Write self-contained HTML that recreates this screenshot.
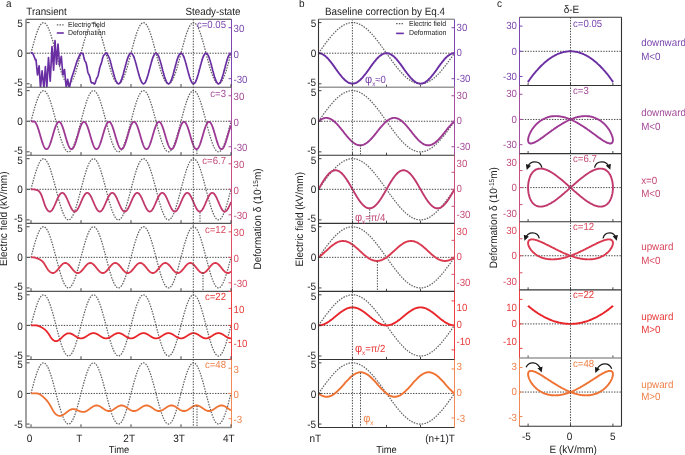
<!DOCTYPE html>
<html><head><meta charset="utf-8"><style>
html,body{margin:0;padding:0;background:#fff;width:685px;height:455px;overflow:hidden}
svg{display:block;will-change:transform}
text{font-family:"Liberation Sans",sans-serif;text-rendering:geometricPrecision}
</style></head><body>
<svg width="685" height="455" viewBox="0 0 685 455" font-family="Liberation Sans, sans-serif"><defs><clipPath id="ca0"><rect x="26" y="19.2" width="205.5" height="68.05"/></clipPath><clipPath id="ca1"><rect x="26" y="87.25" width="205.5" height="68.05"/></clipPath><clipPath id="ca2"><rect x="26" y="155.3" width="205.5" height="68.05"/></clipPath><clipPath id="ca3"><rect x="26" y="223.35" width="205.5" height="68.05"/></clipPath><clipPath id="ca4"><rect x="26" y="291.4" width="205.5" height="68.05"/></clipPath><clipPath id="ca5"><rect x="26" y="359.45" width="205.5" height="68.05"/></clipPath><clipPath id="cb0"><rect x="318.5" y="19.2" width="136" height="68.05"/></clipPath><clipPath id="cb1"><rect x="318.5" y="87.25" width="136" height="68.05"/></clipPath><clipPath id="cb2"><rect x="318.5" y="155.3" width="136" height="68.05"/></clipPath><clipPath id="cb3"><rect x="318.5" y="223.35" width="136" height="68.05"/></clipPath><clipPath id="cb4"><rect x="318.5" y="291.4" width="136" height="68.05"/></clipPath><clipPath id="cb5"><rect x="318.5" y="359.45" width="136" height="68.05"/></clipPath><clipPath id="cc0"><rect x="519.5" y="17.3" width="102" height="68.15"/></clipPath><clipPath id="cc1"><rect x="519.5" y="85.45" width="102" height="68.15"/></clipPath><clipPath id="cc2"><rect x="519.5" y="153.6" width="102" height="68.15"/></clipPath><clipPath id="cc3"><rect x="519.5" y="221.75" width="102" height="68.15"/></clipPath><clipPath id="cc4"><rect x="519.5" y="289.9" width="102" height="68.15"/></clipPath><clipPath id="cc5"><rect x="519.5" y="358.05" width="102" height="68.15"/></clipPath><marker id="ah" viewBox="0 0 10 10" refX="5" refY="5" markerWidth="4.2" markerHeight="4.2" orient="auto-start-reverse"><path d="M0,0 L10,5 L0,10 z" fill="#1a1a1a"/></marker></defs>
<text transform="translate(6,7.3) scale(1,1.07)" font-size="10" fill="#222" text-anchor="start" >a</text>
<text transform="translate(26.3,14.5) scale(1,1.07)" font-size="9.8" fill="#222" text-anchor="start" >Transient</text>
<text transform="translate(240.5,14.6) scale(1,1.07)" font-size="9.8" fill="#222" text-anchor="end" >Steady-state</text>
<text transform="translate(299,7.3) scale(1,1.07)" font-size="10" fill="#222" text-anchor="start" >b</text>
<text transform="translate(385,15.1) scale(1,1.07)" font-size="9.9" fill="#222" text-anchor="middle" >Baseline correction by Eq.4</text>
<text transform="translate(497,7.3) scale(1,1.07)" font-size="10" fill="#222" text-anchor="start" >c</text>
<text transform="translate(571.5,13.2) scale(1,1.07)" font-size="10" fill="#222" text-anchor="middle" >δ-E</text>
<path d="M26,53.2 H231.5" stroke="#484848" stroke-width="1" stroke-dasharray="1.4 1.3" fill="none"/>
<path d="M31,53.2 31.8,50 32.7,46.8 33.5,43.7 34.3,40.8 35.2,37.9 36,35.2 36.8,32.7 37.7,30.5 38.5,28.4 39.3,26.7 40.2,25.2 41,24.1 41.8,23.3 42.7,22.8 43.5,22.6 44.3,22.8 45.2,23.3 46,24.1 46.8,25.2 47.7,26.7 48.5,28.4 49.3,30.5 50.2,32.7 51,35.2 51.8,37.9 52.7,40.8 53.5,43.7 54.3,46.8 55.2,50 56,53.2 56.8,56.4 57.7,59.6 58.5,62.7 59.3,65.6 60.2,68.5 61,71.2 61.8,73.7 62.7,75.9 63.5,78 64.3,79.7 65.2,81.2 66,82.3 66.8,83.1 67.7,83.6 68.5,83.8 69.3,83.6 70.2,83.1 71,82.3 71.8,81.2 72.7,79.7 73.5,78 74.3,75.9 75.2,73.7 76,71.2 76.8,68.5 77.7,65.6 78.5,62.7 79.3,59.6 80.2,56.4 81,53.2 81.8,50 82.7,46.8 83.5,43.7 84.3,40.8 85.2,37.9 86,35.2 86.8,32.7 87.7,30.5 88.5,28.4 89.3,26.7 90.2,25.2 91,24.1 91.8,23.3 92.7,22.8 93.5,22.6 94.3,22.8 95.2,23.3 96,24.1 96.8,25.2 97.7,26.7 98.5,28.4 99.3,30.5 100.2,32.7 101,35.2 101.8,37.9 102.7,40.8 103.5,43.7 104.3,46.8 105.2,50 106,53.2 106.8,56.4 107.7,59.6 108.5,62.7 109.3,65.6 110.2,68.5 111,71.2 111.8,73.7 112.7,75.9 113.5,78 114.3,79.7 115.2,81.2 116,82.3 116.8,83.1 117.7,83.6 118.5,83.8 119.3,83.6 120.2,83.1 121,82.3 121.8,81.2 122.7,79.7 123.5,78 124.3,75.9 125.2,73.7 126,71.2 126.8,68.5 127.7,65.6 128.5,62.7 129.3,59.6 130.2,56.4 131,53.2 131.8,50 132.7,46.8 133.5,43.7 134.3,40.8 135.2,37.9 136,35.2 136.8,32.7 137.7,30.5 138.5,28.4 139.3,26.7 140.2,25.2 141,24.1 141.8,23.3 142.7,22.8 143.5,22.6 144.3,22.8 145.2,23.3 146,24.1 146.8,25.2 147.7,26.7 148.5,28.4 149.3,30.5 150.2,32.7 151,35.2 151.8,37.9 152.7,40.8 153.5,43.7 154.3,46.8 155.2,50 156,53.2 156.8,56.4 157.7,59.6 158.5,62.7 159.3,65.6 160.2,68.5 161,71.2 161.8,73.7 162.7,75.9 163.5,78 164.3,79.7 165.2,81.2 166,82.3 166.8,83.1 167.7,83.6 168.5,83.8 169.3,83.6 170.2,83.1 171,82.3 171.8,81.2 172.7,79.7 173.5,78 174.3,75.9 175.2,73.7 176,71.2 176.8,68.5 177.7,65.6 178.5,62.7 179.3,59.6 180.2,56.4 181,53.2 181.8,50 182.7,46.8 183.5,43.7 184.3,40.8 185.2,37.9 186,35.2 186.8,32.7 187.7,30.5 188.5,28.4 189.3,26.7 190.2,25.2 191,24.1 191.8,23.3 192.7,22.8 193.5,22.6 194.3,22.8 195.2,23.3 196,24.1 196.8,25.2 197.7,26.7 198.5,28.4 199.3,30.5 200.2,32.7 201,35.2 201.8,37.9 202.7,40.8 203.5,43.7 204.3,46.8 205.2,50 206,53.2 206.8,56.4 207.7,59.6 208.5,62.7 209.3,65.6 210.2,68.5 211,71.2 211.8,73.7 212.7,75.9 213.5,78 214.3,79.7 215.2,81.2 216,82.3 216.8,83.1 217.7,83.6 218.5,83.8 219.3,83.6 220.2,83.1 221,82.3 221.8,81.2 222.7,79.7 223.5,78 224.3,75.9 225.2,73.7 226,71.2 226.8,68.5 227.7,65.6 228.5,62.7 229.3,59.6 230.2,56.4 231,53.2" stroke="#626262" stroke-width="1.25" stroke-dasharray="1.5 1.2" fill="none" clip-path="url(#ca0)"/>
<path d="M30.8,53.2 32.7,53.2 34.5,57.5 35.4,59.9 36,59.6 37.5,75 39.1,65.9 40.5,88.1 42.1,70.8 43.9,88.1 45.4,66.6 46.8,88.1 48.5,57.5 50.2,81.1 52,46.6 53.6,70.1 55,40.5 56.5,64.1 58,44.1 59.6,65.3 61.3,56.3 62.9,75 64.5,69.6 66.3,88.1 67.7,79.3 69.3,88.1 71.4,78.6 73.8,71.4 76.8,61.7 80.4,53.4 80.7,53.2 81.1,53.2 81.4,53.3 81.7,53.5 82.1,53.6 82.4,53.3 82.7,53.4 83.1,54.1 83.4,55.2 83.7,56.7 84.1,58.3 84.4,59.6 84.7,60.6 85.1,61.2 85.4,61.6 85.7,62.1 86.1,62.9 86.4,64.2 86.7,65.8 87.1,67.7 87.4,69.7 87.7,71.4 88.1,72.7 88.4,73.6 88.7,74.2 89.1,74.8 89.4,75.4 89.7,76.4 90.1,77.7 90.4,79.2 90.7,80.7 91.1,81.9 91.4,82.7 91.7,83 92.1,83 92.4,82.9 92.7,82.8 93.1,82.8 93.4,83.1 93.7,83.5 94.1,83.9 94.4,84.1 94.7,83.9 95.1,83.3 95.4,82.4 95.7,81.3 96.1,80.1 96.4,79.1 96.7,78.4 97.1,77.7 97.4,77.2 97.7,76.5 98.1,75.5 98.4,74.2 98.7,72.7 99.1,71 99.4,69.4 99.7,67.9 100.1,66.7 100.4,65.7 100.7,64.8 101.1,63.9 101.4,62.9 101.7,61.7 102.1,60.4 102.4,59 102.7,57.8 103.1,56.7 103.4,55.8 103.7,55.3 104.1,54.9 104.4,54.7 104.7,54.4 105.1,54.1 105.4,53.7 105.7,53.3 106.1,53 106.4,52.9 106.7,53.1 107.1,53.5 107.4,54.1 107.7,54.8 108.1,55.5 108.4,56.2 108.7,56.9 109.1,57.6 109.4,58.3 109.7,59.2 110.1,60.2 110.4,61.4 110.7,62.7 111.1,64.1 111.4,65.4 111.7,66.7 112.1,68 112.4,69.1 112.7,70.3 113.1,71.5 113.4,72.7 113.7,73.9 114.1,75.2 114.4,76.4 114.7,77.5 115.1,78.6 115.4,79.5 115.7,80.3 116.1,81 116.4,81.7 116.7,82.3 117.1,82.8 117.4,83.2 117.7,83.5 118.1,83.7 118.4,83.8 118.7,83.8 119.1,83.6 119.4,83.4 119.7,83.1 120.1,82.6 120.4,82.1 120.7,81.5 121.1,80.7 121.4,79.9 121.7,79 122.1,78.1 122.4,77 122.7,75.9 123.1,74.8 123.4,73.6 123.7,72.4 124.1,71.1 124.4,69.8 124.7,68.6 125.1,67.3 125.4,66 125.7,64.8 126.1,63.5 126.4,62.3 126.7,61.2 127.1,60.1 127.4,59 127.7,58.1 128.1,57.2 128.4,56.4 128.7,55.6 129.1,55 129.4,54.4 129.7,54 130.1,53.6 130.4,53.4 130.7,53.2 131.1,53.2 131.4,53.3 131.7,53.5 132.1,53.7 132.4,54.1 132.7,54.6 133.1,55.2 133.4,55.9 133.7,56.7 134.1,57.5 134.4,58.5 134.7,59.5 135.1,60.5 135.4,61.6 135.7,62.8 136.1,64 136.4,65.3 136.7,66.5 137.1,67.8 137.4,69.1 137.7,70.4 138.1,71.6 138.4,72.9 138.7,74.1 139.1,75.2 139.4,76.4 139.7,77.4 140.1,78.4 140.4,79.4 140.7,80.2 141.1,81 141.4,81.7 141.7,82.3 142.1,82.8 142.4,83.2 142.7,83.5 143.1,83.7 143.4,83.8 143.7,83.8 144.1,83.6 144.4,83.4 144.7,83.1 145.1,82.6 145.4,82.1 145.7,81.5 146.1,80.7 146.4,79.9 146.7,79 147.1,78.1 147.4,77 147.7,75.9 148.1,74.8 148.4,73.6 148.7,72.4 149.1,71.1 149.4,69.8 149.7,68.6 150.1,67.3 150.4,66 150.7,64.8 151.1,63.5 151.4,62.3 151.7,61.2 152.1,60.1 152.4,59 152.7,58.1 153.1,57.2 153.4,56.4 153.7,55.6 154.1,55 154.4,54.4 154.7,54 155.1,53.6 155.4,53.4 155.7,53.2 156.1,53.2 156.4,53.3 156.7,53.5 157.1,53.7 157.4,54.1 157.7,54.6 158.1,55.2 158.4,55.9 158.7,56.7 159.1,57.5 159.4,58.5 159.7,59.5 160.1,60.5 160.4,61.6 160.7,62.8 161.1,64 161.4,65.3 161.7,66.5 162.1,67.8 162.4,69.1 162.7,70.4 163.1,71.6 163.4,72.9 163.7,74.1 164.1,75.2 164.4,76.4 164.7,77.4 165.1,78.4 165.4,79.4 165.7,80.2 166.1,81 166.4,81.7 166.7,82.3 167.1,82.8 167.4,83.2 167.7,83.5 168.1,83.7 168.4,83.8 168.7,83.8 169.1,83.6 169.4,83.4 169.7,83.1 170.1,82.6 170.4,82.1 170.7,81.5 171.1,80.7 171.4,79.9 171.7,79 172.1,78.1 172.4,77 172.7,75.9 173.1,74.8 173.4,73.6 173.7,72.4 174.1,71.1 174.4,69.8 174.7,68.6 175.1,67.3 175.4,66 175.7,64.8 176.1,63.5 176.4,62.3 176.7,61.2 177.1,60.1 177.4,59 177.7,58.1 178.1,57.2 178.4,56.4 178.7,55.6 179.1,55 179.4,54.4 179.7,54 180.1,53.6 180.4,53.4 180.7,53.2 181.1,53.2 181.4,53.3 181.7,53.5 182.1,53.7 182.4,54.1 182.7,54.6 183.1,55.2 183.4,55.9 183.7,56.7 184.1,57.5 184.4,58.5 184.7,59.5 185.1,60.5 185.4,61.6 185.7,62.8 186.1,64 186.4,65.3 186.7,66.5 187.1,67.8 187.4,69.1 187.7,70.4 188.1,71.6 188.4,72.9 188.7,74.1 189.1,75.2 189.4,76.4 189.7,77.4 190.1,78.4 190.4,79.4 190.7,80.2 191.1,81 191.4,81.7 191.7,82.3 192.1,82.8 192.4,83.2 192.7,83.5 193.1,83.7 193.4,83.8 193.7,83.8 194.1,83.6 194.4,83.4 194.7,83.1 195.1,82.6 195.4,82.1 195.7,81.5 196.1,80.7 196.4,79.9 196.7,79 197.1,78.1 197.4,77 197.7,75.9 198.1,74.8 198.4,73.6 198.7,72.4 199.1,71.1 199.4,69.8 199.7,68.6 200.1,67.3 200.4,66 200.7,64.8 201.1,63.5 201.4,62.3 201.7,61.2 202.1,60.1 202.4,59 202.7,58.1 203.1,57.2 203.4,56.4 203.7,55.6 204.1,55 204.4,54.4 204.7,54 205.1,53.6 205.4,53.4 205.7,53.2 206.1,53.2 206.4,53.3 206.7,53.5 207.1,53.7 207.4,54.1 207.7,54.6 208.1,55.2 208.4,55.9 208.7,56.7 209.1,57.5 209.4,58.5 209.7,59.5 210.1,60.5 210.4,61.6 210.7,62.8 211.1,64 211.4,65.3 211.7,66.5 212.1,67.8 212.4,69.1 212.7,70.4 213.1,71.6 213.4,72.9 213.7,74.1 214.1,75.2 214.4,76.4 214.7,77.4 215.1,78.4 215.4,79.4 215.7,80.2 216.1,81 216.4,81.7 216.7,82.3 217.1,82.8 217.4,83.2 217.7,83.5 218.1,83.7 218.4,83.8 218.7,83.8 219.1,83.6 219.4,83.4 219.7,83.1 220.1,82.6 220.4,82.1 220.7,81.5 221.1,80.7 221.4,79.9 221.7,79 222.1,78.1 222.4,77 222.7,75.9 223.1,74.8 223.4,73.6 223.7,72.4 224.1,71.1 224.4,69.8 224.7,68.6 225.1,67.3 225.4,66 225.7,64.8 226.1,63.5 226.4,62.3 226.7,61.2 227.1,60.1 227.4,59 227.7,58.1 228.1,57.2 228.4,56.4 228.7,55.6 229.1,55 229.4,54.4 229.7,54 230.1,53.6 230.4,53.4 230.7,53.2" stroke="#6a2ea3" stroke-width="1.7" fill="none" stroke-linejoin="round" clip-path="url(#ca0)"/>
<path d="M26,121.25 H231.5" stroke="#484848" stroke-width="1" stroke-dasharray="1.4 1.3" fill="none"/>
<path d="M31,121.2 31.8,118.1 32.7,114.9 33.5,111.8 34.3,108.8 35.2,106 36,103.3 36.8,100.8 37.7,98.5 38.5,96.5 39.3,94.7 40.2,93.3 41,92.1 41.8,91.3 42.7,90.8 43.5,90.7 44.3,90.8 45.2,91.3 46,92.1 46.8,93.3 47.7,94.7 48.5,96.5 49.3,98.5 50.2,100.8 51,103.3 51.8,106 52.7,108.8 53.5,111.8 54.3,114.9 55.2,118.1 56,121.2 56.8,124.4 57.7,127.6 58.5,130.7 59.3,133.7 60.2,136.6 61,139.2 61.8,141.7 62.7,144 63.5,146 64.3,147.8 65.2,149.2 66,150.4 66.8,151.2 67.7,151.7 68.5,151.8 69.3,151.7 70.2,151.2 71,150.4 71.8,149.2 72.7,147.8 73.5,146 74.3,144 75.2,141.7 76,139.2 76.8,136.6 77.7,133.7 78.5,130.7 79.3,127.6 80.2,124.4 81,121.3 81.8,118.1 82.7,114.9 83.5,111.8 84.3,108.8 85.2,106 86,103.3 86.8,100.8 87.7,98.5 88.5,96.5 89.3,94.7 90.2,93.3 91,92.1 91.8,91.3 92.7,90.8 93.5,90.7 94.3,90.8 95.2,91.3 96,92.1 96.8,93.3 97.7,94.7 98.5,96.5 99.3,98.5 100.2,100.8 101,103.3 101.8,106 102.7,108.8 103.5,111.8 104.3,114.9 105.2,118.1 106,121.2 106.8,124.4 107.7,127.6 108.5,130.7 109.3,133.7 110.2,136.5 111,139.2 111.8,141.7 112.7,144 113.5,146 114.3,147.8 115.2,149.2 116,150.4 116.8,151.2 117.7,151.7 118.5,151.8 119.3,151.7 120.2,151.2 121,150.4 121.8,149.2 122.7,147.8 123.5,146 124.3,144 125.2,141.7 126,139.2 126.8,136.6 127.7,133.7 128.5,130.7 129.3,127.6 130.2,124.4 131,121.3 131.8,118.1 132.7,114.9 133.5,111.8 134.3,108.8 135.2,105.9 136,103.3 136.8,100.8 137.7,98.5 138.5,96.5 139.3,94.7 140.2,93.3 141,92.1 141.8,91.3 142.7,90.8 143.5,90.7 144.3,90.8 145.2,91.3 146,92.1 146.8,93.3 147.7,94.7 148.5,96.5 149.3,98.5 150.2,100.8 151,103.3 151.8,105.9 152.7,108.8 153.5,111.8 154.3,114.9 155.2,118.1 156,121.2 156.8,124.4 157.7,127.6 158.5,130.7 159.3,133.7 160.2,136.5 161,139.2 161.8,141.7 162.7,144 163.5,146 164.3,147.8 165.2,149.2 166,150.4 166.8,151.2 167.7,151.7 168.5,151.8 169.3,151.7 170.2,151.2 171,150.4 171.8,149.2 172.7,147.8 173.5,146 174.3,144 175.2,141.7 176,139.2 176.8,136.6 177.7,133.7 178.5,130.7 179.3,127.6 180.2,124.4 181,121.3 181.8,118.1 182.7,114.9 183.5,111.8 184.3,108.8 185.2,106 186,103.3 186.8,100.8 187.7,98.5 188.5,96.5 189.3,94.7 190.2,93.3 191,92.1 191.8,91.3 192.7,90.8 193.5,90.7 194.3,90.8 195.2,91.3 196,92.1 196.8,93.3 197.7,94.7 198.5,96.5 199.3,98.5 200.2,100.8 201,103.3 201.8,105.9 202.7,108.8 203.5,111.8 204.3,114.9 205.2,118.1 206,121.2 206.8,124.4 207.7,127.6 208.5,130.7 209.3,133.7 210.2,136.5 211,139.2 211.8,141.7 212.7,144 213.5,146 214.3,147.8 215.2,149.2 216,150.4 216.8,151.2 217.7,151.7 218.5,151.8 219.3,151.7 220.2,151.2 221,150.4 221.8,149.2 222.7,147.8 223.5,146 224.3,144 225.2,141.7 226,139.2 226.8,136.6 227.7,133.7 228.5,130.7 229.3,127.6 230.2,124.4 231,121.3" stroke="#626262" stroke-width="1.25" stroke-dasharray="1.5 1.2" fill="none" clip-path="url(#ca1)"/>
<path d="M31,121.2 31.5,121.3 32,121.4 32.5,121.5 33,121.5 33.5,121.5 34,121.5 34.5,121.6 35,121.9 35.5,122.5 36,123.3 36.5,124.3 37,125.5 37.5,126.7 38,128.1 38.5,129.6 39,131.3 39.5,132.9 40,134.6 40.5,136.4 41,138.1 41.5,139.7 42,141.4 42.5,142.9 43,144.3 43.5,145.5 44,146.6 44.5,147.5 45,148.3 45.5,148.8 46,149.1 46.5,149.2 47,149.1 47.5,148.8 48,148.3 48.5,147.5 49,146.6 49.5,145.5 50,144.3 50.5,142.9 51,141.4 51.5,139.7 52,138.1 52.5,136.4 53,134.6 53.5,132.9 54,131.3 54.5,129.6 55,128.1 55.5,126.7 56,125.5 56.5,124.4 57,123.5 57.5,122.7 58,122.2 58.5,121.9 59,121.8 59.5,121.9 60,122.2 60.5,122.7 61,123.5 61.5,124.4 62,125.5 62.5,126.7 63,128.1 63.5,129.6 64,131.3 64.5,132.9 65,134.6 65.5,136.4 66,138.1 66.5,139.7 67,141.4 67.5,142.9 68,144.3 68.5,145.5 69,146.6 69.5,147.5 70,148.3 70.5,148.8 71,149.1 71.5,149.2 72,149.1 72.5,148.8 73,148.3 73.5,147.5 74,146.6 74.5,145.5 75,144.3 75.5,142.9 76,141.4 76.5,139.7 77,138.1 77.5,136.4 78,134.6 78.5,132.9 79,131.3 79.5,129.6 80,128.1 80.5,126.7 81,125.5 81.5,124.4 82,123.5 82.5,122.7 83,122.2 83.5,121.9 84,121.8 84.5,121.9 85,122.2 85.5,122.7 86,123.5 86.5,124.4 87,125.5 87.5,126.7 88,128.1 88.5,129.6 89,131.3 89.5,132.9 90,134.6 90.5,136.4 91,138.1 91.5,139.7 92,141.4 92.5,142.9 93,144.3 93.5,145.5 94,146.6 94.5,147.5 95,148.3 95.5,148.8 96,149.1 96.5,149.2 97,149.1 97.5,148.8 98,148.3 98.5,147.5 99,146.6 99.5,145.5 100,144.3 100.5,142.9 101,141.4 101.5,139.7 102,138.1 102.5,136.4 103,134.6 103.5,132.9 104,131.3 104.5,129.6 105,128.1 105.5,126.7 106,125.5 106.5,124.4 107,123.5 107.5,122.7 108,122.2 108.5,121.9 109,121.8 109.5,121.9 110,122.2 110.5,122.7 111,123.5 111.5,124.4 112,125.5 112.5,126.7 113,128.1 113.5,129.6 114,131.3 114.5,132.9 115,134.6 115.5,136.4 116,138.1 116.5,139.7 117,141.4 117.5,142.9 118,144.3 118.5,145.5 119,146.6 119.5,147.5 120,148.3 120.5,148.8 121,149.1 121.5,149.2 122,149.1 122.5,148.8 123,148.3 123.5,147.5 124,146.6 124.5,145.5 125,144.3 125.5,142.9 126,141.4 126.5,139.7 127,138.1 127.5,136.4 128,134.6 128.5,132.9 129,131.3 129.5,129.6 130,128.1 130.5,126.7 131,125.5 131.5,124.4 132,123.5 132.5,122.7 133,122.2 133.5,121.9 134,121.8 134.5,121.9 135,122.2 135.5,122.7 136,123.5 136.5,124.4 137,125.5 137.5,126.7 138,128.1 138.5,129.6 139,131.3 139.5,132.9 140,134.6 140.5,136.4 141,138.1 141.5,139.7 142,141.4 142.5,142.9 143,144.3 143.5,145.5 144,146.6 144.5,147.5 145,148.3 145.5,148.8 146,149.1 146.5,149.2 147,149.1 147.5,148.8 148,148.3 148.5,147.5 149,146.6 149.5,145.5 150,144.3 150.5,142.9 151,141.4 151.5,139.7 152,138.1 152.5,136.4 153,134.6 153.5,132.9 154,131.3 154.5,129.6 155,128.1 155.5,126.7 156,125.5 156.5,124.4 157,123.5 157.5,122.7 158,122.2 158.5,121.9 159,121.8 159.5,121.9 160,122.2 160.5,122.7 161,123.5 161.5,124.4 162,125.5 162.5,126.7 163,128.1 163.5,129.6 164,131.3 164.5,132.9 165,134.6 165.5,136.4 166,138.1 166.5,139.7 167,141.4 167.5,142.9 168,144.3 168.5,145.5 169,146.6 169.5,147.5 170,148.3 170.5,148.8 171,149.1 171.5,149.2 172,149.1 172.5,148.8 173,148.3 173.5,147.5 174,146.6 174.5,145.5 175,144.3 175.5,142.9 176,141.4 176.5,139.7 177,138.1 177.5,136.4 178,134.6 178.5,132.9 179,131.3 179.5,129.6 180,128.1 180.5,126.7 181,125.5 181.5,124.4 182,123.5 182.5,122.7 183,122.2 183.5,121.9 184,121.8 184.5,121.9 185,122.2 185.5,122.7 186,123.5 186.5,124.4 187,125.5 187.5,126.7 188,128.1 188.5,129.6 189,131.3 189.5,132.9 190,134.6 190.5,136.4 191,138.1 191.5,139.7 192,141.4 192.5,142.9 193,144.3 193.5,145.5 194,146.6 194.5,147.5 195,148.3 195.5,148.8 196,149.1 196.5,149.2 197,149.1 197.5,148.8 198,148.3 198.5,147.5 199,146.6 199.5,145.5 200,144.3 200.5,142.9 201,141.4 201.5,139.7 202,138.1 202.5,136.4 203,134.6 203.5,132.9 204,131.3 204.5,129.6 205,128.1 205.5,126.7 206,125.5 206.5,124.4 207,123.5 207.5,122.7 208,122.2 208.5,121.9 209,121.8 209.5,121.9 210,122.2 210.5,122.7 211,123.5 211.5,124.4 212,125.5 212.5,126.7 213,128.1 213.5,129.6 214,131.3 214.5,132.9 215,134.6 215.5,136.4 216,138.1 216.5,139.7 217,141.4 217.5,142.9 218,144.3 218.5,145.5 219,146.6 219.5,147.5 220,148.3 220.5,148.8 221,149.1 221.5,149.2 222,149.1 222.5,148.8 223,148.3 223.5,147.5 224,146.6 224.5,145.5 225,144.3 225.5,142.9 226,141.4 226.5,139.7 227,138.1 227.5,136.4 228,134.6 228.5,132.9 229,131.3 229.5,129.6 230,128.1 230.5,126.7 231,125.5" stroke="#9d3893" stroke-width="1.8" fill="none" stroke-linejoin="round" clip-path="url(#ca1)"/>
<path d="M26,189.3 H231.5" stroke="#484848" stroke-width="1" stroke-dasharray="1.4 1.3" fill="none"/>
<path d="M31,189.3 31.8,186.1 32.7,182.9 33.5,179.8 34.3,176.9 35.2,174 36,171.3 36.8,168.8 37.7,166.6 38.5,164.5 39.3,162.8 40.2,161.3 41,160.2 41.8,159.4 42.7,158.9 43.5,158.7 44.3,158.9 45.2,159.4 46,160.2 46.8,161.3 47.7,162.8 48.5,164.5 49.3,166.6 50.2,168.8 51,171.3 51.8,174 52.7,176.9 53.5,179.8 54.3,182.9 55.2,186.1 56,189.3 56.8,192.5 57.7,195.7 58.5,198.8 59.3,201.7 60.2,204.6 61,207.3 61.8,209.8 62.7,212 63.5,214.1 64.3,215.8 65.2,217.3 66,218.4 66.8,219.2 67.7,219.7 68.5,219.9 69.3,219.7 70.2,219.2 71,218.4 71.8,217.3 72.7,215.8 73.5,214.1 74.3,212 75.2,209.8 76,207.3 76.8,204.6 77.7,201.7 78.5,198.8 79.3,195.7 80.2,192.5 81,189.3 81.8,186.1 82.7,182.9 83.5,179.8 84.3,176.9 85.2,174 86,171.3 86.8,168.8 87.7,166.6 88.5,164.5 89.3,162.8 90.2,161.3 91,160.2 91.8,159.4 92.7,158.9 93.5,158.7 94.3,158.9 95.2,159.4 96,160.2 96.8,161.3 97.7,162.8 98.5,164.5 99.3,166.6 100.2,168.8 101,171.3 101.8,174 102.7,176.9 103.5,179.8 104.3,182.9 105.2,186.1 106,189.3 106.8,192.5 107.7,195.7 108.5,198.8 109.3,201.7 110.2,204.6 111,207.3 111.8,209.8 112.7,212 113.5,214.1 114.3,215.8 115.2,217.3 116,218.4 116.8,219.2 117.7,219.7 118.5,219.9 119.3,219.7 120.2,219.2 121,218.4 121.8,217.3 122.7,215.8 123.5,214.1 124.3,212 125.2,209.8 126,207.3 126.8,204.6 127.7,201.7 128.5,198.8 129.3,195.7 130.2,192.5 131,189.3 131.8,186.1 132.7,182.9 133.5,179.8 134.3,176.9 135.2,174 136,171.3 136.8,168.8 137.7,166.6 138.5,164.5 139.3,162.8 140.2,161.3 141,160.2 141.8,159.4 142.7,158.9 143.5,158.7 144.3,158.9 145.2,159.4 146,160.2 146.8,161.3 147.7,162.8 148.5,164.5 149.3,166.6 150.2,168.8 151,171.3 151.8,174 152.7,176.9 153.5,179.8 154.3,182.9 155.2,186.1 156,189.3 156.8,192.5 157.7,195.7 158.5,198.8 159.3,201.7 160.2,204.6 161,207.3 161.8,209.8 162.7,212 163.5,214.1 164.3,215.8 165.2,217.3 166,218.4 166.8,219.2 167.7,219.7 168.5,219.9 169.3,219.7 170.2,219.2 171,218.4 171.8,217.3 172.7,215.8 173.5,214.1 174.3,212 175.2,209.8 176,207.3 176.8,204.6 177.7,201.7 178.5,198.8 179.3,195.7 180.2,192.5 181,189.3 181.8,186.1 182.7,182.9 183.5,179.8 184.3,176.9 185.2,174 186,171.3 186.8,168.8 187.7,166.6 188.5,164.5 189.3,162.8 190.2,161.3 191,160.2 191.8,159.4 192.7,158.9 193.5,158.7 194.3,158.9 195.2,159.4 196,160.2 196.8,161.3 197.7,162.8 198.5,164.5 199.3,166.6 200.2,168.8 201,171.3 201.8,174 202.7,176.9 203.5,179.8 204.3,182.9 205.2,186.1 206,189.3 206.8,192.5 207.7,195.7 208.5,198.8 209.3,201.7 210.2,204.6 211,207.3 211.8,209.8 212.7,212 213.5,214.1 214.3,215.8 215.2,217.3 216,218.4 216.8,219.2 217.7,219.7 218.5,219.9 219.3,219.7 220.2,219.2 221,218.4 221.8,217.3 222.7,215.8 223.5,214.1 224.3,212 225.2,209.8 226,207.3 226.8,204.6 227.7,201.7 228.5,198.8 229.3,195.7 230.2,192.5 231,189.3" stroke="#626262" stroke-width="1.25" stroke-dasharray="1.5 1.2" fill="none" clip-path="url(#ca2)"/>
<path d="M31,189.3 31.5,189.3 32,189.3 32.5,189.3 33,189.3 33.5,189.3 34,189.4 34.5,189.5 35,189.6 35.5,189.7 36,189.8 36.5,190 37,190.1 37.5,190.3 38,190.5 38.5,190.8 39,191.2 39.5,191.8 40,192.5 40.5,193.3 41,194.2 41.5,195.4 42,196.6 42.5,198 43,199.4 43.5,201 44,202.5 44.5,204 45,205.4 45.5,206.7 46,207.7 46.5,208.6 47,209.4 47.5,210.1 48,210.7 48.5,211.1 49,211.4 49.5,211.6 50,211.6 50.5,211.4 51,211.1 51.5,210.7 52,210.1 52.5,209.4 53,208.6 53.5,207.7 54,206.7 54.5,205.7 55,204.5 55.5,203.4 56,202.2 56.5,201 57,199.9 57.5,198.7 58,197.7 58.5,196.7 59,195.8 59.5,195 60,194.3 60.5,193.7 61,193.3 61.5,193 62,192.8 62.5,192.8 63,193 63.5,193.3 64,193.7 64.5,194.3 65,195 65.5,195.8 66,196.7 66.5,197.7 67,198.7 67.5,199.9 68,201 68.5,202.2 69,203.4 69.5,204.5 70,205.7 70.5,206.7 71,207.7 71.5,208.6 72,209.4 72.5,210.1 73,210.7 73.5,211.1 74,211.4 74.5,211.6 75,211.6 75.5,211.4 76,211.1 76.5,210.7 77,210.1 77.5,209.4 78,208.6 78.5,207.7 79,206.7 79.5,205.7 80,204.5 80.5,203.4 81,202.2 81.5,201 82,199.9 82.5,198.7 83,197.7 83.5,196.7 84,195.8 84.5,195 85,194.3 85.5,193.7 86,193.3 86.5,193 87,192.8 87.5,192.8 88,193 88.5,193.3 89,193.7 89.5,194.3 90,195 90.5,195.8 91,196.7 91.5,197.7 92,198.7 92.5,199.9 93,201 93.5,202.2 94,203.4 94.5,204.5 95,205.7 95.5,206.7 96,207.7 96.5,208.6 97,209.4 97.5,210.1 98,210.7 98.5,211.1 99,211.4 99.5,211.6 100,211.6 100.5,211.4 101,211.1 101.5,210.7 102,210.1 102.5,209.4 103,208.6 103.5,207.7 104,206.7 104.5,205.7 105,204.5 105.5,203.4 106,202.2 106.5,201 107,199.9 107.5,198.7 108,197.7 108.5,196.7 109,195.8 109.5,195 110,194.3 110.5,193.7 111,193.3 111.5,193 112,192.8 112.5,192.8 113,193 113.5,193.3 114,193.7 114.5,194.3 115,195 115.5,195.8 116,196.7 116.5,197.7 117,198.7 117.5,199.9 118,201 118.5,202.2 119,203.4 119.5,204.5 120,205.7 120.5,206.7 121,207.7 121.5,208.6 122,209.4 122.5,210.1 123,210.7 123.5,211.1 124,211.4 124.5,211.6 125,211.6 125.5,211.4 126,211.1 126.5,210.7 127,210.1 127.5,209.4 128,208.6 128.5,207.7 129,206.7 129.5,205.7 130,204.5 130.5,203.4 131,202.2 131.5,201 132,199.9 132.5,198.7 133,197.7 133.5,196.7 134,195.8 134.5,195 135,194.3 135.5,193.7 136,193.3 136.5,193 137,192.8 137.5,192.8 138,193 138.5,193.3 139,193.7 139.5,194.3 140,195 140.5,195.8 141,196.7 141.5,197.7 142,198.7 142.5,199.9 143,201 143.5,202.2 144,203.4 144.5,204.5 145,205.7 145.5,206.7 146,207.7 146.5,208.6 147,209.4 147.5,210.1 148,210.7 148.5,211.1 149,211.4 149.5,211.6 150,211.6 150.5,211.4 151,211.1 151.5,210.7 152,210.1 152.5,209.4 153,208.6 153.5,207.7 154,206.7 154.5,205.7 155,204.5 155.5,203.4 156,202.2 156.5,201 157,199.9 157.5,198.7 158,197.7 158.5,196.7 159,195.8 159.5,195 160,194.3 160.5,193.7 161,193.3 161.5,193 162,192.8 162.5,192.8 163,193 163.5,193.3 164,193.7 164.5,194.3 165,195 165.5,195.8 166,196.7 166.5,197.7 167,198.7 167.5,199.9 168,201 168.5,202.2 169,203.4 169.5,204.5 170,205.7 170.5,206.7 171,207.7 171.5,208.6 172,209.4 172.5,210.1 173,210.7 173.5,211.1 174,211.4 174.5,211.6 175,211.6 175.5,211.4 176,211.1 176.5,210.7 177,210.1 177.5,209.4 178,208.6 178.5,207.7 179,206.7 179.5,205.7 180,204.5 180.5,203.4 181,202.2 181.5,201 182,199.9 182.5,198.7 183,197.7 183.5,196.7 184,195.8 184.5,195 185,194.3 185.5,193.7 186,193.3 186.5,193 187,192.8 187.5,192.8 188,193 188.5,193.3 189,193.7 189.5,194.3 190,195 190.5,195.8 191,196.7 191.5,197.7 192,198.7 192.5,199.9 193,201 193.5,202.2 194,203.4 194.5,204.5 195,205.7 195.5,206.7 196,207.7 196.5,208.6 197,209.4 197.5,210.1 198,210.7 198.5,211.1 199,211.4 199.5,211.6 200,211.6 200.5,211.4 201,211.1 201.5,210.7 202,210.1 202.5,209.4 203,208.6 203.5,207.7 204,206.7 204.5,205.7 205,204.5 205.5,203.4 206,202.2 206.5,201 207,199.9 207.5,198.7 208,197.7 208.5,196.7 209,195.8 209.5,195 210,194.3 210.5,193.7 211,193.3 211.5,193 212,192.8 212.5,192.8 213,193 213.5,193.3 214,193.7 214.5,194.3 215,195 215.5,195.8 216,196.7 216.5,197.7 217,198.7 217.5,199.9 218,201 218.5,202.2 219,203.4 219.5,204.5 220,205.7 220.5,206.7 221,207.7 221.5,208.6 222,209.4 222.5,210.1 223,210.7 223.5,211.1 224,211.4 224.5,211.6 225,211.6 225.5,211.4 226,211.1 226.5,210.7 227,210.1 227.5,209.4 228,208.6 228.5,207.7 229,206.7 229.5,205.7 230,204.5 230.5,203.4 231,202.2" stroke="#c0386c" stroke-width="1.8" fill="none" stroke-linejoin="round" clip-path="url(#ca2)"/>
<path d="M26,257.35 H231.5" stroke="#484848" stroke-width="1" stroke-dasharray="1.4 1.3" fill="none"/>
<path d="M31,257.3 31.8,254.2 32.7,251 33.5,247.9 34.3,244.9 35.2,242 36,239.4 36.8,236.9 37.7,234.6 38.5,232.6 39.3,230.8 40.2,229.4 41,228.2 41.8,227.4 42.7,226.9 43.5,226.7 44.3,226.9 45.2,227.4 46,228.2 46.8,229.4 47.7,230.8 48.5,232.6 49.3,234.6 50.2,236.9 51,239.4 51.8,242 52.7,244.9 53.5,247.9 54.3,251 55.2,254.2 56,257.3 56.8,260.5 57.7,263.7 58.5,266.8 59.3,269.8 60.2,272.6 61,275.3 61.8,277.8 62.7,280.1 63.5,282.1 64.3,283.9 65.2,285.3 66,286.5 66.8,287.3 67.7,287.8 68.5,287.9 69.3,287.8 70.2,287.3 71,286.5 71.8,285.3 72.7,283.9 73.5,282.1 74.3,280.1 75.2,277.8 76,275.3 76.8,272.6 77.7,269.8 78.5,266.8 79.3,263.7 80.2,260.5 81,257.3 81.8,254.2 82.7,251 83.5,247.9 84.3,244.9 85.2,242 86,239.4 86.8,236.9 87.7,234.6 88.5,232.6 89.3,230.8 90.2,229.4 91,228.2 91.8,227.4 92.7,226.9 93.5,226.7 94.3,226.9 95.2,227.4 96,228.2 96.8,229.4 97.7,230.8 98.5,232.6 99.3,234.6 100.2,236.9 101,239.4 101.8,242 102.7,244.9 103.5,247.9 104.3,251 105.2,254.2 106,257.3 106.8,260.5 107.7,263.7 108.5,266.8 109.3,269.8 110.2,272.6 111,275.3 111.8,277.8 112.7,280.1 113.5,282.1 114.3,283.9 115.2,285.3 116,286.5 116.8,287.3 117.7,287.8 118.5,287.9 119.3,287.8 120.2,287.3 121,286.5 121.8,285.3 122.7,283.9 123.5,282.1 124.3,280.1 125.2,277.8 126,275.3 126.8,272.6 127.7,269.8 128.5,266.8 129.3,263.7 130.2,260.5 131,257.3 131.8,254.2 132.7,251 133.5,247.9 134.3,244.9 135.2,242 136,239.4 136.8,236.9 137.7,234.6 138.5,232.6 139.3,230.8 140.2,229.4 141,228.2 141.8,227.4 142.7,226.9 143.5,226.7 144.3,226.9 145.2,227.4 146,228.2 146.8,229.4 147.7,230.8 148.5,232.6 149.3,234.6 150.2,236.9 151,239.4 151.8,242 152.7,244.9 153.5,247.9 154.3,251 155.2,254.2 156,257.3 156.8,260.5 157.7,263.7 158.5,266.8 159.3,269.8 160.2,272.6 161,275.3 161.8,277.8 162.7,280.1 163.5,282.1 164.3,283.9 165.2,285.3 166,286.5 166.8,287.3 167.7,287.8 168.5,287.9 169.3,287.8 170.2,287.3 171,286.5 171.8,285.3 172.7,283.9 173.5,282.1 174.3,280.1 175.2,277.8 176,275.3 176.8,272.6 177.7,269.8 178.5,266.8 179.3,263.7 180.2,260.5 181,257.3 181.8,254.2 182.7,251 183.5,247.9 184.3,244.9 185.2,242.1 186,239.4 186.8,236.9 187.7,234.6 188.5,232.6 189.3,230.8 190.2,229.4 191,228.2 191.8,227.4 192.7,226.9 193.5,226.7 194.3,226.9 195.2,227.4 196,228.2 196.8,229.4 197.7,230.8 198.5,232.6 199.3,234.6 200.2,236.9 201,239.4 201.8,242 202.7,244.9 203.5,247.9 204.3,251 205.2,254.2 206,257.3 206.8,260.5 207.7,263.7 208.5,266.8 209.3,269.8 210.2,272.6 211,275.3 211.8,277.8 212.7,280.1 213.5,282.1 214.3,283.9 215.2,285.3 216,286.5 216.8,287.3 217.7,287.8 218.5,287.9 219.3,287.8 220.2,287.3 221,286.5 221.8,285.3 222.7,283.9 223.5,282.1 224.3,280.1 225.2,277.8 226,275.3 226.8,272.6 227.7,269.8 228.5,266.8 229.3,263.7 230.2,260.5 231,257.4" stroke="#626262" stroke-width="1.25" stroke-dasharray="1.5 1.2" fill="none" clip-path="url(#ca3)"/>
<path d="M31,257.3 31.5,257.3 32,257.3 32.5,257.3 33,257.3 33.5,257.3 34,257.4 34.5,257.5 35,257.6 35.5,257.8 36,258 36.5,258.2 37,258.3 37.5,258.5 38,258.7 38.5,258.9 39,259.1 39.5,259.4 40,259.6 40.5,259.9 41,260.2 41.5,260.6 42,261 42.5,261.5 43,262 43.5,262.6 44,263.3 44.5,264.1 45,264.9 45.5,265.7 46,266.6 46.5,267.4 47,268.3 47.5,269 48,269.8 48.5,270.4 49,270.9 49.5,271.4 50,271.9 50.5,272.2 51,272.5 51.5,272.8 52,272.9 52.5,273 53,273 53.5,273 54,272.8 54.5,272.6 55,272.3 55.5,271.9 56,271.5 56.5,271 57,270.5 57.5,269.9 58,269.3 58.5,268.7 59,268.1 59.5,267.4 60,266.8 60.5,266.2 61,265.6 61.5,265.1 62,264.6 62.5,264.1 63,263.8 63.5,263.5 64,263.2 64.5,263.1 65,263 65.5,263 66,263 66.5,263.2 67,263.4 67.5,263.7 68,264.1 68.5,264.5 69,265 69.5,265.5 70,266.1 70.5,266.7 71,267.3 71.5,267.9 72,268.6 72.5,269.2 73,269.8 73.5,270.4 74,270.9 74.5,271.4 75,271.9 75.5,272.2 76,272.5 76.5,272.8 77,272.9 77.5,273 78,273 78.5,273 79,272.8 79.5,272.6 80,272.3 80.5,271.9 81,271.5 81.5,271 82,270.5 82.5,269.9 83,269.3 83.5,268.7 84,268.1 84.5,267.4 85,266.8 85.5,266.2 86,265.6 86.5,265.1 87,264.6 87.5,264.1 88,263.8 88.5,263.5 89,263.2 89.5,263.1 90,263 90.5,263 91,263 91.5,263.2 92,263.4 92.5,263.7 93,264.1 93.5,264.5 94,265 94.5,265.5 95,266.1 95.5,266.7 96,267.3 96.5,267.9 97,268.6 97.5,269.2 98,269.8 98.5,270.4 99,270.9 99.5,271.4 100,271.9 100.5,272.2 101,272.5 101.5,272.8 102,272.9 102.5,273 103,273 103.5,273 104,272.8 104.5,272.6 105,272.3 105.5,271.9 106,271.5 106.5,271 107,270.5 107.5,269.9 108,269.3 108.5,268.7 109,268.1 109.5,267.4 110,266.8 110.5,266.2 111,265.6 111.5,265.1 112,264.6 112.5,264.1 113,263.8 113.5,263.5 114,263.2 114.5,263.1 115,263 115.5,263 116,263 116.5,263.2 117,263.4 117.5,263.7 118,264.1 118.5,264.5 119,265 119.5,265.5 120,266.1 120.5,266.7 121,267.3 121.5,267.9 122,268.6 122.5,269.2 123,269.8 123.5,270.4 124,270.9 124.5,271.4 125,271.9 125.5,272.2 126,272.5 126.5,272.8 127,272.9 127.5,273 128,273 128.5,273 129,272.8 129.5,272.6 130,272.3 130.5,271.9 131,271.5 131.5,271 132,270.5 132.5,269.9 133,269.3 133.5,268.7 134,268.1 134.5,267.4 135,266.8 135.5,266.2 136,265.6 136.5,265.1 137,264.6 137.5,264.1 138,263.8 138.5,263.5 139,263.2 139.5,263.1 140,263 140.5,263 141,263 141.5,263.2 142,263.4 142.5,263.7 143,264.1 143.5,264.5 144,265 144.5,265.5 145,266.1 145.5,266.7 146,267.3 146.5,267.9 147,268.6 147.5,269.2 148,269.8 148.5,270.4 149,270.9 149.5,271.4 150,271.9 150.5,272.2 151,272.5 151.5,272.8 152,272.9 152.5,273 153,273 153.5,273 154,272.8 154.5,272.6 155,272.3 155.5,271.9 156,271.5 156.5,271 157,270.5 157.5,269.9 158,269.3 158.5,268.7 159,268.1 159.5,267.4 160,266.8 160.5,266.2 161,265.6 161.5,265.1 162,264.6 162.5,264.1 163,263.8 163.5,263.5 164,263.2 164.5,263.1 165,263 165.5,263 166,263 166.5,263.2 167,263.4 167.5,263.7 168,264.1 168.5,264.5 169,265 169.5,265.5 170,266.1 170.5,266.7 171,267.3 171.5,267.9 172,268.6 172.5,269.2 173,269.8 173.5,270.4 174,270.9 174.5,271.4 175,271.9 175.5,272.2 176,272.5 176.5,272.8 177,272.9 177.5,273 178,273 178.5,273 179,272.8 179.5,272.6 180,272.3 180.5,271.9 181,271.5 181.5,271 182,270.5 182.5,269.9 183,269.3 183.5,268.7 184,268.1 184.5,267.4 185,266.8 185.5,266.2 186,265.6 186.5,265.1 187,264.6 187.5,264.1 188,263.8 188.5,263.5 189,263.2 189.5,263.1 190,263 190.5,263 191,263 191.5,263.2 192,263.4 192.5,263.7 193,264.1 193.5,264.5 194,265 194.5,265.5 195,266.1 195.5,266.7 196,267.3 196.5,267.9 197,268.6 197.5,269.2 198,269.8 198.5,270.4 199,270.9 199.5,271.4 200,271.9 200.5,272.2 201,272.5 201.5,272.8 202,272.9 202.5,273 203,273 203.5,273 204,272.8 204.5,272.6 205,272.3 205.5,271.9 206,271.5 206.5,271 207,270.5 207.5,269.9 208,269.3 208.5,268.7 209,268.1 209.5,267.4 210,266.8 210.5,266.2 211,265.6 211.5,265.1 212,264.6 212.5,264.1 213,263.8 213.5,263.5 214,263.2 214.5,263.1 215,263 215.5,263 216,263 216.5,263.2 217,263.4 217.5,263.7 218,264.1 218.5,264.5 219,265 219.5,265.5 220,266.1 220.5,266.7 221,267.3 221.5,267.9 222,268.6 222.5,269.2 223,269.8 223.5,270.4 224,270.9 224.5,271.4 225,271.9 225.5,272.2 226,272.5 226.5,272.8 227,272.9 227.5,273 228,273 228.5,273 229,272.8 229.5,272.6 230,272.3 230.5,271.9 231,271.5" stroke="#d9384f" stroke-width="1.8" fill="none" stroke-linejoin="round" clip-path="url(#ca3)"/>
<path d="M26,325.4 H231.5" stroke="#484848" stroke-width="1" stroke-dasharray="1.4 1.3" fill="none"/>
<path d="M31,325.4 31.8,322.2 32.7,319 33.5,315.9 34.3,313 35.2,310.1 36,307.4 36.8,304.9 37.7,302.7 38.5,300.6 39.3,298.9 40.2,297.4 41,296.3 41.8,295.5 42.7,295 43.5,294.8 44.3,295 45.2,295.5 46,296.3 46.8,297.4 47.7,298.9 48.5,300.6 49.3,302.7 50.2,304.9 51,307.4 51.8,310.1 52.7,313 53.5,315.9 54.3,319 55.2,322.2 56,325.4 56.8,328.6 57.7,331.8 58.5,334.9 59.3,337.8 60.2,340.7 61,343.4 61.8,345.9 62.7,348.1 63.5,350.2 64.3,351.9 65.2,353.4 66,354.5 66.8,355.3 67.7,355.8 68.5,356 69.3,355.8 70.2,355.3 71,354.5 71.8,353.4 72.7,351.9 73.5,350.2 74.3,348.1 75.2,345.9 76,343.4 76.8,340.7 77.7,337.8 78.5,334.9 79.3,331.8 80.2,328.6 81,325.4 81.8,322.2 82.7,319 83.5,315.9 84.3,313 85.2,310.1 86,307.4 86.8,304.9 87.7,302.7 88.5,300.6 89.3,298.9 90.2,297.4 91,296.3 91.8,295.5 92.7,295 93.5,294.8 94.3,295 95.2,295.5 96,296.3 96.8,297.4 97.7,298.9 98.5,300.6 99.3,302.7 100.2,304.9 101,307.4 101.8,310.1 102.7,313 103.5,315.9 104.3,319 105.2,322.2 106,325.4 106.8,328.6 107.7,331.8 108.5,334.9 109.3,337.8 110.2,340.7 111,343.4 111.8,345.9 112.7,348.1 113.5,350.2 114.3,351.9 115.2,353.4 116,354.5 116.8,355.3 117.7,355.8 118.5,356 119.3,355.8 120.2,355.3 121,354.5 121.8,353.4 122.7,351.9 123.5,350.2 124.3,348.1 125.2,345.9 126,343.4 126.8,340.7 127.7,337.8 128.5,334.9 129.3,331.8 130.2,328.6 131,325.4 131.8,322.2 132.7,319 133.5,315.9 134.3,313 135.2,310.1 136,307.4 136.8,304.9 137.7,302.7 138.5,300.6 139.3,298.9 140.2,297.4 141,296.3 141.8,295.5 142.7,295 143.5,294.8 144.3,295 145.2,295.5 146,296.3 146.8,297.4 147.7,298.9 148.5,300.6 149.3,302.7 150.2,304.9 151,307.4 151.8,310.1 152.7,313 153.5,315.9 154.3,319 155.2,322.2 156,325.4 156.8,328.6 157.7,331.8 158.5,334.9 159.3,337.8 160.2,340.7 161,343.4 161.8,345.9 162.7,348.1 163.5,350.2 164.3,351.9 165.2,353.4 166,354.5 166.8,355.3 167.7,355.8 168.5,356 169.3,355.8 170.2,355.3 171,354.5 171.8,353.4 172.7,351.9 173.5,350.2 174.3,348.1 175.2,345.9 176,343.4 176.8,340.7 177.7,337.8 178.5,334.9 179.3,331.8 180.2,328.6 181,325.4 181.8,322.2 182.7,319 183.5,315.9 184.3,313 185.2,310.1 186,307.4 186.8,304.9 187.7,302.7 188.5,300.6 189.3,298.9 190.2,297.4 191,296.3 191.8,295.5 192.7,295 193.5,294.8 194.3,295 195.2,295.5 196,296.3 196.8,297.4 197.7,298.9 198.5,300.6 199.3,302.7 200.2,304.9 201,307.4 201.8,310.1 202.7,313 203.5,315.9 204.3,319 205.2,322.2 206,325.4 206.8,328.6 207.7,331.8 208.5,334.9 209.3,337.8 210.2,340.7 211,343.4 211.8,345.9 212.7,348.1 213.5,350.2 214.3,351.9 215.2,353.4 216,354.5 216.8,355.3 217.7,355.8 218.5,356 219.3,355.8 220.2,355.3 221,354.5 221.8,353.4 222.7,351.9 223.5,350.2 224.3,348.1 225.2,345.9 226,343.4 226.8,340.7 227.7,337.8 228.5,334.9 229.3,331.8 230.2,328.6 231,325.4" stroke="#626262" stroke-width="1.25" stroke-dasharray="1.5 1.2" fill="none" clip-path="url(#ca4)"/>
<path d="M31,325.4 31.5,325.4 32,325.4 32.5,325.4 33,325.4 33.5,325.4 34,325.4 34.5,325.4 35,325.4 35.5,325.4 36,325.4 36.5,325.4 37,325.5 37.5,325.6 38,325.8 38.5,325.9 39,326.1 39.5,326.3 40,326.6 40.5,326.8 41,327 41.5,327.3 42,327.6 42.5,327.9 43,328.2 43.5,328.5 44,328.9 44.5,329.2 45,329.7 45.5,330.1 46,330.7 46.5,331.2 47,331.8 47.5,332.4 48,333.1 48.5,333.8 49,334.6 49.5,335.3 50,336.1 50.5,336.9 51,337.6 51.5,338.3 52,338.9 52.5,339.5 53,339.9 53.5,340.3 54,340.6 54.5,340.8 55,341 55.5,341.1 56,341.1 56.5,341.1 57,341 57.5,340.8 58,340.6 58.5,340.3 59,340 59.5,339.6 60,339.2 60.5,338.8 61,338.3 61.5,337.8 62,337.3 62.5,336.9 63,336.4 63.5,335.9 64,335.5 64.5,335.1 65,334.7 65.5,334.4 66,334.1 66.5,333.8 67,333.6 67.5,333.4 68,333.3 68.5,333.3 69,333.3 69.5,333.3 70,333.4 70.5,333.5 71,333.7 71.5,333.9 72,334.1 72.5,334.4 73,334.6 73.5,334.9 74,335.3 74.5,335.6 75,335.9 75.5,336.2 76,336.6 76.5,336.9 77,337.2 77.5,337.4 78,337.7 78.5,337.9 79,338.1 79.5,338.2 80,338.3 80.5,338.4 81,338.4 81.5,338.4 82,338.3 82.5,338.2 83,338.1 83.5,337.9 84,337.7 84.5,337.4 85,337.2 85.5,336.9 86,336.6 86.5,336.2 87,335.9 87.5,335.6 88,335.3 88.5,334.9 89,334.6 89.5,334.3 90,334.1 90.5,333.8 91,333.6 91.5,333.4 92,333.3 92.5,333.2 93,333.1 93.5,333.1 94,333.1 94.5,333.2 95,333.3 95.5,333.4 96,333.6 96.5,333.8 97,334.1 97.5,334.3 98,334.6 98.5,334.9 99,335.3 99.5,335.6 100,335.9 100.5,336.2 101,336.6 101.5,336.9 102,337.2 102.5,337.4 103,337.7 103.5,337.9 104,338.1 104.5,338.2 105,338.3 105.5,338.4 106,338.4 106.5,338.4 107,338.3 107.5,338.2 108,338.1 108.5,337.9 109,337.7 109.5,337.4 110,337.2 110.5,336.9 111,336.6 111.5,336.2 112,335.9 112.5,335.6 113,335.3 113.5,334.9 114,334.6 114.5,334.3 115,334.1 115.5,333.8 116,333.6 116.5,333.4 117,333.3 117.5,333.2 118,333.1 118.5,333.1 119,333.1 119.5,333.2 120,333.3 120.5,333.4 121,333.6 121.5,333.8 122,334.1 122.5,334.3 123,334.6 123.5,334.9 124,335.3 124.5,335.6 125,335.9 125.5,336.2 126,336.6 126.5,336.9 127,337.2 127.5,337.4 128,337.7 128.5,337.9 129,338.1 129.5,338.2 130,338.3 130.5,338.4 131,338.4 131.5,338.4 132,338.3 132.5,338.2 133,338.1 133.5,337.9 134,337.7 134.5,337.4 135,337.2 135.5,336.9 136,336.6 136.5,336.2 137,335.9 137.5,335.6 138,335.3 138.5,334.9 139,334.6 139.5,334.3 140,334.1 140.5,333.8 141,333.6 141.5,333.4 142,333.3 142.5,333.2 143,333.1 143.5,333.1 144,333.1 144.5,333.2 145,333.3 145.5,333.4 146,333.6 146.5,333.8 147,334.1 147.5,334.3 148,334.6 148.5,334.9 149,335.3 149.5,335.6 150,335.9 150.5,336.2 151,336.6 151.5,336.9 152,337.2 152.5,337.4 153,337.7 153.5,337.9 154,338.1 154.5,338.2 155,338.3 155.5,338.4 156,338.4 156.5,338.4 157,338.3 157.5,338.2 158,338.1 158.5,337.9 159,337.7 159.5,337.4 160,337.2 160.5,336.9 161,336.6 161.5,336.2 162,335.9 162.5,335.6 163,335.3 163.5,334.9 164,334.6 164.5,334.3 165,334.1 165.5,333.8 166,333.6 166.5,333.4 167,333.3 167.5,333.2 168,333.1 168.5,333.1 169,333.1 169.5,333.2 170,333.3 170.5,333.4 171,333.6 171.5,333.8 172,334.1 172.5,334.3 173,334.6 173.5,334.9 174,335.3 174.5,335.6 175,335.9 175.5,336.2 176,336.6 176.5,336.9 177,337.2 177.5,337.4 178,337.7 178.5,337.9 179,338.1 179.5,338.2 180,338.3 180.5,338.4 181,338.4 181.5,338.4 182,338.3 182.5,338.2 183,338.1 183.5,337.9 184,337.7 184.5,337.4 185,337.2 185.5,336.9 186,336.6 186.5,336.2 187,335.9 187.5,335.6 188,335.3 188.5,334.9 189,334.6 189.5,334.3 190,334.1 190.5,333.8 191,333.6 191.5,333.4 192,333.3 192.5,333.2 193,333.1 193.5,333.1 194,333.1 194.5,333.2 195,333.3 195.5,333.4 196,333.6 196.5,333.8 197,334.1 197.5,334.3 198,334.6 198.5,334.9 199,335.3 199.5,335.6 200,335.9 200.5,336.2 201,336.6 201.5,336.9 202,337.2 202.5,337.4 203,337.7 203.5,337.9 204,338.1 204.5,338.2 205,338.3 205.5,338.4 206,338.4 206.5,338.4 207,338.3 207.5,338.2 208,338.1 208.5,337.9 209,337.7 209.5,337.4 210,337.2 210.5,336.9 211,336.6 211.5,336.2 212,335.9 212.5,335.6 213,335.3 213.5,334.9 214,334.6 214.5,334.3 215,334.1 215.5,333.8 216,333.6 216.5,333.4 217,333.3 217.5,333.2 218,333.1 218.5,333.1 219,333.1 219.5,333.2 220,333.3 220.5,333.4 221,333.6 221.5,333.8 222,334.1 222.5,334.3 223,334.6 223.5,334.9 224,335.3 224.5,335.6 225,335.9 225.5,336.2 226,336.6 226.5,336.9 227,337.2 227.5,337.4 228,337.7 228.5,337.9 229,338.1 229.5,338.2 230,338.3 230.5,338.4 231,338.4" stroke="#e8262a" stroke-width="1.8" fill="none" stroke-linejoin="round" clip-path="url(#ca4)"/>
<path d="M26,393.45 H231.5" stroke="#484848" stroke-width="1" stroke-dasharray="1.4 1.3" fill="none"/>
<path d="M31,393.4 31.8,390.3 32.7,387.1 33.5,384 34.3,381 35.2,378.1 36,375.5 36.8,373 37.7,370.7 38.5,368.7 39.3,366.9 40.2,365.5 41,364.3 41.8,363.5 42.7,363 43.5,362.8 44.3,363 45.2,363.5 46,364.3 46.8,365.5 47.7,366.9 48.5,368.7 49.3,370.7 50.2,373 51,375.5 51.8,378.1 52.7,381 53.5,384 54.3,387.1 55.2,390.3 56,393.4 56.8,396.6 57.7,399.8 58.5,402.9 59.3,405.9 60.2,408.8 61,411.4 61.8,413.9 62.7,416.2 63.5,418.2 64.3,420 65.2,421.4 66,422.6 66.8,423.4 67.7,423.9 68.5,424.1 69.3,423.9 70.2,423.4 71,422.6 71.8,421.4 72.7,420 73.5,418.2 74.3,416.2 75.2,413.9 76,411.4 76.8,408.8 77.7,405.9 78.5,402.9 79.3,399.8 80.2,396.6 81,393.4 81.8,390.3 82.7,387.1 83.5,384 84.3,381 85.2,378.2 86,375.5 86.8,373 87.7,370.7 88.5,368.7 89.3,366.9 90.2,365.5 91,364.3 91.8,363.5 92.7,363 93.5,362.8 94.3,363 95.2,363.5 96,364.3 96.8,365.5 97.7,366.9 98.5,368.7 99.3,370.7 100.2,373 101,375.5 101.8,378.1 102.7,381 103.5,384 104.3,387.1 105.2,390.3 106,393.4 106.8,396.6 107.7,399.8 108.5,402.9 109.3,405.9 110.2,408.7 111,411.4 111.8,413.9 112.7,416.2 113.5,418.2 114.3,420 115.2,421.4 116,422.6 116.8,423.4 117.7,423.9 118.5,424.1 119.3,423.9 120.2,423.4 121,422.6 121.8,421.4 122.7,420 123.5,418.2 124.3,416.2 125.2,413.9 126,411.4 126.8,408.8 127.7,405.9 128.5,402.9 129.3,399.8 130.2,396.6 131,393.4 131.8,390.3 132.7,387.1 133.5,384 134.3,381 135.2,378.1 136,375.5 136.8,373 137.7,370.7 138.5,368.7 139.3,366.9 140.2,365.5 141,364.3 141.8,363.5 142.7,363 143.5,362.8 144.3,363 145.2,363.5 146,364.3 146.8,365.5 147.7,366.9 148.5,368.7 149.3,370.7 150.2,373 151,375.5 151.8,378.1 152.7,381 153.5,384 154.3,387.1 155.2,390.3 156,393.4 156.8,396.6 157.7,399.8 158.5,402.9 159.3,405.9 160.2,408.7 161,411.4 161.8,413.9 162.7,416.2 163.5,418.2 164.3,420 165.2,421.4 166,422.6 166.8,423.4 167.7,423.9 168.5,424.1 169.3,423.9 170.2,423.4 171,422.6 171.8,421.4 172.7,420 173.5,418.2 174.3,416.2 175.2,413.9 176,411.4 176.8,408.8 177.7,405.9 178.5,402.9 179.3,399.8 180.2,396.6 181,393.4 181.8,390.3 182.7,387.1 183.5,384 184.3,381 185.2,378.2 186,375.5 186.8,373 187.7,370.7 188.5,368.7 189.3,366.9 190.2,365.5 191,364.3 191.8,363.5 192.7,363 193.5,362.8 194.3,363 195.2,363.5 196,364.3 196.8,365.5 197.7,366.9 198.5,368.7 199.3,370.7 200.2,373 201,375.5 201.8,378.1 202.7,381 203.5,384 204.3,387.1 205.2,390.3 206,393.4 206.8,396.6 207.7,399.8 208.5,402.9 209.3,405.9 210.2,408.7 211,411.4 211.8,413.9 212.7,416.2 213.5,418.2 214.3,420 215.2,421.4 216,422.6 216.8,423.4 217.7,423.9 218.5,424.1 219.3,423.9 220.2,423.4 221,422.6 221.8,421.4 222.7,420 223.5,418.2 224.3,416.2 225.2,413.9 226,411.4 226.8,408.8 227.7,405.9 228.5,402.9 229.3,399.8 230.2,396.6 231,393.5" stroke="#626262" stroke-width="1.25" stroke-dasharray="1.5 1.2" fill="none" clip-path="url(#ca5)"/>
<path d="M31,393.4 31.5,393.4 32,393.4 32.5,393.4 33,393.4 33.5,393.4 34,393.4 34.5,393.4 35,393.4 35.5,393.4 36,393.4 36.5,393.4 37,393.4 37.5,393.5 38,393.6 38.5,393.7 39,393.9 39.5,394.2 40,394.5 40.5,394.8 41,395.1 41.5,395.5 42,395.9 42.5,396.3 43,396.7 43.5,397.1 44,397.6 44.5,398.1 45,398.6 45.5,399.1 46,399.6 46.5,400.2 47,400.8 47.5,401.4 48,402.1 48.5,402.8 49,403.5 49.5,404.3 50,405.2 50.5,406 51,406.9 51.5,407.8 52,408.7 52.5,409.5 53,410.4 53.5,411.2 54,412 54.5,412.7 55,413.4 55.5,413.9 56,414.3 56.5,414.7 57,415 57.5,415.3 58,415.5 58.5,415.7 59,415.8 59.5,415.9 60,415.9 60.5,415.8 61,415.8 61.5,415.6 62,415.4 62.5,415.2 63,414.9 63.5,414.6 64,414.3 64.5,414 65,413.6 65.5,413.2 66,412.8 66.5,412.4 67,412 67.5,411.6 68,411.2 68.5,410.9 69,410.5 69.5,410.2 70,410 70.5,409.7 71,409.5 71.5,409.4 72,409.2 72.5,409.2 73,409.1 73.5,409.1 74,409.2 74.5,409.2 75,409.4 75.5,409.5 76,409.7 76.5,409.8 77,410 77.5,410.3 78,410.5 78.5,410.7 79,410.9 79.5,411.1 80,411.3 80.5,411.5 81,411.6 81.5,411.7 82,411.8 82.5,411.9 83,411.9 83.5,411.9 84,411.9 84.5,411.8 85,411.6 85.5,411.5 86,411.3 86.5,411 87,410.7 87.5,410.4 88,410.1 88.5,409.8 89,409.4 89.5,409 90,408.7 90.5,408.3 91,407.9 91.5,407.5 92,407.2 92.5,406.9 93,406.6 93.5,406.3 94,406.1 94.5,405.9 95,405.7 95.5,405.6 96,405.5 96.5,405.5 97,405.5 97.5,405.6 98,405.7 98.5,405.8 99,406 99.5,406.2 100,406.5 100.5,406.8 101,407.1 101.5,407.4 102,407.7 102.5,408.1 103,408.4 103.5,408.8 104,409.1 104.5,409.4 105,409.8 105.5,410 106,410.3 106.5,410.5 107,410.7 107.5,410.9 108,411 108.5,411 109,411.1 109.5,411 110,411 110.5,410.9 111,410.7 111.5,410.5 112,410.3 112.5,410 113,409.8 113.5,409.4 114,409.1 114.5,408.8 115,408.4 115.5,408.1 116,407.7 116.5,407.4 117,407.1 117.5,406.7 118,406.5 118.5,406.2 119,406 119.5,405.8 120,405.6 120.5,405.5 121,405.5 121.5,405.5 122,405.5 122.5,405.5 123,405.6 123.5,405.8 124,406 124.5,406.2 125,406.5 125.5,406.7 126,407.1 126.5,407.4 127,407.7 127.5,408.1 128,408.4 128.5,408.8 129,409.1 129.5,409.4 130,409.8 130.5,410 131,410.3 131.5,410.5 132,410.7 132.5,410.9 133,411 133.5,411 134,411.1 134.5,411 135,411 135.5,410.9 136,410.7 136.5,410.5 137,410.3 137.5,410 138,409.8 138.5,409.4 139,409.1 139.5,408.8 140,408.4 140.5,408.1 141,407.7 141.5,407.4 142,407.1 142.5,406.7 143,406.5 143.5,406.2 144,406 144.5,405.8 145,405.6 145.5,405.5 146,405.5 146.5,405.5 147,405.5 147.5,405.5 148,405.6 148.5,405.8 149,406 149.5,406.2 150,406.5 150.5,406.7 151,407.1 151.5,407.4 152,407.7 152.5,408.1 153,408.4 153.5,408.8 154,409.1 154.5,409.4 155,409.8 155.5,410 156,410.3 156.5,410.5 157,410.7 157.5,410.9 158,411 158.5,411 159,411.1 159.5,411 160,411 160.5,410.9 161,410.7 161.5,410.5 162,410.3 162.5,410 163,409.8 163.5,409.4 164,409.1 164.5,408.8 165,408.4 165.5,408.1 166,407.7 166.5,407.4 167,407.1 167.5,406.7 168,406.5 168.5,406.2 169,406 169.5,405.8 170,405.6 170.5,405.5 171,405.5 171.5,405.4 172,405.5 172.5,405.5 173,405.6 173.5,405.8 174,406 174.5,406.2 175,406.5 175.5,406.7 176,407.1 176.5,407.4 177,407.7 177.5,408.1 178,408.4 178.5,408.8 179,409.1 179.5,409.4 180,409.8 180.5,410 181,410.3 181.5,410.5 182,410.7 182.5,410.9 183,411 183.5,411 184,411.1 184.5,411 185,411 185.5,410.9 186,410.7 186.5,410.5 187,410.3 187.5,410 188,409.8 188.5,409.4 189,409.1 189.5,408.8 190,408.4 190.5,408.1 191,407.7 191.5,407.4 192,407.1 192.5,406.7 193,406.5 193.5,406.2 194,406 194.5,405.8 195,405.6 195.5,405.5 196,405.5 196.5,405.4 197,405.5 197.5,405.5 198,405.6 198.5,405.8 199,406 199.5,406.2 200,406.5 200.5,406.7 201,407.1 201.5,407.4 202,407.7 202.5,408.1 203,408.4 203.5,408.8 204,409.1 204.5,409.4 205,409.8 205.5,410 206,410.3 206.5,410.5 207,410.7 207.5,410.9 208,411 208.5,411 209,411.1 209.5,411 210,411 210.5,410.9 211,410.7 211.5,410.5 212,410.3 212.5,410 213,409.8 213.5,409.4 214,409.1 214.5,408.8 215,408.4 215.5,408.1 216,407.7 216.5,407.4 217,407.1 217.5,406.7 218,406.5 218.5,406.2 219,406 219.5,405.8 220,405.6 220.5,405.5 221,405.5 221.5,405.4 222,405.5 222.5,405.5 223,405.6 223.5,405.8 224,406 224.5,406.2 225,406.5 225.5,406.7 226,407.1 226.5,407.4 227,407.7 227.5,408.1 228,408.4 228.5,408.8 229,409.1 229.5,409.4 230,409.8 230.5,410 231,410.3" stroke="#ef7232" stroke-width="1.8" fill="none" stroke-linejoin="round" clip-path="url(#ca5)"/>
<path d="M193.3,19.2 V427.5" stroke="#484848" stroke-width="1" stroke-dasharray="1.4 1.3" fill="none"/>
<path d="M196.9,150 V155.3" stroke="#484848" stroke-width="1" stroke-dasharray="1.4 1.3" fill="none"/>
<path d="M200,212.3 V223.35" stroke="#484848" stroke-width="1" stroke-dasharray="1.4 1.3" fill="none"/>
<path d="M203,272.5 V291.4" stroke="#484848" stroke-width="1" stroke-dasharray="1.4 1.3" fill="none"/>
<path d="M197,405.8 V427.5" stroke="#484848" stroke-width="1" stroke-dasharray="1.4 1.3" fill="none"/>
<path d="M231.5,19.2 V87.25" stroke="#7d45b0" stroke-width="1.05"/>
<path d="M26,22.6 h3.6" stroke="#444" stroke-width="1"/>
<path d="M26,53.2 h3.6" stroke="#444" stroke-width="1"/>
<path d="M26,83.8 h3.6" stroke="#444" stroke-width="1"/>
<path d="M31,87.25 v-3.2" stroke="#444" stroke-width="1"/>
<path d="M81,87.25 v-3.2" stroke="#444" stroke-width="1"/>
<path d="M131,87.25 v-3.2" stroke="#444" stroke-width="1"/>
<path d="M181,87.25 v-3.2" stroke="#444" stroke-width="1"/>
<path d="M231,87.25 v-3.2" stroke="#444" stroke-width="1"/>
<text transform="translate(22.8,27.1) scale(1,1.07)" font-size="10" fill="#222" text-anchor="end" >5</text>
<text transform="translate(22.8,57.3) scale(1,1.07)" font-size="10" fill="#222" text-anchor="end" >0</text>
<text transform="translate(22.8,86.3) scale(1,1.07)" font-size="10" fill="#222" text-anchor="end" >-5</text>
<path d="M231.5,87.25 V155.3" stroke="#a54e9e" stroke-width="1.05"/>
<path d="M26,90.65 h3.6" stroke="#444" stroke-width="1"/>
<path d="M26,121.25 h3.6" stroke="#444" stroke-width="1"/>
<path d="M26,151.85 h3.6" stroke="#444" stroke-width="1"/>
<path d="M31,155.3 v-3.2" stroke="#444" stroke-width="1"/>
<path d="M81,155.3 v-3.2" stroke="#444" stroke-width="1"/>
<path d="M131,155.3 v-3.2" stroke="#444" stroke-width="1"/>
<path d="M181,155.3 v-3.2" stroke="#444" stroke-width="1"/>
<path d="M231,155.3 v-3.2" stroke="#444" stroke-width="1"/>
<text transform="translate(22.8,95.65) scale(1,1.07)" font-size="10" fill="#222" text-anchor="end" >5</text>
<text transform="translate(22.8,125.35) scale(1,1.07)" font-size="10" fill="#222" text-anchor="end" >0</text>
<text transform="translate(22.8,154.35) scale(1,1.07)" font-size="10" fill="#222" text-anchor="end" >-5</text>
<path d="M231.5,155.3 V223.35" stroke="#c8507e" stroke-width="1.05"/>
<path d="M26,158.7 h3.6" stroke="#444" stroke-width="1"/>
<path d="M26,189.3 h3.6" stroke="#444" stroke-width="1"/>
<path d="M26,219.9 h3.6" stroke="#444" stroke-width="1"/>
<path d="M31,223.35 v-3.2" stroke="#444" stroke-width="1"/>
<path d="M81,223.35 v-3.2" stroke="#444" stroke-width="1"/>
<path d="M131,223.35 v-3.2" stroke="#444" stroke-width="1"/>
<path d="M181,223.35 v-3.2" stroke="#444" stroke-width="1"/>
<path d="M231,223.35 v-3.2" stroke="#444" stroke-width="1"/>
<text transform="translate(22.8,163.7) scale(1,1.07)" font-size="10" fill="#222" text-anchor="end" >5</text>
<text transform="translate(22.8,193.4) scale(1,1.07)" font-size="10" fill="#222" text-anchor="end" >0</text>
<text transform="translate(22.8,222.4) scale(1,1.07)" font-size="10" fill="#222" text-anchor="end" >-5</text>
<path d="M231.5,223.35 V291.4" stroke="#dd5064" stroke-width="1.05"/>
<path d="M26,226.75 h3.6" stroke="#444" stroke-width="1"/>
<path d="M26,257.35 h3.6" stroke="#444" stroke-width="1"/>
<path d="M26,287.95 h3.6" stroke="#444" stroke-width="1"/>
<path d="M31,291.4 v-3.2" stroke="#444" stroke-width="1"/>
<path d="M81,291.4 v-3.2" stroke="#444" stroke-width="1"/>
<path d="M131,291.4 v-3.2" stroke="#444" stroke-width="1"/>
<path d="M181,291.4 v-3.2" stroke="#444" stroke-width="1"/>
<path d="M231,291.4 v-3.2" stroke="#444" stroke-width="1"/>
<text transform="translate(22.8,231.75) scale(1,1.07)" font-size="10" fill="#222" text-anchor="end" >5</text>
<text transform="translate(22.8,261.45) scale(1,1.07)" font-size="10" fill="#222" text-anchor="end" >0</text>
<text transform="translate(22.8,290.45) scale(1,1.07)" font-size="10" fill="#222" text-anchor="end" >-5</text>
<path d="M231.5,291.4 V359.45" stroke="#ec4040" stroke-width="1.05"/>
<path d="M26,294.8 h3.6" stroke="#444" stroke-width="1"/>
<path d="M26,325.4 h3.6" stroke="#444" stroke-width="1"/>
<path d="M26,356 h3.6" stroke="#444" stroke-width="1"/>
<path d="M31,359.45 v-3.2" stroke="#444" stroke-width="1"/>
<path d="M81,359.45 v-3.2" stroke="#444" stroke-width="1"/>
<path d="M131,359.45 v-3.2" stroke="#444" stroke-width="1"/>
<path d="M181,359.45 v-3.2" stroke="#444" stroke-width="1"/>
<path d="M231,359.45 v-3.2" stroke="#444" stroke-width="1"/>
<text transform="translate(22.8,299.8) scale(1,1.07)" font-size="10" fill="#222" text-anchor="end" >5</text>
<text transform="translate(22.8,329.5) scale(1,1.07)" font-size="10" fill="#222" text-anchor="end" >0</text>
<text transform="translate(22.8,358.5) scale(1,1.07)" font-size="10" fill="#222" text-anchor="end" >-5</text>
<path d="M231.5,359.45 V427.5" stroke="#f28a55" stroke-width="1.05"/>
<path d="M26,362.85 h3.6" stroke="#444" stroke-width="1"/>
<path d="M26,393.45 h3.6" stroke="#444" stroke-width="1"/>
<path d="M26,424.05 h3.6" stroke="#444" stroke-width="1"/>
<path d="M31,427.5 v-3.2" stroke="#444" stroke-width="1"/>
<path d="M81,427.5 v-3.2" stroke="#444" stroke-width="1"/>
<path d="M131,427.5 v-3.2" stroke="#444" stroke-width="1"/>
<path d="M181,427.5 v-3.2" stroke="#444" stroke-width="1"/>
<path d="M231,427.5 v-3.2" stroke="#444" stroke-width="1"/>
<text transform="translate(22.8,367.85) scale(1,1.07)" font-size="10" fill="#222" text-anchor="end" >5</text>
<text transform="translate(22.8,397.55) scale(1,1.07)" font-size="10" fill="#222" text-anchor="end" >0</text>
<text transform="translate(22.8,427.65) scale(1,1.07)" font-size="10" fill="#222" text-anchor="end" >-5</text>
<path d="M26,87.25 H231.5" stroke="#555" stroke-width="1.1"/>
<path d="M26,155.3 H231.5" stroke="#555" stroke-width="1.1"/>
<path d="M26,223.35 H231.5" stroke="#555" stroke-width="1.1"/>
<path d="M26,291.4 H231.5" stroke="#555" stroke-width="1.1"/>
<path d="M26,359.45 H231.5" stroke="#555" stroke-width="1.1"/>
<path d="M26,19.2 H231.5" stroke="#333" stroke-width="1.1"/>
<path d="M26,427.5 H231.5" stroke="#888" stroke-width="1.3"/>
<path d="M26,19.2 V427.5" stroke="#8a8a8a" stroke-width="1.6"/>
<path d="M231.5,27.7 h-3" stroke="#7d45b0" stroke-width="1"/>
<path d="M231.5,53.2 h-3" stroke="#7d45b0" stroke-width="1"/>
<path d="M231.5,78.7 h-3" stroke="#7d45b0" stroke-width="1"/>
<text transform="translate(233.5,32.1) scale(1,1.07)" font-size="9.7" fill="#7a45ad" text-anchor="start" >30</text>
<text transform="translate(233.5,57.6) scale(1,1.07)" font-size="9.7" fill="#7a45ad" text-anchor="start" >0</text>
<text transform="translate(233.5,83.1) scale(1,1.07)" font-size="9.7" fill="#7a45ad" text-anchor="start" >-30</text>
<path d="M231.5,95.75 h-3" stroke="#a54e9e" stroke-width="1"/>
<path d="M231.5,121.25 h-3" stroke="#a54e9e" stroke-width="1"/>
<path d="M231.5,146.75 h-3" stroke="#a54e9e" stroke-width="1"/>
<text transform="translate(233.5,100.15) scale(1,1.07)" font-size="9.7" fill="#a24a98" text-anchor="start" >30</text>
<text transform="translate(233.5,125.65) scale(1,1.07)" font-size="9.7" fill="#a24a98" text-anchor="start" >0</text>
<text transform="translate(233.5,151.15) scale(1,1.07)" font-size="9.7" fill="#a24a98" text-anchor="start" >-30</text>
<path d="M231.5,163.8 h-3" stroke="#c8507e" stroke-width="1"/>
<path d="M231.5,189.3 h-3" stroke="#c8507e" stroke-width="1"/>
<path d="M231.5,214.8 h-3" stroke="#c8507e" stroke-width="1"/>
<text transform="translate(233.5,168.2) scale(1,1.07)" font-size="9.7" fill="#c24a78" text-anchor="start" >30</text>
<text transform="translate(233.5,193.7) scale(1,1.07)" font-size="9.7" fill="#c24a78" text-anchor="start" >0</text>
<text transform="translate(233.5,219.2) scale(1,1.07)" font-size="9.7" fill="#c24a78" text-anchor="start" >-30</text>
<path d="M231.5,231.85 h-3" stroke="#dd5064" stroke-width="1"/>
<path d="M231.5,257.35 h-3" stroke="#dd5064" stroke-width="1"/>
<path d="M231.5,282.85 h-3" stroke="#dd5064" stroke-width="1"/>
<text transform="translate(233.5,236.25) scale(1,1.07)" font-size="9.7" fill="#d9475e" text-anchor="start" >30</text>
<text transform="translate(233.5,261.75) scale(1,1.07)" font-size="9.7" fill="#d9475e" text-anchor="start" >0</text>
<text transform="translate(233.5,287.25) scale(1,1.07)" font-size="9.7" fill="#d9475e" text-anchor="start" >-30</text>
<path d="M231.5,291.4 h-3" stroke="#ec4040" stroke-width="1"/>
<path d="M231.5,308.4 h-3" stroke="#ec4040" stroke-width="1"/>
<path d="M231.5,325.4 h-3" stroke="#ec4040" stroke-width="1"/>
<path d="M231.5,342.4 h-3" stroke="#ec4040" stroke-width="1"/>
<path d="M231.5,359.4 h-3" stroke="#ec4040" stroke-width="1"/>
<text transform="translate(233.5,312.8) scale(1,1.07)" font-size="9.7" fill="#e83a3a" text-anchor="start" >10</text>
<text transform="translate(233.5,329.8) scale(1,1.07)" font-size="9.7" fill="#e83a3a" text-anchor="start" >0</text>
<text transform="translate(233.5,346.8) scale(1,1.07)" font-size="9.7" fill="#e83a3a" text-anchor="start" >-10</text>
<path d="M231.5,368.25 h-3" stroke="#f28a55" stroke-width="1"/>
<path d="M231.5,393.45 h-3" stroke="#f28a55" stroke-width="1"/>
<path d="M231.5,418.65 h-3" stroke="#f28a55" stroke-width="1"/>
<text transform="translate(233.5,372.65) scale(1,1.07)" font-size="9.7" fill="#ee8048" text-anchor="start" >3</text>
<text transform="translate(233.5,397.85) scale(1,1.07)" font-size="9.7" fill="#ee8048" text-anchor="start" >0</text>
<text transform="translate(233.5,423.05) scale(1,1.07)" font-size="9.7" fill="#ee8048" text-anchor="start" >-3</text>
<text transform="translate(226,27.5) scale(1,1.07)" font-size="9.6" fill="#7a45ad" text-anchor="end" >c=0.05</text>
<text transform="translate(226,96.75) scale(1,1.07)" font-size="9.6" fill="#a24a98" text-anchor="end" >c=3</text>
<text transform="translate(226,163.6) scale(1,1.07)" font-size="9.6" fill="#c24a78" text-anchor="end" >c=6.7</text>
<text transform="translate(226,233.35) scale(1,1.07)" font-size="9.6" fill="#d9475e" text-anchor="end" >c=12</text>
<text transform="translate(226,300.2) scale(1,1.07)" font-size="9.6" fill="#e83a3a" text-anchor="end" >c=22</text>
<text transform="translate(226,367.75) scale(1,1.07)" font-size="9.6" fill="#ee8048" text-anchor="end" >c=48</text>
<path d="M56.8,24.8 H63.6" stroke="#626262" stroke-width="1.25" stroke-dasharray="1.5 1.2" fill="none"/>
<text transform="translate(68,27) scale(1,1.07)" font-size="6.9" fill="#222" text-anchor="start" >Electric field</text>
<path d="M56.8,33 H63.8" stroke="#6a2ea3" stroke-width="1.6"/>
<text transform="translate(68,35.2) scale(1,1.07)" font-size="6.9" fill="#222" text-anchor="start" >Deformation</text>
<text transform="translate(29.6,442) scale(1,1.07)" font-size="10" fill="#222" text-anchor="middle" >0</text>
<text transform="translate(79.4,442) scale(1,1.07)" font-size="10" fill="#222" text-anchor="middle" >T</text>
<text transform="translate(129.2,442) scale(1,1.07)" font-size="10" fill="#222" text-anchor="middle" >2T</text>
<text transform="translate(179,442) scale(1,1.07)" font-size="10" fill="#222" text-anchor="middle" >3T</text>
<text transform="translate(228.8,442) scale(1,1.07)" font-size="10" fill="#222" text-anchor="middle" >4T</text>
<text transform="translate(119,453) scale(1,1.07)" font-size="9.4" fill="#222" text-anchor="middle" >Time</text>
<text transform="translate(7.3,218.7) rotate(-90) scale(1,1.07)" font-size="10" fill="#222" text-anchor="middle">Electric field (kV/mm)</text>
<text transform="translate(261.2,219) rotate(-90) scale(1,1.07)" font-size="10" fill="#222" text-anchor="middle">Deformation δ (10<tspan dy="-3" font-size="6.5">-15</tspan><tspan dy="3">m)</tspan></text>
<path d="M318.5,53.2 H454.5" stroke="#484848" stroke-width="1" stroke-dasharray="1.4 1.3" fill="none"/>
<path d="M318.5,53.2 319.2,52.2 319.9,51.3 320.5,50.3 321.2,49.4 321.9,48.4 322.6,47.5 323.3,46.5 323.9,45.6 324.6,44.7 325.3,43.7 326,42.8 326.7,41.9 327.3,41 328,40.2 328.7,39.3 329.4,38.5 330.1,37.6 330.7,36.8 331.4,36 332.1,35.2 332.8,34.4 333.5,33.7 334.1,33 334.8,32.3 335.5,31.6 336.2,30.9 336.9,30.2 337.5,29.6 338.2,29 338.9,28.4 339.6,27.9 340.3,27.4 340.9,26.9 341.6,26.4 342.3,25.9 343,25.5 343.7,25.1 344.3,24.7 345,24.4 345.7,24.1 346.4,23.8 347.1,23.6 347.7,23.3 348.4,23.1 349.1,23 349.8,22.8 350.5,22.7 351.1,22.7 351.8,22.6 352.5,22.6 353.2,22.6 353.9,22.7 354.5,22.7 355.2,22.8 355.9,23 356.6,23.1 357.3,23.3 357.9,23.6 358.6,23.8 359.3,24.1 360,24.4 360.7,24.7 361.3,25.1 362,25.5 362.7,25.9 363.4,26.4 364.1,26.9 364.7,27.4 365.4,27.9 366.1,28.4 366.8,29 367.5,29.6 368.1,30.2 368.8,30.9 369.5,31.6 370.2,32.3 370.9,33 371.5,33.7 372.2,34.4 372.9,35.2 373.6,36 374.3,36.8 374.9,37.6 375.6,38.5 376.3,39.3 377,40.2 377.7,41 378.3,41.9 379,42.8 379.7,43.7 380.4,44.7 381.1,45.6 381.7,46.5 382.4,47.5 383.1,48.4 383.8,49.4 384.5,50.3 385.1,51.3 385.8,52.2 386.5,53.2 387.2,54.2 387.9,55.1 388.5,56.1 389.2,57 389.9,58 390.6,58.9 391.3,59.9 391.9,60.8 392.6,61.7 393.3,62.7 394,63.6 394.7,64.5 395.3,65.4 396,66.2 396.7,67.1 397.4,67.9 398.1,68.8 398.7,69.6 399.4,70.4 400.1,71.2 400.8,72 401.5,72.7 402.1,73.4 402.8,74.1 403.5,74.8 404.2,75.5 404.9,76.2 405.5,76.8 406.2,77.4 406.9,78 407.6,78.5 408.3,79 408.9,79.5 409.6,80 410.3,80.5 411,80.9 411.7,81.3 412.3,81.7 413,82 413.7,82.3 414.4,82.6 415.1,82.8 415.7,83.1 416.4,83.3 417.1,83.4 417.8,83.6 418.5,83.7 419.1,83.7 419.8,83.8 420.5,83.8 421.2,83.8 421.9,83.7 422.5,83.7 423.2,83.6 423.9,83.4 424.6,83.3 425.3,83.1 425.9,82.8 426.6,82.6 427.3,82.3 428,82 428.7,81.7 429.3,81.3 430,80.9 430.7,80.5 431.4,80 432.1,79.5 432.7,79 433.4,78.5 434.1,78 434.8,77.4 435.5,76.8 436.1,76.2 436.8,75.5 437.5,74.8 438.2,74.1 438.9,73.4 439.5,72.7 440.2,72 440.9,71.2 441.6,70.4 442.3,69.6 442.9,68.8 443.6,67.9 444.3,67.1 445,66.2 445.7,65.4 446.3,64.5 447,63.6 447.7,62.7 448.4,61.7 449.1,60.8 449.7,59.9 450.4,58.9 451.1,58 451.8,57 452.5,56.1 453.1,55.1 453.8,54.2 454.5,53.2" stroke="#626262" stroke-width="1.25" stroke-dasharray="1.5 1.2" fill="none" clip-path="url(#cb0)"/>
<path d="M318.5,53.2 319,53.2 319.4,53.3 319.9,53.3 320.3,53.4 320.8,53.5 321.2,53.7 321.7,53.8 322.1,54 322.6,54.3 323,54.5 323.5,54.8 323.9,55.1 324.4,55.4 324.8,55.7 325.3,56.1 325.8,56.5 326.2,56.9 326.7,57.3 327.1,57.8 327.6,58.2 328,58.7 328.5,59.2 328.9,59.7 329.4,60.3 329.8,60.8 330.3,61.4 330.7,61.9 331.2,62.5 331.6,63.1 332.1,63.7 332.6,64.3 333,64.9 333.5,65.6 333.9,66.2 334.4,66.8 334.8,67.4 335.3,68.1 335.7,68.7 336.2,69.4 336.6,70 337.1,70.6 337.5,71.2 338,71.9 338.4,72.5 338.9,73.1 339.4,73.7 339.8,74.3 340.3,74.9 340.7,75.4 341.2,76 341.6,76.5 342.1,77.1 342.5,77.6 343,78.1 343.4,78.6 343.9,79 344.3,79.5 344.8,79.9 345.2,80.3 345.7,80.7 346.2,81.1 346.6,81.4 347.1,81.7 347.5,82 348,82.3 348.4,82.5 348.9,82.8 349.3,83 349.8,83.1 350.2,83.3 350.7,83.4 351.1,83.5 351.6,83.5 352,83.6 352.5,83.6 353,83.6 353.4,83.5 353.9,83.5 354.3,83.4 354.8,83.3 355.2,83.1 355.7,83 356.1,82.8 356.6,82.5 357,82.3 357.5,82 357.9,81.7 358.4,81.4 358.8,81.1 359.3,80.7 359.8,80.3 360.2,79.9 360.7,79.5 361.1,79 361.6,78.6 362,78.1 362.5,77.6 362.9,77.1 363.4,76.5 363.8,76 364.3,75.4 364.7,74.9 365.2,74.3 365.6,73.7 366.1,73.1 366.6,72.5 367,71.9 367.5,71.2 367.9,70.6 368.4,70 368.8,69.4 369.3,68.7 369.7,68.1 370.2,67.4 370.6,66.8 371.1,66.2 371.5,65.6 372,64.9 372.4,64.3 372.9,63.7 373.4,63.1 373.8,62.5 374.3,61.9 374.7,61.4 375.2,60.8 375.6,60.3 376.1,59.7 376.5,59.2 377,58.7 377.4,58.2 377.9,57.8 378.3,57.3 378.8,56.9 379.2,56.5 379.7,56.1 380.2,55.7 380.6,55.4 381.1,55.1 381.5,54.8 382,54.5 382.4,54.3 382.9,54 383.3,53.8 383.8,53.7 384.2,53.5 384.7,53.4 385.1,53.3 385.6,53.3 386,53.2 386.5,53.2 387,53.2 387.4,53.3 387.9,53.3 388.3,53.4 388.8,53.5 389.2,53.7 389.7,53.8 390.1,54 390.6,54.3 391,54.5 391.5,54.8 391.9,55.1 392.4,55.4 392.8,55.7 393.3,56.1 393.8,56.5 394.2,56.9 394.7,57.3 395.1,57.8 395.6,58.2 396,58.7 396.5,59.2 396.9,59.7 397.4,60.3 397.8,60.8 398.3,61.4 398.7,61.9 399.2,62.5 399.6,63.1 400.1,63.7 400.6,64.3 401,64.9 401.5,65.6 401.9,66.2 402.4,66.8 402.8,67.4 403.3,68.1 403.7,68.7 404.2,69.4 404.6,70 405.1,70.6 405.5,71.2 406,71.9 406.4,72.5 406.9,73.1 407.4,73.7 407.8,74.3 408.3,74.9 408.7,75.4 409.2,76 409.6,76.5 410.1,77.1 410.5,77.6 411,78.1 411.4,78.6 411.9,79 412.3,79.5 412.8,79.9 413.2,80.3 413.7,80.7 414.2,81.1 414.6,81.4 415.1,81.7 415.5,82 416,82.3 416.4,82.5 416.9,82.8 417.3,83 417.8,83.1 418.2,83.3 418.7,83.4 419.1,83.5 419.6,83.5 420,83.6 420.5,83.6 421,83.6 421.4,83.5 421.9,83.5 422.3,83.4 422.8,83.3 423.2,83.1 423.7,83 424.1,82.8 424.6,82.5 425,82.3 425.5,82 425.9,81.7 426.4,81.4 426.8,81.1 427.3,80.7 427.8,80.3 428.2,79.9 428.7,79.5 429.1,79 429.6,78.6 430,78.1 430.5,77.6 430.9,77.1 431.4,76.5 431.8,76 432.3,75.4 432.7,74.9 433.2,74.3 433.6,73.7 434.1,73.1 434.6,72.5 435,71.9 435.5,71.2 435.9,70.6 436.4,70 436.8,69.4 437.3,68.7 437.7,68.1 438.2,67.4 438.6,66.8 439.1,66.2 439.5,65.6 440,64.9 440.4,64.3 440.9,63.7 441.4,63.1 441.8,62.5 442.3,61.9 442.7,61.4 443.2,60.8 443.6,60.3 444.1,59.7 444.5,59.2 445,58.7 445.4,58.2 445.9,57.8 446.3,57.3 446.8,56.9 447.2,56.5 447.7,56.1 448.2,55.7 448.6,55.4 449.1,55.1 449.5,54.8 450,54.5 450.4,54.3 450.9,54 451.3,53.8 451.8,53.7 452.2,53.5 452.7,53.4 453.1,53.3 453.6,53.3 454,53.2 454.5,53.2" stroke="#6a2ea3" stroke-width="1.9" fill="none" clip-path="url(#cb0)"/>
<path d="M318.5,121.25 H454.5" stroke="#484848" stroke-width="1" stroke-dasharray="1.4 1.3" fill="none"/>
<path d="M318.5,121.2 319.2,120.3 319.9,119.3 320.5,118.4 321.2,117.4 321.9,116.5 322.6,115.5 323.3,114.6 323.9,113.6 324.6,112.7 325.3,111.8 326,110.9 326.7,110 327.3,109.1 328,108.2 328.7,107.4 329.4,106.5 330.1,105.7 330.7,104.9 331.4,104.1 332.1,103.3 332.8,102.5 333.5,101.7 334.1,101 334.8,100.3 335.5,99.6 336.2,98.9 336.9,98.3 337.5,97.7 338.2,97.1 338.9,96.5 339.6,95.9 340.3,95.4 340.9,94.9 341.6,94.4 342.3,94 343,93.6 343.7,93.2 344.3,92.8 345,92.5 345.7,92.1 346.4,91.9 347.1,91.6 347.7,91.4 348.4,91.2 349.1,91 349.8,90.9 350.5,90.8 351.1,90.7 351.8,90.7 352.5,90.7 353.2,90.7 353.9,90.7 354.5,90.8 355.2,90.9 355.9,91 356.6,91.2 357.3,91.4 357.9,91.6 358.6,91.9 359.3,92.1 360,92.5 360.7,92.8 361.3,93.2 362,93.6 362.7,94 363.4,94.4 364.1,94.9 364.7,95.4 365.4,95.9 366.1,96.5 366.8,97.1 367.5,97.7 368.1,98.3 368.8,98.9 369.5,99.6 370.2,100.3 370.9,101 371.5,101.7 372.2,102.5 372.9,103.3 373.6,104.1 374.3,104.9 374.9,105.7 375.6,106.5 376.3,107.4 377,108.2 377.7,109.1 378.3,110 379,110.9 379.7,111.8 380.4,112.7 381.1,113.6 381.7,114.6 382.4,115.5 383.1,116.5 383.8,117.4 384.5,118.4 385.1,119.3 385.8,120.3 386.5,121.2 387.2,122.2 387.9,123.2 388.5,124.1 389.2,125.1 389.9,126 390.6,127 391.3,127.9 391.9,128.9 392.6,129.8 393.3,130.7 394,131.6 394.7,132.5 395.3,133.4 396,134.3 396.7,135.1 397.4,136 398.1,136.8 398.7,137.6 399.4,138.4 400.1,139.2 400.8,140 401.5,140.8 402.1,141.5 402.8,142.2 403.5,142.9 404.2,143.6 404.9,144.2 405.5,144.8 406.2,145.4 406.9,146 407.6,146.6 408.3,147.1 408.9,147.6 409.6,148.1 410.3,148.5 411,148.9 411.7,149.3 412.3,149.7 413,150 413.7,150.4 414.4,150.6 415.1,150.9 415.7,151.1 416.4,151.3 417.1,151.5 417.8,151.6 418.5,151.7 419.1,151.8 419.8,151.8 420.5,151.8 421.2,151.8 421.9,151.8 422.5,151.7 423.2,151.6 423.9,151.5 424.6,151.3 425.3,151.1 425.9,150.9 426.6,150.6 427.3,150.4 428,150 428.7,149.7 429.3,149.3 430,148.9 430.7,148.5 431.4,148.1 432.1,147.6 432.7,147.1 433.4,146.6 434.1,146 434.8,145.4 435.5,144.8 436.1,144.2 436.8,143.6 437.5,142.9 438.2,142.2 438.9,141.5 439.5,140.8 440.2,140 440.9,139.2 441.6,138.4 442.3,137.6 442.9,136.8 443.6,136 444.3,135.1 445,134.3 445.7,133.4 446.3,132.5 447,131.6 447.7,130.7 448.4,129.8 449.1,128.9 449.7,127.9 450.4,127 451.1,126 451.8,125.1 452.5,124.1 453.1,123.2 453.8,122.2 454.5,121.3" stroke="#626262" stroke-width="1.25" stroke-dasharray="1.5 1.2" fill="none" clip-path="url(#cb1)"/>
<path d="M318.5,121.2 319,120.9 319.4,120.5 319.9,120.2 320.3,119.9 320.8,119.6 321.2,119.3 321.7,119.1 322.1,118.9 322.6,118.7 323,118.5 323.5,118.3 323.9,118.2 324.4,118.1 324.8,118 325.3,117.9 325.8,117.9 326.2,117.9 326.7,117.9 327.1,117.9 327.6,118 328,118.1 328.5,118.2 328.9,118.3 329.4,118.5 329.8,118.6 330.3,118.8 330.7,119 331.2,119.3 331.6,119.6 332.1,119.8 332.6,120.1 333,120.5 333.5,120.8 333.9,121.2 334.4,121.6 334.8,122 335.3,122.4 335.7,122.8 336.2,123.3 336.6,123.7 337.1,124.2 337.5,124.7 338,125.2 338.4,125.7 338.9,126.2 339.4,126.8 339.8,127.3 340.3,127.8 340.7,128.4 341.2,129 341.6,129.5 342.1,130.1 342.5,130.7 343,131.2 343.4,131.8 343.9,132.4 344.3,133 344.8,133.5 345.2,134.1 345.7,134.7 346.2,135.2 346.6,135.8 347.1,136.3 347.5,136.8 348,137.4 348.4,137.9 348.9,138.4 349.3,138.9 349.8,139.4 350.2,139.8 350.7,140.3 351.1,140.7 351.6,141.1 352,141.5 352.5,141.9 353,142.3 353.4,142.6 353.9,143 354.3,143.3 354.8,143.6 355.2,143.8 355.7,144.1 356.1,144.3 356.6,144.5 357,144.7 357.5,144.8 357.9,145 358.4,145.1 358.8,145.2 359.3,145.2 359.8,145.3 360.2,145.3 360.7,145.3 361.1,145.2 361.6,145.2 362,145.1 362.5,145 362.9,144.9 363.4,144.7 363.8,144.5 364.3,144.3 364.7,144.1 365.2,143.9 365.6,143.6 366.1,143.3 366.6,143 367,142.7 367.5,142.4 367.9,142 368.4,141.6 368.8,141.2 369.3,140.8 369.7,140.4 370.2,139.9 370.6,139.4 371.1,139 371.5,138.5 372,138 372.4,137.5 372.9,136.9 373.4,136.4 373.8,135.9 374.3,135.3 374.7,134.8 375.2,134.2 375.6,133.6 376.1,133.1 376.5,132.5 377,131.9 377.4,131.4 377.9,130.8 378.3,130.2 378.8,129.6 379.2,129.1 379.7,128.5 380.2,128 380.6,127.4 381.1,126.9 381.5,126.3 382,125.8 382.4,125.3 382.9,124.8 383.3,124.3 383.8,123.8 384.2,123.3 384.7,122.9 385.1,122.5 385.6,122 386,121.6 386.5,121.2 387,120.9 387.4,120.5 387.9,120.2 388.3,119.9 388.8,119.6 389.2,119.3 389.7,119.1 390.1,118.9 390.6,118.7 391,118.5 391.5,118.3 391.9,118.2 392.4,118.1 392.8,118 393.3,117.9 393.8,117.9 394.2,117.9 394.7,117.9 395.1,117.9 395.6,118 396,118.1 396.5,118.2 396.9,118.3 397.4,118.5 397.8,118.6 398.3,118.8 398.7,119 399.2,119.3 399.6,119.6 400.1,119.8 400.6,120.1 401,120.5 401.5,120.8 401.9,121.2 402.4,121.6 402.8,122 403.3,122.4 403.7,122.8 404.2,123.3 404.6,123.7 405.1,124.2 405.5,124.7 406,125.2 406.4,125.7 406.9,126.2 407.4,126.8 407.8,127.3 408.3,127.8 408.7,128.4 409.2,129 409.6,129.5 410.1,130.1 410.5,130.7 411,131.2 411.4,131.8 411.9,132.4 412.3,133 412.8,133.5 413.2,134.1 413.7,134.7 414.2,135.2 414.6,135.8 415.1,136.3 415.5,136.8 416,137.4 416.4,137.9 416.9,138.4 417.3,138.9 417.8,139.4 418.2,139.8 418.7,140.3 419.1,140.7 419.6,141.1 420,141.5 420.5,141.9 421,142.3 421.4,142.6 421.9,143 422.3,143.3 422.8,143.6 423.2,143.8 423.7,144.1 424.1,144.3 424.6,144.5 425,144.7 425.5,144.8 425.9,145 426.4,145.1 426.8,145.2 427.3,145.2 427.8,145.3 428.2,145.3 428.7,145.3 429.1,145.2 429.6,145.2 430,145.1 430.5,145 430.9,144.9 431.4,144.7 431.8,144.5 432.3,144.3 432.7,144.1 433.2,143.9 433.6,143.6 434.1,143.3 434.6,143 435,142.7 435.5,142.4 435.9,142 436.4,141.6 436.8,141.2 437.3,140.8 437.7,140.4 438.2,139.9 438.6,139.4 439.1,139 439.5,138.5 440,138 440.4,137.5 440.9,136.9 441.4,136.4 441.8,135.9 442.3,135.3 442.7,134.8 443.2,134.2 443.6,133.6 444.1,133.1 444.5,132.5 445,131.9 445.4,131.4 445.9,130.8 446.3,130.2 446.8,129.6 447.2,129.1 447.7,128.5 448.2,128 448.6,127.4 449.1,126.9 449.5,126.3 450,125.8 450.4,125.3 450.9,124.8 451.3,124.3 451.8,123.8 452.2,123.3 452.7,122.9 453.1,122.5 453.6,122 454,121.6 454.5,121.2" stroke="#9d3893" stroke-width="1.9" fill="none" clip-path="url(#cb1)"/>
<path d="M318.5,189.3 H454.5" stroke="#484848" stroke-width="1" stroke-dasharray="1.4 1.3" fill="none"/>
<path d="M318.5,189.3 319.2,188.3 319.9,187.4 320.5,186.4 321.2,185.5 321.9,184.5 322.6,183.6 323.3,182.6 323.9,181.7 324.6,180.8 325.3,179.8 326,178.9 326.7,178 327.3,177.1 328,176.3 328.7,175.4 329.4,174.6 330.1,173.7 330.7,172.9 331.4,172.1 332.1,171.3 332.8,170.5 333.5,169.8 334.1,169.1 334.8,168.4 335.5,167.7 336.2,167 336.9,166.3 337.5,165.7 338.2,165.1 338.9,164.5 339.6,164 340.3,163.5 340.9,163 341.6,162.5 342.3,162 343,161.6 343.7,161.2 344.3,160.8 345,160.5 345.7,160.2 346.4,159.9 347.1,159.7 347.7,159.4 348.4,159.2 349.1,159.1 349.8,158.9 350.5,158.8 351.1,158.8 351.8,158.7 352.5,158.7 353.2,158.7 353.9,158.8 354.5,158.8 355.2,158.9 355.9,159.1 356.6,159.2 357.3,159.4 357.9,159.7 358.6,159.9 359.3,160.2 360,160.5 360.7,160.8 361.3,161.2 362,161.6 362.7,162 363.4,162.5 364.1,163 364.7,163.5 365.4,164 366.1,164.5 366.8,165.1 367.5,165.7 368.1,166.3 368.8,167 369.5,167.7 370.2,168.4 370.9,169.1 371.5,169.8 372.2,170.5 372.9,171.3 373.6,172.1 374.3,172.9 374.9,173.7 375.6,174.6 376.3,175.4 377,176.3 377.7,177.1 378.3,178 379,178.9 379.7,179.8 380.4,180.8 381.1,181.7 381.7,182.6 382.4,183.6 383.1,184.5 383.8,185.5 384.5,186.4 385.1,187.4 385.8,188.3 386.5,189.3 387.2,190.3 387.9,191.2 388.5,192.2 389.2,193.1 389.9,194.1 390.6,195 391.3,196 391.9,196.9 392.6,197.8 393.3,198.8 394,199.7 394.7,200.6 395.3,201.5 396,202.3 396.7,203.2 397.4,204 398.1,204.9 398.7,205.7 399.4,206.5 400.1,207.3 400.8,208.1 401.5,208.8 402.1,209.5 402.8,210.2 403.5,210.9 404.2,211.6 404.9,212.3 405.5,212.9 406.2,213.5 406.9,214.1 407.6,214.6 408.3,215.1 408.9,215.6 409.6,216.1 410.3,216.6 411,217 411.7,217.4 412.3,217.8 413,218.1 413.7,218.4 414.4,218.7 415.1,218.9 415.7,219.2 416.4,219.4 417.1,219.5 417.8,219.7 418.5,219.8 419.1,219.8 419.8,219.9 420.5,219.9 421.2,219.9 421.9,219.8 422.5,219.8 423.2,219.7 423.9,219.5 424.6,219.4 425.3,219.2 425.9,218.9 426.6,218.7 427.3,218.4 428,218.1 428.7,217.8 429.3,217.4 430,217 430.7,216.6 431.4,216.1 432.1,215.6 432.7,215.1 433.4,214.6 434.1,214.1 434.8,213.5 435.5,212.9 436.1,212.3 436.8,211.6 437.5,210.9 438.2,210.2 438.9,209.5 439.5,208.8 440.2,208.1 440.9,207.3 441.6,206.5 442.3,205.7 442.9,204.9 443.6,204 444.3,203.2 445,202.3 445.7,201.5 446.3,200.6 447,199.7 447.7,198.8 448.4,197.8 449.1,196.9 449.7,196 450.4,195 451.1,194.1 451.8,193.1 452.5,192.2 453.1,191.2 453.8,190.3 454.5,189.3" stroke="#626262" stroke-width="1.25" stroke-dasharray="1.5 1.2" fill="none" clip-path="url(#cb2)"/>
<path d="M318.5,189.3 319,188.5 319.4,187.7 319.9,186.9 320.3,186.1 320.8,185.3 321.2,184.6 321.7,183.8 322.1,183.1 322.6,182.3 323,181.6 323.5,180.9 323.9,180.1 324.4,179.5 324.8,178.8 325.3,178.1 325.8,177.5 326.2,176.9 326.7,176.3 327.1,175.7 327.6,175.2 328,174.7 328.5,174.2 328.9,173.7 329.4,173.3 329.8,172.8 330.3,172.5 330.7,172.1 331.2,171.8 331.6,171.5 332.1,171.2 332.6,171 333,170.8 333.5,170.6 333.9,170.5 334.4,170.4 334.8,170.3 335.3,170.3 335.7,170.3 336.2,170.3 336.6,170.4 337.1,170.5 337.5,170.6 338,170.8 338.4,171 338.9,171.2 339.4,171.5 339.8,171.8 340.3,172.1 340.7,172.5 341.2,172.8 341.6,173.3 342.1,173.7 342.5,174.2 343,174.7 343.4,175.2 343.9,175.7 344.3,176.3 344.8,176.9 345.2,177.5 345.7,178.1 346.2,178.8 346.6,179.5 347.1,180.1 347.5,180.9 348,181.6 348.4,182.3 348.9,183.1 349.3,183.8 349.8,184.6 350.2,185.3 350.7,186.1 351.1,186.9 351.6,187.7 352,188.5 352.5,189.3 353,190.1 353.4,190.9 353.9,191.7 354.3,192.5 354.8,193.3 355.2,194 355.7,194.8 356.1,195.5 356.6,196.3 357,197 357.5,197.7 357.9,198.5 358.4,199.1 358.8,199.8 359.3,200.5 359.8,201.1 360.2,201.7 360.7,202.3 361.1,202.9 361.6,203.4 362,203.9 362.5,204.4 362.9,204.9 363.4,205.3 363.8,205.8 364.3,206.1 364.7,206.5 365.2,206.8 365.6,207.1 366.1,207.4 366.6,207.6 367,207.8 367.5,208 367.9,208.1 368.4,208.2 368.8,208.3 369.3,208.3 369.7,208.3 370.2,208.3 370.6,208.2 371.1,208.1 371.5,208 372,207.8 372.4,207.6 372.9,207.4 373.4,207.1 373.8,206.8 374.3,206.5 374.7,206.1 375.2,205.8 375.6,205.3 376.1,204.9 376.5,204.4 377,203.9 377.4,203.4 377.9,202.9 378.3,202.3 378.8,201.7 379.2,201.1 379.7,200.5 380.2,199.8 380.6,199.1 381.1,198.5 381.5,197.7 382,197 382.4,196.3 382.9,195.5 383.3,194.8 383.8,194 384.2,193.3 384.7,192.5 385.1,191.7 385.6,190.9 386,190.1 386.5,189.3 387,188.5 387.4,187.7 387.9,186.9 388.3,186.1 388.8,185.3 389.2,184.6 389.7,183.8 390.1,183.1 390.6,182.3 391,181.6 391.5,180.9 391.9,180.1 392.4,179.5 392.8,178.8 393.3,178.1 393.8,177.5 394.2,176.9 394.7,176.3 395.1,175.7 395.6,175.2 396,174.7 396.5,174.2 396.9,173.7 397.4,173.3 397.8,172.8 398.3,172.5 398.7,172.1 399.2,171.8 399.6,171.5 400.1,171.2 400.6,171 401,170.8 401.5,170.6 401.9,170.5 402.4,170.4 402.8,170.3 403.3,170.3 403.7,170.3 404.2,170.3 404.6,170.4 405.1,170.5 405.5,170.6 406,170.8 406.4,171 406.9,171.2 407.4,171.5 407.8,171.8 408.3,172.1 408.7,172.5 409.2,172.8 409.6,173.3 410.1,173.7 410.5,174.2 411,174.7 411.4,175.2 411.9,175.7 412.3,176.3 412.8,176.9 413.2,177.5 413.7,178.1 414.2,178.8 414.6,179.5 415.1,180.1 415.5,180.9 416,181.6 416.4,182.3 416.9,183.1 417.3,183.8 417.8,184.6 418.2,185.3 418.7,186.1 419.1,186.9 419.6,187.7 420,188.5 420.5,189.3 421,190.1 421.4,190.9 421.9,191.7 422.3,192.5 422.8,193.3 423.2,194 423.7,194.8 424.1,195.5 424.6,196.3 425,197 425.5,197.7 425.9,198.5 426.4,199.1 426.8,199.8 427.3,200.5 427.8,201.1 428.2,201.7 428.7,202.3 429.1,202.9 429.6,203.4 430,203.9 430.5,204.4 430.9,204.9 431.4,205.3 431.8,205.8 432.3,206.1 432.7,206.5 433.2,206.8 433.6,207.1 434.1,207.4 434.6,207.6 435,207.8 435.5,208 435.9,208.1 436.4,208.2 436.8,208.3 437.3,208.3 437.7,208.3 438.2,208.3 438.6,208.2 439.1,208.1 439.5,208 440,207.8 440.4,207.6 440.9,207.4 441.4,207.1 441.8,206.8 442.3,206.5 442.7,206.1 443.2,205.8 443.6,205.3 444.1,204.9 444.5,204.4 445,203.9 445.4,203.4 445.9,202.9 446.3,202.3 446.8,201.7 447.2,201.1 447.7,200.5 448.2,199.8 448.6,199.1 449.1,198.5 449.5,197.7 450,197 450.4,196.3 450.9,195.5 451.3,194.8 451.8,194 452.2,193.3 452.7,192.5 453.1,191.7 453.6,190.9 454,190.1 454.5,189.3" stroke="#c0386c" stroke-width="1.9" fill="none" clip-path="url(#cb2)"/>
<path d="M318.5,257.35 H454.5" stroke="#484848" stroke-width="1" stroke-dasharray="1.4 1.3" fill="none"/>
<path d="M318.5,257.3 319.2,256.4 319.9,255.4 320.5,254.5 321.2,253.5 321.9,252.6 322.6,251.6 323.3,250.7 323.9,249.7 324.6,248.8 325.3,247.9 326,247 326.7,246.1 327.3,245.2 328,244.3 328.7,243.5 329.4,242.6 330.1,241.8 330.7,241 331.4,240.2 332.1,239.4 332.8,238.6 333.5,237.8 334.1,237.1 334.8,236.4 335.5,235.7 336.2,235 336.9,234.4 337.5,233.8 338.2,233.2 338.9,232.6 339.6,232 340.3,231.5 340.9,231 341.6,230.5 342.3,230.1 343,229.7 343.7,229.3 344.3,228.9 345,228.6 345.7,228.2 346.4,228 347.1,227.7 347.7,227.5 348.4,227.3 349.1,227.1 349.8,227 350.5,226.9 351.1,226.8 351.8,226.8 352.5,226.7 353.2,226.8 353.9,226.8 354.5,226.9 355.2,227 355.9,227.1 356.6,227.3 357.3,227.5 357.9,227.7 358.6,228 359.3,228.2 360,228.6 360.7,228.9 361.3,229.3 362,229.7 362.7,230.1 363.4,230.5 364.1,231 364.7,231.5 365.4,232 366.1,232.6 366.8,233.2 367.5,233.8 368.1,234.4 368.8,235 369.5,235.7 370.2,236.4 370.9,237.1 371.5,237.8 372.2,238.6 372.9,239.4 373.6,240.2 374.3,241 374.9,241.8 375.6,242.6 376.3,243.5 377,244.3 377.7,245.2 378.3,246.1 379,247 379.7,247.9 380.4,248.8 381.1,249.7 381.7,250.7 382.4,251.6 383.1,252.6 383.8,253.5 384.5,254.5 385.1,255.4 385.8,256.4 386.5,257.3 387.2,258.3 387.9,259.3 388.5,260.2 389.2,261.2 389.9,262.1 390.6,263.1 391.3,264 391.9,265 392.6,265.9 393.3,266.8 394,267.7 394.7,268.6 395.3,269.5 396,270.4 396.7,271.2 397.4,272.1 398.1,272.9 398.7,273.7 399.4,274.5 400.1,275.3 400.8,276.1 401.5,276.9 402.1,277.6 402.8,278.3 403.5,279 404.2,279.7 404.9,280.3 405.5,280.9 406.2,281.5 406.9,282.1 407.6,282.7 408.3,283.2 408.9,283.7 409.6,284.2 410.3,284.6 411,285 411.7,285.4 412.3,285.8 413,286.1 413.7,286.5 414.4,286.7 415.1,287 415.7,287.2 416.4,287.4 417.1,287.6 417.8,287.7 418.5,287.8 419.1,287.9 419.8,287.9 420.5,287.9 421.2,287.9 421.9,287.9 422.5,287.8 423.2,287.7 423.9,287.6 424.6,287.4 425.3,287.2 425.9,287 426.6,286.7 427.3,286.5 428,286.1 428.7,285.8 429.3,285.4 430,285 430.7,284.6 431.4,284.2 432.1,283.7 432.7,283.2 433.4,282.7 434.1,282.1 434.8,281.5 435.5,280.9 436.1,280.3 436.8,279.7 437.5,279 438.2,278.3 438.9,277.6 439.5,276.9 440.2,276.1 440.9,275.3 441.6,274.5 442.3,273.7 442.9,272.9 443.6,272.1 444.3,271.2 445,270.4 445.7,269.5 446.3,268.6 447,267.7 447.7,266.8 448.4,265.9 449.1,265 449.7,264 450.4,263.1 451.1,262.1 451.8,261.2 452.5,260.2 453.1,259.3 453.8,258.3 454.5,257.3" stroke="#626262" stroke-width="1.25" stroke-dasharray="1.5 1.2" fill="none" clip-path="url(#cb3)"/>
<path d="M318.5,257.3 319,257 319.4,256.7 319.9,256.3 320.3,256 320.8,255.6 321.2,255.2 321.7,254.9 322.1,254.5 322.6,254.1 323,253.7 323.5,253.3 323.9,252.8 324.4,252.4 324.8,252 325.3,251.6 325.8,251.2 326.2,250.8 326.7,250.3 327.1,249.9 327.6,249.5 328,249.1 328.5,248.7 328.9,248.3 329.4,247.9 329.8,247.5 330.3,247.1 330.7,246.7 331.2,246.3 331.6,246 332.1,245.6 332.6,245.3 333,244.9 333.5,244.6 333.9,244.3 334.4,244 334.8,243.7 335.3,243.4 335.7,243.1 336.2,242.9 336.6,242.6 337.1,242.4 337.5,242.2 338,242 338.4,241.8 338.9,241.7 339.4,241.5 339.8,241.4 340.3,241.3 340.7,241.2 341.2,241.1 341.6,241.1 342.1,241 342.5,241 343,241 343.4,241 343.9,241 344.3,241.1 344.8,241.1 345.2,241.2 345.7,241.3 346.2,241.4 346.6,241.5 347.1,241.7 347.5,241.8 348,242 348.4,242.2 348.9,242.4 349.3,242.6 349.8,242.9 350.2,243.1 350.7,243.4 351.1,243.7 351.6,244 352,244.3 352.5,244.6 353,244.9 353.4,245.3 353.9,245.6 354.3,246 354.8,246.3 355.2,246.7 355.7,247.1 356.1,247.5 356.6,247.9 357,248.3 357.5,248.7 357.9,249.1 358.4,249.5 358.8,249.9 359.3,250.3 359.8,250.8 360.2,251.2 360.7,251.6 361.1,252 361.6,252.4 362,252.8 362.5,253.3 362.9,253.7 363.4,254.1 363.8,254.5 364.3,254.9 364.7,255.2 365.2,255.6 365.6,256 366.1,256.3 366.6,256.7 367,257 367.5,257.3 367.9,257.7 368.4,258 368.8,258.3 369.3,258.5 369.7,258.8 370.2,259.1 370.6,259.3 371.1,259.5 371.5,259.7 372,259.9 372.4,260.1 372.9,260.3 373.4,260.4 373.8,260.5 374.3,260.7 374.7,260.8 375.2,260.8 375.6,260.9 376.1,260.9 376.5,261 377,261 377.4,261 377.9,260.9 378.3,260.9 378.8,260.8 379.2,260.8 379.7,260.7 380.2,260.5 380.6,260.4 381.1,260.3 381.5,260.1 382,259.9 382.4,259.7 382.9,259.5 383.3,259.3 383.8,259.1 384.2,258.8 384.7,258.5 385.1,258.3 385.6,258 386,257.7 386.5,257.3 387,257 387.4,256.7 387.9,256.3 388.3,256 388.8,255.6 389.2,255.2 389.7,254.9 390.1,254.5 390.6,254.1 391,253.7 391.5,253.3 391.9,252.8 392.4,252.4 392.8,252 393.3,251.6 393.8,251.2 394.2,250.8 394.7,250.3 395.1,249.9 395.6,249.5 396,249.1 396.5,248.7 396.9,248.3 397.4,247.9 397.8,247.5 398.3,247.1 398.7,246.7 399.2,246.3 399.6,246 400.1,245.6 400.6,245.3 401,244.9 401.5,244.6 401.9,244.3 402.4,244 402.8,243.7 403.3,243.4 403.7,243.1 404.2,242.9 404.6,242.6 405.1,242.4 405.5,242.2 406,242 406.4,241.8 406.9,241.7 407.4,241.5 407.8,241.4 408.3,241.3 408.7,241.2 409.2,241.1 409.6,241.1 410.1,241 410.5,241 411,241 411.4,241 411.9,241 412.3,241.1 412.8,241.1 413.2,241.2 413.7,241.3 414.2,241.4 414.6,241.5 415.1,241.7 415.5,241.8 416,242 416.4,242.2 416.9,242.4 417.3,242.6 417.8,242.9 418.2,243.1 418.7,243.4 419.1,243.7 419.6,244 420,244.3 420.5,244.6 421,244.9 421.4,245.3 421.9,245.6 422.3,246 422.8,246.3 423.2,246.7 423.7,247.1 424.1,247.5 424.6,247.9 425,248.3 425.5,248.7 425.9,249.1 426.4,249.5 426.8,249.9 427.3,250.3 427.8,250.8 428.2,251.2 428.7,251.6 429.1,252 429.6,252.4 430,252.8 430.5,253.3 430.9,253.7 431.4,254.1 431.8,254.5 432.3,254.9 432.7,255.2 433.2,255.6 433.6,256 434.1,256.3 434.6,256.7 435,257 435.5,257.3 435.9,257.7 436.4,258 436.8,258.3 437.3,258.5 437.7,258.8 438.2,259.1 438.6,259.3 439.1,259.5 439.5,259.7 440,259.9 440.4,260.1 440.9,260.3 441.4,260.4 441.8,260.5 442.3,260.7 442.7,260.8 443.2,260.8 443.6,260.9 444.1,260.9 444.5,261 445,261 445.4,261 445.9,260.9 446.3,260.9 446.8,260.8 447.2,260.8 447.7,260.7 448.2,260.5 448.6,260.4 449.1,260.3 449.5,260.1 450,259.9 450.4,259.7 450.9,259.5 451.3,259.3 451.8,259.1 452.2,258.8 452.7,258.5 453.1,258.3 453.6,258 454,257.7 454.5,257.3" stroke="#d9384f" stroke-width="1.9" fill="none" clip-path="url(#cb3)"/>
<path d="M318.5,325.4 H454.5" stroke="#484848" stroke-width="1" stroke-dasharray="1.4 1.3" fill="none"/>
<path d="M318.5,325.4 319.2,324.4 319.9,323.5 320.5,322.5 321.2,321.6 321.9,320.6 322.6,319.7 323.3,318.7 323.9,317.8 324.6,316.9 325.3,315.9 326,315 326.7,314.1 327.3,313.2 328,312.4 328.7,311.5 329.4,310.7 330.1,309.8 330.7,309 331.4,308.2 332.1,307.4 332.8,306.6 333.5,305.9 334.1,305.2 334.8,304.5 335.5,303.8 336.2,303.1 336.9,302.4 337.5,301.8 338.2,301.2 338.9,300.6 339.6,300.1 340.3,299.6 340.9,299.1 341.6,298.6 342.3,298.1 343,297.7 343.7,297.3 344.3,296.9 345,296.6 345.7,296.3 346.4,296 347.1,295.8 347.7,295.5 348.4,295.3 349.1,295.2 349.8,295 350.5,294.9 351.1,294.9 351.8,294.8 352.5,294.8 353.2,294.8 353.9,294.9 354.5,294.9 355.2,295 355.9,295.2 356.6,295.3 357.3,295.5 357.9,295.8 358.6,296 359.3,296.3 360,296.6 360.7,296.9 361.3,297.3 362,297.7 362.7,298.1 363.4,298.6 364.1,299.1 364.7,299.6 365.4,300.1 366.1,300.6 366.8,301.2 367.5,301.8 368.1,302.4 368.8,303.1 369.5,303.8 370.2,304.5 370.9,305.2 371.5,305.9 372.2,306.6 372.9,307.4 373.6,308.2 374.3,309 374.9,309.8 375.6,310.7 376.3,311.5 377,312.4 377.7,313.2 378.3,314.1 379,315 379.7,315.9 380.4,316.9 381.1,317.8 381.7,318.7 382.4,319.7 383.1,320.6 383.8,321.6 384.5,322.5 385.1,323.5 385.8,324.4 386.5,325.4 387.2,326.4 387.9,327.3 388.5,328.3 389.2,329.2 389.9,330.2 390.6,331.1 391.3,332.1 391.9,333 392.6,333.9 393.3,334.9 394,335.8 394.7,336.7 395.3,337.6 396,338.4 396.7,339.3 397.4,340.1 398.1,341 398.7,341.8 399.4,342.6 400.1,343.4 400.8,344.2 401.5,344.9 402.1,345.6 402.8,346.3 403.5,347 404.2,347.7 404.9,348.4 405.5,349 406.2,349.6 406.9,350.2 407.6,350.7 408.3,351.2 408.9,351.7 409.6,352.2 410.3,352.7 411,353.1 411.7,353.5 412.3,353.9 413,354.2 413.7,354.5 414.4,354.8 415.1,355 415.7,355.3 416.4,355.5 417.1,355.6 417.8,355.8 418.5,355.9 419.1,355.9 419.8,356 420.5,356 421.2,356 421.9,355.9 422.5,355.9 423.2,355.8 423.9,355.6 424.6,355.5 425.3,355.3 425.9,355 426.6,354.8 427.3,354.5 428,354.2 428.7,353.9 429.3,353.5 430,353.1 430.7,352.7 431.4,352.2 432.1,351.7 432.7,351.2 433.4,350.7 434.1,350.2 434.8,349.6 435.5,349 436.1,348.4 436.8,347.7 437.5,347 438.2,346.3 438.9,345.6 439.5,344.9 440.2,344.2 440.9,343.4 441.6,342.6 442.3,341.8 442.9,341 443.6,340.1 444.3,339.3 445,338.4 445.7,337.6 446.3,336.7 447,335.8 447.7,334.9 448.4,333.9 449.1,333 449.7,332.1 450.4,331.1 451.1,330.2 451.8,329.2 452.5,328.3 453.1,327.3 453.8,326.4 454.5,325.4" stroke="#626262" stroke-width="1.25" stroke-dasharray="1.5 1.2" fill="none" clip-path="url(#cb4)"/>
<path d="M318.5,325.4 319,325.4 319.4,325.4 319.9,325.3 320.3,325.3 320.8,325.2 321.2,325.1 321.7,325 322.1,324.9 322.6,324.8 323,324.6 323.5,324.5 323.9,324.3 324.4,324.1 324.8,323.9 325.3,323.7 325.8,323.5 326.2,323.2 326.7,323 327.1,322.7 327.6,322.4 328,322.1 328.5,321.8 328.9,321.5 329.4,321.2 329.8,320.9 330.3,320.6 330.7,320.2 331.2,319.9 331.6,319.5 332.1,319.2 332.6,318.8 333,318.5 333.5,318.1 333.9,317.7 334.4,317.3 334.8,317 335.3,316.6 335.7,316.2 336.2,315.8 336.6,315.5 337.1,315.1 337.5,314.7 338,314.3 338.4,314 338.9,313.6 339.4,313.3 339.8,312.9 340.3,312.6 340.7,312.2 341.2,311.9 341.6,311.6 342.1,311.3 342.5,311 343,310.7 343.4,310.4 343.9,310.1 344.3,309.8 344.8,309.6 345.2,309.3 345.7,309.1 346.2,308.9 346.6,308.7 347.1,308.5 347.5,308.3 348,308.2 348.4,308 348.9,307.9 349.3,307.8 349.8,307.7 350.2,307.6 350.7,307.5 351.1,307.5 351.6,307.4 352,307.4 352.5,307.4 353,307.4 353.4,307.4 353.9,307.5 354.3,307.5 354.8,307.6 355.2,307.7 355.7,307.8 356.1,307.9 356.6,308 357,308.2 357.5,308.3 357.9,308.5 358.4,308.7 358.8,308.9 359.3,309.1 359.8,309.3 360.2,309.6 360.7,309.8 361.1,310.1 361.6,310.4 362,310.7 362.5,311 362.9,311.3 363.4,311.6 363.8,311.9 364.3,312.2 364.7,312.6 365.2,312.9 365.6,313.3 366.1,313.6 366.6,314 367,314.3 367.5,314.7 367.9,315.1 368.4,315.5 368.8,315.8 369.3,316.2 369.7,316.6 370.2,317 370.6,317.3 371.1,317.7 371.5,318.1 372,318.5 372.4,318.8 372.9,319.2 373.4,319.5 373.8,319.9 374.3,320.2 374.7,320.6 375.2,320.9 375.6,321.2 376.1,321.5 376.5,321.8 377,322.1 377.4,322.4 377.9,322.7 378.3,323 378.8,323.2 379.2,323.5 379.7,323.7 380.2,323.9 380.6,324.1 381.1,324.3 381.5,324.5 382,324.6 382.4,324.8 382.9,324.9 383.3,325 383.8,325.1 384.2,325.2 384.7,325.3 385.1,325.3 385.6,325.4 386,325.4 386.5,325.4 387,325.4 387.4,325.4 387.9,325.3 388.3,325.3 388.8,325.2 389.2,325.1 389.7,325 390.1,324.9 390.6,324.8 391,324.6 391.5,324.5 391.9,324.3 392.4,324.1 392.8,323.9 393.3,323.7 393.8,323.5 394.2,323.2 394.7,323 395.1,322.7 395.6,322.4 396,322.1 396.5,321.8 396.9,321.5 397.4,321.2 397.8,320.9 398.3,320.6 398.7,320.2 399.2,319.9 399.6,319.5 400.1,319.2 400.6,318.8 401,318.5 401.5,318.1 401.9,317.7 402.4,317.3 402.8,317 403.3,316.6 403.7,316.2 404.2,315.8 404.6,315.5 405.1,315.1 405.5,314.7 406,314.3 406.4,314 406.9,313.6 407.4,313.3 407.8,312.9 408.3,312.6 408.7,312.2 409.2,311.9 409.6,311.6 410.1,311.3 410.5,311 411,310.7 411.4,310.4 411.9,310.1 412.3,309.8 412.8,309.6 413.2,309.3 413.7,309.1 414.2,308.9 414.6,308.7 415.1,308.5 415.5,308.3 416,308.2 416.4,308 416.9,307.9 417.3,307.8 417.8,307.7 418.2,307.6 418.7,307.5 419.1,307.5 419.6,307.4 420,307.4 420.5,307.4 421,307.4 421.4,307.4 421.9,307.5 422.3,307.5 422.8,307.6 423.2,307.7 423.7,307.8 424.1,307.9 424.6,308 425,308.2 425.5,308.3 425.9,308.5 426.4,308.7 426.8,308.9 427.3,309.1 427.8,309.3 428.2,309.6 428.7,309.8 429.1,310.1 429.6,310.4 430,310.7 430.5,311 430.9,311.3 431.4,311.6 431.8,311.9 432.3,312.2 432.7,312.6 433.2,312.9 433.6,313.3 434.1,313.6 434.6,314 435,314.3 435.5,314.7 435.9,315.1 436.4,315.5 436.8,315.8 437.3,316.2 437.7,316.6 438.2,317 438.6,317.3 439.1,317.7 439.5,318.1 440,318.5 440.4,318.8 440.9,319.2 441.4,319.5 441.8,319.9 442.3,320.2 442.7,320.6 443.2,320.9 443.6,321.2 444.1,321.5 444.5,321.8 445,322.1 445.4,322.4 445.9,322.7 446.3,323 446.8,323.2 447.2,323.5 447.7,323.7 448.2,323.9 448.6,324.1 449.1,324.3 449.5,324.5 450,324.6 450.4,324.8 450.9,324.9 451.3,325 451.8,325.1 452.2,325.2 452.7,325.3 453.1,325.3 453.6,325.4 454,325.4 454.5,325.4" stroke="#e8262a" stroke-width="1.9" fill="none" clip-path="url(#cb4)"/>
<path d="M318.5,393.45 H454.5" stroke="#484848" stroke-width="1" stroke-dasharray="1.4 1.3" fill="none"/>
<path d="M318.5,393.4 319.2,392.5 319.9,391.5 320.5,390.6 321.2,389.6 321.9,388.7 322.6,387.7 323.3,386.8 323.9,385.8 324.6,384.9 325.3,384 326,383.1 326.7,382.2 327.3,381.3 328,380.4 328.7,379.6 329.4,378.7 330.1,377.9 330.7,377.1 331.4,376.3 332.1,375.5 332.8,374.7 333.5,373.9 334.1,373.2 334.8,372.5 335.5,371.8 336.2,371.1 336.9,370.5 337.5,369.9 338.2,369.3 338.9,368.7 339.6,368.1 340.3,367.6 340.9,367.1 341.6,366.6 342.3,366.2 343,365.8 343.7,365.4 344.3,365 345,364.7 345.7,364.3 346.4,364.1 347.1,363.8 347.7,363.6 348.4,363.4 349.1,363.2 349.8,363.1 350.5,363 351.1,362.9 351.8,362.9 352.5,362.8 353.2,362.9 353.9,362.9 354.5,363 355.2,363.1 355.9,363.2 356.6,363.4 357.3,363.6 357.9,363.8 358.6,364.1 359.3,364.3 360,364.7 360.7,365 361.3,365.4 362,365.8 362.7,366.2 363.4,366.6 364.1,367.1 364.7,367.6 365.4,368.1 366.1,368.7 366.8,369.3 367.5,369.9 368.1,370.5 368.8,371.1 369.5,371.8 370.2,372.5 370.9,373.2 371.5,373.9 372.2,374.7 372.9,375.5 373.6,376.3 374.3,377.1 374.9,377.9 375.6,378.7 376.3,379.6 377,380.4 377.7,381.3 378.3,382.2 379,383.1 379.7,384 380.4,384.9 381.1,385.8 381.7,386.8 382.4,387.7 383.1,388.7 383.8,389.6 384.5,390.6 385.1,391.5 385.8,392.5 386.5,393.4 387.2,394.4 387.9,395.4 388.5,396.3 389.2,397.3 389.9,398.2 390.6,399.2 391.3,400.1 391.9,401.1 392.6,402 393.3,402.9 394,403.8 394.7,404.7 395.3,405.6 396,406.5 396.7,407.3 397.4,408.2 398.1,409 398.7,409.8 399.4,410.6 400.1,411.4 400.8,412.2 401.5,413 402.1,413.7 402.8,414.4 403.5,415.1 404.2,415.8 404.9,416.4 405.5,417 406.2,417.6 406.9,418.2 407.6,418.8 408.3,419.3 408.9,419.8 409.6,420.3 410.3,420.7 411,421.1 411.7,421.5 412.3,421.9 413,422.2 413.7,422.6 414.4,422.8 415.1,423.1 415.7,423.3 416.4,423.5 417.1,423.7 417.8,423.8 418.5,423.9 419.1,424 419.8,424 420.5,424.1 421.2,424 421.9,424 422.5,423.9 423.2,423.8 423.9,423.7 424.6,423.5 425.3,423.3 425.9,423.1 426.6,422.8 427.3,422.6 428,422.2 428.7,421.9 429.3,421.5 430,421.1 430.7,420.7 431.4,420.3 432.1,419.8 432.7,419.3 433.4,418.8 434.1,418.2 434.8,417.6 435.5,417 436.1,416.4 436.8,415.8 437.5,415.1 438.2,414.4 438.9,413.7 439.5,413 440.2,412.2 440.9,411.4 441.6,410.6 442.3,409.8 442.9,409 443.6,408.2 444.3,407.3 445,406.5 445.7,405.6 446.3,404.7 447,403.8 447.7,402.9 448.4,402 449.1,401.1 449.7,400.1 450.4,399.2 451.1,398.2 451.8,397.3 452.5,396.3 453.1,395.4 453.8,394.4 454.5,393.4" stroke="#626262" stroke-width="1.25" stroke-dasharray="1.5 1.2" fill="none" clip-path="url(#cb5)"/>
<path d="M318.5,393.4 319,393.8 319.4,394.1 319.9,394.4 320.3,394.7 320.8,395 321.2,395.3 321.7,395.5 322.1,395.7 322.6,395.9 323,396.1 323.5,396.2 323.9,396.4 324.4,396.5 324.8,396.6 325.3,396.7 325.8,396.7 326.2,396.8 326.7,396.8 327.1,396.8 327.6,396.7 328,396.7 328.5,396.6 328.9,396.5 329.4,396.4 329.8,396.2 330.3,396.1 330.7,395.9 331.2,395.7 331.6,395.5 332.1,395.3 332.6,395 333,394.7 333.5,394.4 333.9,394.1 334.4,393.8 334.8,393.4 335.3,393.1 335.7,392.7 336.2,392.3 336.6,391.9 337.1,391.5 337.5,391.1 338,390.6 338.4,390.2 338.9,389.7 339.4,389.3 339.8,388.8 340.3,388.3 340.7,387.8 341.2,387.3 341.6,386.8 342.1,386.3 342.5,385.8 343,385.3 343.4,384.8 343.9,384.3 344.3,383.8 344.8,383.2 345.2,382.7 345.7,382.2 346.2,381.7 346.6,381.2 347.1,380.7 347.5,380.3 348,379.8 348.4,379.3 348.9,378.8 349.3,378.4 349.8,378 350.2,377.5 350.7,377.1 351.1,376.7 351.6,376.3 352,375.9 352.5,375.6 353,375.2 353.4,374.9 353.9,374.6 354.3,374.3 354.8,374 355.2,373.8 355.7,373.5 356.1,373.3 356.6,373.1 357,373 357.5,372.8 357.9,372.7 358.4,372.5 358.8,372.4 359.3,372.4 359.8,372.3 360.2,372.3 360.7,372.3 361.1,372.3 361.6,372.3 362,372.4 362.5,372.4 362.9,372.5 363.4,372.7 363.8,372.8 364.3,373 364.7,373.1 365.2,373.3 365.6,373.5 366.1,373.8 366.6,374 367,374.3 367.5,374.6 367.9,374.9 368.4,375.2 368.8,375.6 369.3,375.9 369.7,376.3 370.2,376.7 370.6,377.1 371.1,377.5 371.5,378 372,378.4 372.4,378.8 372.9,379.3 373.4,379.8 373.8,380.3 374.3,380.7 374.7,381.2 375.2,381.7 375.6,382.2 376.1,382.7 376.5,383.2 377,383.8 377.4,384.3 377.9,384.8 378.3,385.3 378.8,385.8 379.2,386.3 379.7,386.8 380.2,387.3 380.6,387.8 381.1,388.3 381.5,388.8 382,389.3 382.4,389.7 382.9,390.2 383.3,390.6 383.8,391.1 384.2,391.5 384.7,391.9 385.1,392.3 385.6,392.7 386,393.1 386.5,393.4 387,393.8 387.4,394.1 387.9,394.4 388.3,394.7 388.8,395 389.2,395.3 389.7,395.5 390.1,395.7 390.6,395.9 391,396.1 391.5,396.2 391.9,396.4 392.4,396.5 392.8,396.6 393.3,396.7 393.8,396.7 394.2,396.8 394.7,396.8 395.1,396.8 395.6,396.7 396,396.7 396.5,396.6 396.9,396.5 397.4,396.4 397.8,396.2 398.3,396.1 398.7,395.9 399.2,395.7 399.6,395.5 400.1,395.3 400.6,395 401,394.7 401.5,394.4 401.9,394.1 402.4,393.8 402.8,393.4 403.3,393.1 403.7,392.7 404.2,392.3 404.6,391.9 405.1,391.5 405.5,391.1 406,390.6 406.4,390.2 406.9,389.7 407.4,389.3 407.8,388.8 408.3,388.3 408.7,387.8 409.2,387.3 409.6,386.8 410.1,386.3 410.5,385.8 411,385.3 411.4,384.8 411.9,384.3 412.3,383.8 412.8,383.2 413.2,382.7 413.7,382.2 414.2,381.7 414.6,381.2 415.1,380.7 415.5,380.3 416,379.8 416.4,379.3 416.9,378.8 417.3,378.4 417.8,378 418.2,377.5 418.7,377.1 419.1,376.7 419.6,376.3 420,375.9 420.5,375.6 421,375.2 421.4,374.9 421.9,374.6 422.3,374.3 422.8,374 423.2,373.8 423.7,373.5 424.1,373.3 424.6,373.1 425,373 425.5,372.8 425.9,372.7 426.4,372.5 426.8,372.4 427.3,372.4 427.8,372.3 428.2,372.3 428.7,372.3 429.1,372.3 429.6,372.3 430,372.4 430.5,372.4 430.9,372.5 431.4,372.7 431.8,372.8 432.3,373 432.7,373.1 433.2,373.3 433.6,373.5 434.1,373.8 434.6,374 435,374.3 435.5,374.6 435.9,374.9 436.4,375.2 436.8,375.6 437.3,375.9 437.7,376.3 438.2,376.7 438.6,377.1 439.1,377.5 439.5,378 440,378.4 440.4,378.8 440.9,379.3 441.4,379.8 441.8,380.3 442.3,380.7 442.7,381.2 443.2,381.7 443.6,382.2 444.1,382.7 444.5,383.2 445,383.8 445.4,384.3 445.9,384.8 446.3,385.3 446.8,385.8 447.2,386.3 447.7,386.8 448.2,387.3 448.6,387.8 449.1,388.3 449.5,388.8 450,389.3 450.4,389.7 450.9,390.2 451.3,390.6 451.8,391.1 452.2,391.5 452.7,391.9 453.1,392.3 453.6,392.7 454,393.1 454.5,393.4" stroke="#ef7232" stroke-width="1.9" fill="none" clip-path="url(#cb5)"/>
<path d="M352.4,19.2 V427.5" stroke="#484848" stroke-width="1" stroke-dasharray="1.4 1.3" fill="none"/>
<path d="M360.5,145 V155.3" stroke="#484848" stroke-width="1" stroke-dasharray="1.4 1.3" fill="none"/>
<path d="M377.4,261.5 V291.4" stroke="#484848" stroke-width="1" stroke-dasharray="1.4 1.3" fill="none"/>
<path d="M369.7,209.3 V223.35" stroke="#484848" stroke-width="1" stroke-dasharray="1.4 1.3" fill="none"/>
<path d="M360.5,372.8 V427.5" stroke="#484848" stroke-width="1" stroke-dasharray="1.4 1.3" fill="none"/>
<path d="M454.5,19.2 V87.25" stroke="#7d45b0" stroke-width="1.05"/>
<path d="M318.5,22.6 h3" stroke="#333" stroke-width="0.9"/>
<path d="M318.5,53.2 h3" stroke="#333" stroke-width="0.9"/>
<path d="M318.5,83.8 h3" stroke="#333" stroke-width="0.9"/>
<path d="M352.5,87.25 v-2.6" stroke="#333" stroke-width="0.9"/>
<path d="M386.5,87.25 v-2.6" stroke="#333" stroke-width="0.9"/>
<path d="M420.5,87.25 v-2.6" stroke="#333" stroke-width="0.9"/>
<text transform="translate(316.2,27.1) scale(1,1.07)" font-size="10" fill="#222" text-anchor="end" >5</text>
<text transform="translate(316.2,57.3) scale(1,1.07)" font-size="10" fill="#222" text-anchor="end" >0</text>
<text transform="translate(316.2,86.3) scale(1,1.07)" font-size="10" fill="#222" text-anchor="end" >-5</text>
<path d="M454.5,27.7 h-3" stroke="#7d45b0" stroke-width="1"/>
<path d="M454.5,53.2 h-3" stroke="#7d45b0" stroke-width="1"/>
<path d="M454.5,78.7 h-3" stroke="#7d45b0" stroke-width="1"/>
<text transform="translate(456.5,30.6) scale(1,1.07)" font-size="9.7" fill="#7a45ad" text-anchor="start" >30</text>
<text transform="translate(456.5,56.1) scale(1,1.07)" font-size="9.7" fill="#7a45ad" text-anchor="start" >0</text>
<text transform="translate(456.5,81.6) scale(1,1.07)" font-size="9.7" fill="#7a45ad" text-anchor="start" >-30</text>
<path d="M454.5,87.25 V155.3" stroke="#a54e9e" stroke-width="1.05"/>
<path d="M318.5,90.65 h3" stroke="#333" stroke-width="0.9"/>
<path d="M318.5,121.25 h3" stroke="#333" stroke-width="0.9"/>
<path d="M318.5,151.85 h3" stroke="#333" stroke-width="0.9"/>
<path d="M352.5,155.3 v-2.6" stroke="#333" stroke-width="0.9"/>
<path d="M386.5,155.3 v-2.6" stroke="#333" stroke-width="0.9"/>
<path d="M420.5,155.3 v-2.6" stroke="#333" stroke-width="0.9"/>
<text transform="translate(316.2,95.65) scale(1,1.07)" font-size="10" fill="#222" text-anchor="end" >5</text>
<text transform="translate(316.2,125.35) scale(1,1.07)" font-size="10" fill="#222" text-anchor="end" >0</text>
<text transform="translate(316.2,154.35) scale(1,1.07)" font-size="10" fill="#222" text-anchor="end" >-5</text>
<path d="M454.5,95.75 h-3" stroke="#a54e9e" stroke-width="1"/>
<path d="M454.5,121.25 h-3" stroke="#a54e9e" stroke-width="1"/>
<path d="M454.5,146.75 h-3" stroke="#a54e9e" stroke-width="1"/>
<text transform="translate(456.5,98.65) scale(1,1.07)" font-size="9.7" fill="#a24a98" text-anchor="start" >30</text>
<text transform="translate(456.5,124.15) scale(1,1.07)" font-size="9.7" fill="#a24a98" text-anchor="start" >0</text>
<text transform="translate(456.5,149.65) scale(1,1.07)" font-size="9.7" fill="#a24a98" text-anchor="start" >-30</text>
<path d="M454.5,155.3 V223.35" stroke="#c8507e" stroke-width="1.05"/>
<path d="M318.5,158.7 h3" stroke="#333" stroke-width="0.9"/>
<path d="M318.5,189.3 h3" stroke="#333" stroke-width="0.9"/>
<path d="M318.5,219.9 h3" stroke="#333" stroke-width="0.9"/>
<path d="M352.5,223.35 v-2.6" stroke="#333" stroke-width="0.9"/>
<path d="M386.5,223.35 v-2.6" stroke="#333" stroke-width="0.9"/>
<path d="M420.5,223.35 v-2.6" stroke="#333" stroke-width="0.9"/>
<text transform="translate(316.2,163.7) scale(1,1.07)" font-size="10" fill="#222" text-anchor="end" >5</text>
<text transform="translate(316.2,193.4) scale(1,1.07)" font-size="10" fill="#222" text-anchor="end" >0</text>
<text transform="translate(316.2,222.4) scale(1,1.07)" font-size="10" fill="#222" text-anchor="end" >-5</text>
<path d="M454.5,172.3 h-3" stroke="#c8507e" stroke-width="1"/>
<path d="M454.5,189.3 h-3" stroke="#c8507e" stroke-width="1"/>
<path d="M454.5,206.3 h-3" stroke="#c8507e" stroke-width="1"/>
<text transform="translate(456.5,166.7) scale(1,1.07)" font-size="9.7" fill="#c24a78" text-anchor="start" >30</text>
<text transform="translate(456.5,192.2) scale(1,1.07)" font-size="9.7" fill="#c24a78" text-anchor="start" >0</text>
<text transform="translate(456.5,217.7) scale(1,1.07)" font-size="9.7" fill="#c24a78" text-anchor="start" >-30</text>
<path d="M454.5,223.35 V291.4" stroke="#dd5064" stroke-width="1.05"/>
<path d="M318.5,226.75 h3" stroke="#333" stroke-width="0.9"/>
<path d="M318.5,257.35 h3" stroke="#333" stroke-width="0.9"/>
<path d="M318.5,287.95 h3" stroke="#333" stroke-width="0.9"/>
<path d="M352.5,291.4 v-2.6" stroke="#333" stroke-width="0.9"/>
<path d="M386.5,291.4 v-2.6" stroke="#333" stroke-width="0.9"/>
<path d="M420.5,291.4 v-2.6" stroke="#333" stroke-width="0.9"/>
<text transform="translate(316.2,231.75) scale(1,1.07)" font-size="10" fill="#222" text-anchor="end" >5</text>
<text transform="translate(316.2,261.45) scale(1,1.07)" font-size="10" fill="#222" text-anchor="end" >0</text>
<text transform="translate(316.2,290.45) scale(1,1.07)" font-size="10" fill="#222" text-anchor="end" >-5</text>
<path d="M454.5,240.35 h-3" stroke="#dd5064" stroke-width="1"/>
<path d="M454.5,257.35 h-3" stroke="#dd5064" stroke-width="1"/>
<path d="M454.5,274.35 h-3" stroke="#dd5064" stroke-width="1"/>
<text transform="translate(456.5,234.75) scale(1,1.07)" font-size="9.7" fill="#d9475e" text-anchor="start" >30</text>
<text transform="translate(456.5,260.25) scale(1,1.07)" font-size="9.7" fill="#d9475e" text-anchor="start" >0</text>
<text transform="translate(456.5,285.75) scale(1,1.07)" font-size="9.7" fill="#d9475e" text-anchor="start" >-30</text>
<path d="M454.5,291.4 V359.45" stroke="#ec4040" stroke-width="1.05"/>
<path d="M318.5,294.8 h3" stroke="#333" stroke-width="0.9"/>
<path d="M318.5,325.4 h3" stroke="#333" stroke-width="0.9"/>
<path d="M318.5,356 h3" stroke="#333" stroke-width="0.9"/>
<path d="M352.5,359.45 v-2.6" stroke="#333" stroke-width="0.9"/>
<path d="M386.5,359.45 v-2.6" stroke="#333" stroke-width="0.9"/>
<path d="M420.5,359.45 v-2.6" stroke="#333" stroke-width="0.9"/>
<text transform="translate(316.2,299.8) scale(1,1.07)" font-size="10" fill="#222" text-anchor="end" >5</text>
<text transform="translate(316.2,329.5) scale(1,1.07)" font-size="10" fill="#222" text-anchor="end" >0</text>
<text transform="translate(316.2,358.5) scale(1,1.07)" font-size="10" fill="#222" text-anchor="end" >-5</text>
<path d="M454.5,300.9 h-3" stroke="#ec4040" stroke-width="1"/>
<path d="M454.5,325.4 h-3" stroke="#ec4040" stroke-width="1"/>
<path d="M454.5,349.9 h-3" stroke="#ec4040" stroke-width="1"/>
<text transform="translate(456.5,311.3) scale(1,1.07)" font-size="9.7" fill="#e83a3a" text-anchor="start" >10</text>
<text transform="translate(456.5,328.3) scale(1,1.07)" font-size="9.7" fill="#e83a3a" text-anchor="start" >0</text>
<text transform="translate(456.5,345.3) scale(1,1.07)" font-size="9.7" fill="#e83a3a" text-anchor="start" >-10</text>
<path d="M454.5,359.45 V427.5" stroke="#f28a55" stroke-width="1.05"/>
<path d="M318.5,362.85 h3" stroke="#333" stroke-width="0.9"/>
<path d="M318.5,393.45 h3" stroke="#333" stroke-width="0.9"/>
<path d="M318.5,424.05 h3" stroke="#333" stroke-width="0.9"/>
<path d="M352.5,427.5 v-2.6" stroke="#333" stroke-width="0.9"/>
<path d="M386.5,427.5 v-2.6" stroke="#333" stroke-width="0.9"/>
<path d="M420.5,427.5 v-2.6" stroke="#333" stroke-width="0.9"/>
<text transform="translate(316.2,367.85) scale(1,1.07)" font-size="10" fill="#222" text-anchor="end" >5</text>
<text transform="translate(316.2,397.55) scale(1,1.07)" font-size="10" fill="#222" text-anchor="end" >0</text>
<text transform="translate(316.2,427.65) scale(1,1.07)" font-size="10" fill="#222" text-anchor="end" >-5</text>
<path d="M454.5,368.95 h-3" stroke="#f28a55" stroke-width="1"/>
<path d="M454.5,393.45 h-3" stroke="#f28a55" stroke-width="1"/>
<path d="M454.5,417.95 h-3" stroke="#f28a55" stroke-width="1"/>
<text transform="translate(456.5,370.35) scale(1,1.07)" font-size="9.7" fill="#ee8048" text-anchor="start" >3</text>
<text transform="translate(456.5,396.35) scale(1,1.07)" font-size="9.7" fill="#ee8048" text-anchor="start" >0</text>
<text transform="translate(456.5,422.35) scale(1,1.07)" font-size="9.7" fill="#ee8048" text-anchor="start" >-3</text>
<path d="M318.5,87.25 H454.5" stroke="#999" stroke-width="1.6"/>
<path d="M318.5,155.3 H454.5" stroke="#333" stroke-width="1.1"/>
<path d="M318.5,223.35 H454.5" stroke="#333" stroke-width="1.1"/>
<path d="M318.5,291.4 H454.5" stroke="#333" stroke-width="1.1"/>
<path d="M318.5,359.45 H454.5" stroke="#333" stroke-width="1.1"/>
<path d="M318.5,19.2 H454.5" stroke="#999" stroke-width="1.6"/>
<path d="M318.5,427.5 H454.5" stroke="#333" stroke-width="1.1"/>
<path d="M318.5,19.2 V427.5" stroke="#333" stroke-width="1.1"/>
<path d="M396.1,23.7 H403.8" stroke="#626262" stroke-width="1.25" stroke-dasharray="1.5 1.2" fill="none"/>
<text transform="translate(408.9,26) scale(1,1.07)" font-size="6.9" fill="#222" text-anchor="start" >Electric field</text>
<path d="M396.1,33.4 H403.8" stroke="#6a2ea3" stroke-width="1.6"/>
<text transform="translate(408.9,35.3) scale(1,1.07)" font-size="6.9" fill="#222" text-anchor="start" >Deformation</text>
<text transform="translate(365,82.9) scale(1,1.07)" font-size="10" fill="#7a45ad"><tspan font-size="11">φ</tspan><tspan dy="2.6" font-size="6.2">x</tspan><tspan dy="-2.6" font-size="9.6">≈0</tspan></text>
<text transform="translate(354.9,221.2) scale(1,1.07)" font-size="10" fill="#c24a78"><tspan font-size="11">φ</tspan><tspan dy="2.6" font-size="6.2">x</tspan><tspan dy="-2.6" font-size="9.6">=π/4</tspan></text>
<text transform="translate(354.9,351.9) scale(1,1.07)" font-size="10" fill="#e83a3a"><tspan font-size="11">φ</tspan><tspan dy="2.6" font-size="6.2">x</tspan><tspan dy="-2.6" font-size="9.6">=π/2</tspan></text>
<text transform="translate(363.2,422) scale(1,1.07)" font-size="10" fill="#ee8048"><tspan font-size="11">φ</tspan><tspan dy="2.6" font-size="6.2">x</tspan><tspan dy="-2.6" font-size="9.6"></tspan></text>
<text transform="translate(315.3,441.5) scale(1,1.07)" font-size="10" fill="#222" text-anchor="middle" >nT</text>
<text transform="translate(440,441.5) scale(1,1.07)" font-size="10" fill="#222" text-anchor="middle" >(n+1)T</text>
<text transform="translate(386.5,453) scale(1,1.07)" font-size="9.4" fill="#222" text-anchor="middle" >Time</text>
<text transform="translate(303,219.2) rotate(-90) scale(1,1.07)" font-size="10" fill="#222" text-anchor="middle">Electric field (kV/mm)</text>
<path d="M519.5,51.3 H621.5" stroke="#484848" stroke-width="1" stroke-dasharray="1.4 1.3" fill="none"/>
<path d="M528.1,81.7 528.1,81.7 528.1,81.7 528.1,81.6 528.2,81.6 528.2,81.5 528.3,81.4 528.4,81.3 528.4,81.2 528.5,81.1 528.6,81 528.7,80.8 528.9,80.6 529,80.4 529.1,80.3 529.3,80 529.4,79.8 529.6,79.6 529.8,79.3 530,79.1 530.2,78.8 530.4,78.5 530.6,78.2 530.8,77.9 531.1,77.6 531.3,77.2 531.6,76.9 531.9,76.6 532.1,76.2 532.4,75.8 532.7,75.4 533,75 533.3,74.6 533.7,74.2 534,73.8 534.3,73.4 534.7,73 535.1,72.5 535.4,72.1 535.8,71.6 536.2,71.2 536.6,70.7 537,70.3 537.4,69.8 537.8,69.3 538.3,68.9 538.7,68.4 539.1,67.9 539.6,67.5 540.1,67 540.5,66.5 541,66 541.5,65.5 542,65.1 542.5,64.6 543,64.1 543.5,63.7 544,63.2 544.5,62.7 545,62.3 545.6,61.8 546.1,61.4 546.7,60.9 547.2,60.5 547.8,60 548.3,59.6 548.9,59.2 549.5,58.8 550.1,58.4 550.7,58 551.3,57.6 551.8,57.2 552.4,56.8 553.1,56.4 553.7,56.1 554.3,55.8 554.9,55.4 555.5,55.1 556.1,54.8 556.8,54.5 557.4,54.2 558,53.9 558.7,53.7 559.3,53.4 560,53.2 560.6,53 561.3,52.7 561.9,52.6 562.6,52.4 563.2,52.2 563.9,52 564.5,51.9 565.2,51.8 565.8,51.7 566.5,51.6 567.2,51.5 567.8,51.4 568.5,51.4 569.2,51.3 569.8,51.3 570.5,51.3 571.2,51.3 571.8,51.3 572.5,51.4 573.2,51.4 573.8,51.5 574.5,51.6 575.2,51.7 575.8,51.8 576.5,51.9 577.1,52 577.8,52.2 578.4,52.4 579.1,52.6 579.7,52.7 580.4,53 581,53.2 581.7,53.4 582.3,53.7 583,53.9 583.6,54.2 584.2,54.5 584.9,54.8 585.5,55.1 586.1,55.4 586.7,55.8 587.3,56.1 587.9,56.4 588.6,56.8 589.2,57.2 589.7,57.6 590.3,58 590.9,58.4 591.5,58.8 592.1,59.2 592.7,59.6 593.2,60 593.8,60.5 594.3,60.9 594.9,61.4 595.4,61.8 596,62.3 596.5,62.7 597,63.2 597.5,63.7 598,64.1 598.5,64.6 599,65.1 599.5,65.5 600,66 600.5,66.5 600.9,67 601.4,67.5 601.9,67.9 602.3,68.4 602.7,68.9 603.2,69.3 603.6,69.8 604,70.3 604.4,70.7 604.8,71.2 605.2,71.6 605.6,72.1 605.9,72.5 606.3,73 606.7,73.4 607,73.8 607.3,74.2 607.7,74.6 608,75 608.3,75.4 608.6,75.8 608.9,76.2 609.1,76.6 609.4,76.9 609.7,77.2 609.9,77.6 610.2,77.9 610.4,78.2 610.6,78.5 610.8,78.8 611,79.1 611.2,79.3 611.4,79.6 611.6,79.8 611.7,80 611.9,80.3 612,80.4 612.1,80.6 612.3,80.8 612.4,81 612.5,81.1 612.6,81.2 612.6,81.3 612.7,81.4 612.8,81.5 612.8,81.6 612.9,81.6 612.9,81.7 612.9,81.7 612.9,81.7" stroke="#6a2ea3" stroke-width="1.9" fill="none" clip-path="url(#cc0)"/>
<path d="M519.5,119.45 H621.5" stroke="#484848" stroke-width="1" stroke-dasharray="1.4 1.3" fill="none"/>
<path d="M570.5,119.5 571.2,119.2 571.8,118.9 572.5,118.6 573.2,118.4 573.8,118.2 574.5,117.9 575.2,117.7 575.8,117.5 576.5,117.4 577.1,117.2 577.8,117 578.4,116.9 579.1,116.7 579.7,116.6 580.4,116.5 581,116.4 581.7,116.3 582.3,116.2 583,116.2 583.6,116.1 584.2,116.1 584.9,116.1 585.5,116.1 586.1,116.1 586.7,116.1 587.3,116.2 587.9,116.2 588.6,116.3 589.2,116.3 589.7,116.4 590.3,116.5 590.9,116.7 591.5,116.8 592.1,116.9 592.7,117.1 593.2,117.2 593.8,117.4 594.3,117.6 594.9,117.8 595.4,118 596,118.3 596.5,118.5 597,118.8 597.5,119 598,119.3 598.5,119.6 599,119.9 599.5,120.2 600,120.5 600.5,120.8 600.9,121.1 601.4,121.5 601.9,121.8 602.3,122.2 602.7,122.5 603.2,122.9 603.6,123.3 604,123.6 604.4,124 604.8,124.4 605.2,124.8 605.6,125.2 605.9,125.6 606.3,126 606.7,126.5 607,126.9 607.3,127.3 607.7,127.7 608,128.2 608.3,128.6 608.6,129 608.9,129.4 609.1,129.9 609.4,130.3 609.7,130.7 609.9,131.2 610.2,131.6 610.4,132 610.6,132.4 610.8,132.9 611,133.3 611.2,133.7 611.4,134.1 611.6,134.5 611.7,134.9 611.9,135.3 612,135.7 612.1,136.1 612.3,136.5 612.4,136.8 612.5,137.2 612.6,137.6 612.6,137.9 612.7,138.2 612.8,138.6 612.8,138.9 612.9,139.2 612.9,139.5 612.9,139.8 612.9,140.1 612.9,140.4 612.9,140.7 612.9,140.9 612.8,141.2 612.8,141.4 612.7,141.6 612.6,141.8 612.6,142 612.5,142.2 612.4,142.4 612.3,142.6 612.1,142.7 612,142.8 611.9,143 611.7,143.1 611.6,143.2 611.4,143.3 611.2,143.3 611,143.4 610.8,143.4 610.6,143.5 610.4,143.5 610.2,143.5 609.9,143.5 609.7,143.5 609.4,143.4 609.1,143.4 608.9,143.3 608.6,143.2 608.3,143.1 608,143 607.7,142.9 607.3,142.8 607,142.6 606.7,142.5 606.3,142.3 605.9,142.1 605.6,142 605.2,141.7 604.8,141.5 604.4,141.3 604,141.1 603.6,140.8 603.2,140.6 602.7,140.3 602.3,140 601.9,139.7 601.4,139.4 600.9,139.1 600.5,138.8 600,138.4 599.5,138.1 599,137.8 598.5,137.4 598,137.1 597.5,136.7 597,136.3 596.5,135.9 596,135.5 595.4,135.1 594.9,134.7 594.3,134.3 593.8,133.9 593.2,133.5 592.7,133.1 592.1,132.7 591.5,132.3 590.9,131.8 590.3,131.4 589.7,131 589.2,130.6 588.6,130.1 587.9,129.7 587.3,129.3 586.7,128.8 586.1,128.4 585.5,128 584.9,127.6 584.2,127.1 583.6,126.7 583,126.3 582.3,125.9 581.7,125.5 581,125.1 580.4,124.7 579.7,124.3 579.1,123.9 578.4,123.5 577.8,123.1 577.1,122.7 576.5,122.4 575.8,122 575.2,121.7 574.5,121.3 573.8,121 573.2,120.7 572.5,120.3 571.8,120 571.2,119.7 570.5,119.5 569.8,119.2 569.2,118.9 568.5,118.6 567.8,118.4 567.2,118.2 566.5,117.9 565.8,117.7 565.2,117.5 564.5,117.4 563.9,117.2 563.2,117 562.6,116.9 561.9,116.7 561.3,116.6 560.6,116.5 560,116.4 559.3,116.3 558.7,116.2 558,116.2 557.4,116.1 556.8,116.1 556.1,116.1 555.5,116.1 554.9,116.1 554.3,116.1 553.7,116.2 553.1,116.2 552.4,116.3 551.8,116.3 551.3,116.4 550.7,116.5 550.1,116.7 549.5,116.8 548.9,116.9 548.3,117.1 547.8,117.2 547.2,117.4 546.7,117.6 546.1,117.8 545.6,118 545,118.3 544.5,118.5 544,118.8 543.5,119 543,119.3 542.5,119.6 542,119.9 541.5,120.2 541,120.5 540.5,120.8 540.1,121.1 539.6,121.5 539.1,121.8 538.7,122.2 538.3,122.5 537.8,122.9 537.4,123.3 537,123.6 536.6,124 536.2,124.4 535.8,124.8 535.4,125.2 535.1,125.6 534.7,126 534.3,126.5 534,126.9 533.7,127.3 533.3,127.7 533,128.2 532.7,128.6 532.4,129 532.1,129.4 531.9,129.9 531.6,130.3 531.3,130.7 531.1,131.2 530.8,131.6 530.6,132 530.4,132.4 530.2,132.9 530,133.3 529.8,133.7 529.6,134.1 529.4,134.5 529.3,134.9 529.1,135.3 529,135.7 528.9,136.1 528.7,136.5 528.6,136.8 528.5,137.2 528.4,137.6 528.4,137.9 528.3,138.2 528.2,138.6 528.2,138.9 528.1,139.2 528.1,139.5 528.1,139.8 528.1,140.1 528.1,140.4 528.1,140.7 528.1,140.9 528.2,141.2 528.2,141.4 528.3,141.6 528.4,141.8 528.4,142 528.5,142.2 528.6,142.4 528.7,142.6 528.9,142.7 529,142.8 529.1,143 529.3,143.1 529.4,143.2 529.6,143.3 529.8,143.3 530,143.4 530.2,143.4 530.4,143.5 530.6,143.5 530.8,143.5 531.1,143.5 531.3,143.5 531.6,143.4 531.9,143.4 532.1,143.3 532.4,143.2 532.7,143.1 533,143 533.3,142.9 533.7,142.8 534,142.6 534.3,142.5 534.7,142.3 535.1,142.1 535.4,142 535.8,141.7 536.2,141.5 536.6,141.3 537,141.1 537.4,140.8 537.8,140.6 538.3,140.3 538.7,140 539.1,139.7 539.6,139.4 540.1,139.1 540.5,138.8 541,138.4 541.5,138.1 542,137.8 542.5,137.4 543,137.1 543.5,136.7 544,136.3 544.5,135.9 545,135.5 545.6,135.1 546.1,134.7 546.7,134.3 547.2,133.9 547.8,133.5 548.3,133.1 548.9,132.7 549.5,132.3 550.1,131.8 550.7,131.4 551.3,131 551.8,130.6 552.4,130.1 553.1,129.7 553.7,129.3 554.3,128.8 554.9,128.4 555.5,128 556.1,127.6 556.8,127.1 557.4,126.7 558,126.3 558.7,125.9 559.3,125.5 560,125.1 560.6,124.7 561.3,124.3 561.9,123.9 562.6,123.5 563.2,123.1 563.9,122.7 564.5,122.4 565.2,122 565.8,121.7 566.5,121.3 567.2,121 567.8,120.7 568.5,120.3 569.2,120 569.8,119.7 570.5,119.5" stroke="#9d3893" stroke-width="1.9" fill="none" clip-path="url(#cc1)"/>
<path d="M519.5,187.6 H621.5" stroke="#484848" stroke-width="1" stroke-dasharray="1.4 1.3" fill="none"/>
<path d="M570.5,187.6 571.2,187 571.8,186.4 572.5,185.8 573.2,185.2 573.8,184.6 574.5,184 575.2,183.5 575.8,182.9 576.5,182.3 577.1,181.7 577.8,181.2 578.4,180.6 579.1,180.1 579.7,179.5 580.4,179 581,178.4 581.7,177.9 582.3,177.4 583,176.9 583.6,176.4 584.2,176 584.9,175.5 585.5,175 586.1,174.6 586.7,174.2 587.3,173.7 587.9,173.3 588.6,173 589.2,172.6 589.7,172.2 590.3,171.9 590.9,171.6 591.5,171.2 592.1,171 592.7,170.7 593.2,170.4 593.8,170.2 594.3,169.9 594.9,169.7 595.4,169.5 596,169.4 596.5,169.2 597,169.1 597.5,168.9 598,168.8 598.5,168.7 599,168.7 599.5,168.6 600,168.6 600.5,168.6 600.9,168.6 601.4,168.6 601.9,168.7 602.3,168.7 602.7,168.8 603.2,168.9 603.6,169.1 604,169.2 604.4,169.4 604.8,169.5 605.2,169.7 605.6,169.9 605.9,170.2 606.3,170.4 606.7,170.7 607,171 607.3,171.2 607.7,171.6 608,171.9 608.3,172.2 608.6,172.6 608.9,173 609.1,173.3 609.4,173.7 609.7,174.2 609.9,174.6 610.2,175 610.4,175.5 610.6,176 610.8,176.4 611,176.9 611.2,177.4 611.4,177.9 611.6,178.4 611.7,179 611.9,179.5 612,180.1 612.1,180.6 612.3,181.2 612.4,181.7 612.5,182.3 612.6,182.9 612.6,183.5 612.7,184 612.8,184.6 612.8,185.2 612.9,185.8 612.9,186.4 612.9,187 612.9,187.6 612.9,188.2 612.9,188.8 612.9,189.4 612.8,190 612.8,190.6 612.7,191.2 612.6,191.7 612.6,192.3 612.5,192.9 612.4,193.5 612.3,194 612.1,194.6 612,195.1 611.9,195.7 611.7,196.2 611.6,196.8 611.4,197.3 611.2,197.8 611,198.3 610.8,198.8 610.6,199.2 610.4,199.7 610.2,200.2 609.9,200.6 609.7,201 609.4,201.5 609.1,201.9 608.9,202.2 608.6,202.6 608.3,203 608,203.3 607.7,203.6 607.3,204 607,204.2 606.7,204.5 606.3,204.8 605.9,205 605.6,205.3 605.2,205.5 604.8,205.7 604.4,205.8 604,206 603.6,206.1 603.2,206.3 602.7,206.4 602.3,206.5 601.9,206.5 601.4,206.6 600.9,206.6 600.5,206.6 600,206.6 599.5,206.6 599,206.5 598.5,206.5 598,206.4 597.5,206.3 597,206.1 596.5,206 596,205.8 595.4,205.7 594.9,205.5 594.3,205.3 593.8,205 593.2,204.8 592.7,204.5 592.1,204.2 591.5,204 590.9,203.6 590.3,203.3 589.7,203 589.2,202.6 588.6,202.2 587.9,201.9 587.3,201.5 586.7,201 586.1,200.6 585.5,200.2 584.9,199.7 584.2,199.2 583.6,198.8 583,198.3 582.3,197.8 581.7,197.3 581,196.8 580.4,196.2 579.7,195.7 579.1,195.1 578.4,194.6 577.8,194 577.1,193.5 576.5,192.9 575.8,192.3 575.2,191.7 574.5,191.2 573.8,190.6 573.2,190 572.5,189.4 571.8,188.8 571.2,188.2 570.5,187.6 569.8,187 569.2,186.4 568.5,185.8 567.8,185.2 567.2,184.6 566.5,184 565.8,183.5 565.2,182.9 564.5,182.3 563.9,181.7 563.2,181.2 562.6,180.6 561.9,180.1 561.3,179.5 560.6,179 560,178.4 559.3,177.9 558.7,177.4 558,176.9 557.4,176.4 556.8,176 556.1,175.5 555.5,175 554.9,174.6 554.3,174.2 553.7,173.7 553.1,173.3 552.4,173 551.8,172.6 551.3,172.2 550.7,171.9 550.1,171.6 549.5,171.2 548.9,171 548.3,170.7 547.8,170.4 547.2,170.2 546.7,169.9 546.1,169.7 545.6,169.5 545,169.4 544.5,169.2 544,169.1 543.5,168.9 543,168.8 542.5,168.7 542,168.7 541.5,168.6 541,168.6 540.5,168.6 540.1,168.6 539.6,168.6 539.1,168.7 538.7,168.7 538.3,168.8 537.8,168.9 537.4,169.1 537,169.2 536.6,169.4 536.2,169.5 535.8,169.7 535.4,169.9 535.1,170.2 534.7,170.4 534.3,170.7 534,171 533.7,171.2 533.3,171.6 533,171.9 532.7,172.2 532.4,172.6 532.1,173 531.9,173.3 531.6,173.7 531.3,174.2 531.1,174.6 530.8,175 530.6,175.5 530.4,176 530.2,176.4 530,176.9 529.8,177.4 529.6,177.9 529.4,178.4 529.3,179 529.1,179.5 529,180.1 528.9,180.6 528.7,181.2 528.6,181.7 528.5,182.3 528.4,182.9 528.4,183.5 528.3,184 528.2,184.6 528.2,185.2 528.1,185.8 528.1,186.4 528.1,187 528.1,187.6 528.1,188.2 528.1,188.8 528.1,189.4 528.2,190 528.2,190.6 528.3,191.2 528.4,191.7 528.4,192.3 528.5,192.9 528.6,193.5 528.7,194 528.9,194.6 529,195.1 529.1,195.7 529.3,196.2 529.4,196.8 529.6,197.3 529.8,197.8 530,198.3 530.2,198.8 530.4,199.2 530.6,199.7 530.8,200.2 531.1,200.6 531.3,201 531.6,201.5 531.9,201.9 532.1,202.2 532.4,202.6 532.7,203 533,203.3 533.3,203.6 533.7,204 534,204.2 534.3,204.5 534.7,204.8 535.1,205 535.4,205.3 535.8,205.5 536.2,205.7 536.6,205.8 537,206 537.4,206.1 537.8,206.3 538.3,206.4 538.7,206.5 539.1,206.5 539.6,206.6 540.1,206.6 540.5,206.6 541,206.6 541.5,206.6 542,206.5 542.5,206.5 543,206.4 543.5,206.3 544,206.1 544.5,206 545,205.8 545.6,205.7 546.1,205.5 546.7,205.3 547.2,205 547.8,204.8 548.3,204.5 548.9,204.2 549.5,204 550.1,203.6 550.7,203.3 551.3,203 551.8,202.6 552.4,202.2 553.1,201.9 553.7,201.5 554.3,201 554.9,200.6 555.5,200.2 556.1,199.7 556.8,199.2 557.4,198.8 558,198.3 558.7,197.8 559.3,197.3 560,196.8 560.6,196.2 561.3,195.7 561.9,195.1 562.6,194.6 563.2,194 563.9,193.5 564.5,192.9 565.2,192.3 565.8,191.7 566.5,191.2 567.2,190.6 567.8,190 568.5,189.4 569.2,188.8 569.8,188.2 570.5,187.6" stroke="#c0386c" stroke-width="1.9" fill="none" clip-path="url(#cc2)"/>
<path d="M519.5,255.75 H621.5" stroke="#484848" stroke-width="1" stroke-dasharray="1.4 1.3" fill="none"/>
<path d="M570.5,255.8 571.2,255.5 571.8,255.3 572.5,255 573.2,254.7 573.8,254.5 574.5,254.2 575.2,253.9 575.8,253.6 576.5,253.3 577.1,253.1 577.8,252.8 578.4,252.5 579.1,252.2 579.7,251.9 580.4,251.6 581,251.2 581.7,250.9 582.3,250.6 583,250.3 583.6,250 584.2,249.7 584.9,249.4 585.5,249.1 586.1,248.7 586.7,248.4 587.3,248.1 587.9,247.8 588.6,247.5 589.2,247.2 589.7,246.9 590.3,246.6 590.9,246.3 591.5,246 592.1,245.7 592.7,245.4 593.2,245.1 593.8,244.8 594.3,244.6 594.9,244.3 595.4,244 596,243.8 596.5,243.5 597,243.2 597.5,243 598,242.8 598.5,242.5 599,242.3 599.5,242.1 600,241.9 600.5,241.7 600.9,241.5 601.4,241.3 601.9,241.1 602.3,240.9 602.7,240.8 603.2,240.6 603.6,240.5 604,240.3 604.4,240.2 604.8,240.1 605.2,240 605.6,239.9 605.9,239.8 606.3,239.7 606.7,239.6 607,239.6 607.3,239.5 607.7,239.5 608,239.4 608.3,239.4 608.6,239.4 608.9,239.4 609.1,239.4 609.4,239.4 609.7,239.4 609.9,239.5 610.2,239.5 610.4,239.6 610.6,239.6 610.8,239.7 611,239.8 611.2,239.9 611.4,240 611.6,240.1 611.7,240.2 611.9,240.3 612,240.5 612.1,240.6 612.3,240.8 612.4,240.9 612.5,241.1 612.6,241.3 612.6,241.5 612.7,241.7 612.8,241.9 612.8,242.1 612.9,242.3 612.9,242.5 612.9,242.8 612.9,243 612.9,243.2 612.9,243.5 612.9,243.8 612.8,244 612.8,244.3 612.7,244.6 612.6,244.8 612.6,245.1 612.5,245.4 612.4,245.7 612.3,246 612.1,246.3 612,246.6 611.9,246.9 611.7,247.2 611.6,247.5 611.4,247.8 611.2,248.1 611,248.4 610.8,248.7 610.6,249.1 610.4,249.4 610.2,249.7 609.9,250 609.7,250.3 609.4,250.6 609.1,250.9 608.9,251.2 608.6,251.6 608.3,251.9 608,252.2 607.7,252.5 607.3,252.8 607,253.1 606.7,253.3 606.3,253.6 605.9,253.9 605.6,254.2 605.2,254.5 604.8,254.7 604.4,255 604,255.3 603.6,255.5 603.2,255.8 602.7,256 602.3,256.2 601.9,256.4 601.4,256.7 600.9,256.9 600.5,257.1 600,257.3 599.5,257.5 599,257.6 598.5,257.8 598,258 597.5,258.1 597,258.3 596.5,258.4 596,258.6 595.4,258.7 594.9,258.8 594.3,258.9 593.8,259 593.2,259.1 592.7,259.1 592.1,259.2 591.5,259.3 590.9,259.3 590.3,259.3 589.7,259.4 589.2,259.4 588.6,259.4 587.9,259.4 587.3,259.4 586.7,259.3 586.1,259.3 585.5,259.3 584.9,259.2 584.2,259.1 583.6,259.1 583,259 582.3,258.9 581.7,258.8 581,258.7 580.4,258.6 579.7,258.4 579.1,258.3 578.4,258.1 577.8,258 577.1,257.8 576.5,257.6 575.8,257.5 575.2,257.3 574.5,257.1 573.8,256.9 573.2,256.7 572.5,256.4 571.8,256.2 571.2,256 570.5,255.8 569.8,255.5 569.2,255.3 568.5,255 567.8,254.7 567.2,254.5 566.5,254.2 565.8,253.9 565.2,253.6 564.5,253.3 563.9,253.1 563.2,252.8 562.6,252.5 561.9,252.2 561.3,251.9 560.6,251.6 560,251.2 559.3,250.9 558.7,250.6 558,250.3 557.4,250 556.8,249.7 556.1,249.4 555.5,249.1 554.9,248.7 554.3,248.4 553.7,248.1 553.1,247.8 552.4,247.5 551.8,247.2 551.3,246.9 550.7,246.6 550.1,246.3 549.5,246 548.9,245.7 548.3,245.4 547.8,245.1 547.2,244.8 546.7,244.6 546.1,244.3 545.6,244 545,243.8 544.5,243.5 544,243.2 543.5,243 543,242.8 542.5,242.5 542,242.3 541.5,242.1 541,241.9 540.5,241.7 540.1,241.5 539.6,241.3 539.1,241.1 538.7,240.9 538.3,240.8 537.8,240.6 537.4,240.5 537,240.3 536.6,240.2 536.2,240.1 535.8,240 535.4,239.9 535.1,239.8 534.7,239.7 534.3,239.6 534,239.6 533.7,239.5 533.3,239.5 533,239.4 532.7,239.4 532.4,239.4 532.1,239.4 531.9,239.4 531.6,239.4 531.3,239.4 531.1,239.5 530.8,239.5 530.6,239.6 530.4,239.6 530.2,239.7 530,239.8 529.8,239.9 529.6,240 529.4,240.1 529.3,240.2 529.1,240.3 529,240.5 528.9,240.6 528.7,240.8 528.6,240.9 528.5,241.1 528.4,241.3 528.4,241.5 528.3,241.7 528.2,241.9 528.2,242.1 528.1,242.3 528.1,242.5 528.1,242.8 528.1,243 528.1,243.2 528.1,243.5 528.1,243.8 528.2,244 528.2,244.3 528.3,244.6 528.4,244.8 528.4,245.1 528.5,245.4 528.6,245.7 528.7,246 528.9,246.3 529,246.6 529.1,246.9 529.3,247.2 529.4,247.5 529.6,247.8 529.8,248.1 530,248.4 530.2,248.7 530.4,249.1 530.6,249.4 530.8,249.7 531.1,250 531.3,250.3 531.6,250.6 531.9,250.9 532.1,251.2 532.4,251.6 532.7,251.9 533,252.2 533.3,252.5 533.7,252.8 534,253.1 534.3,253.3 534.7,253.6 535.1,253.9 535.4,254.2 535.8,254.5 536.2,254.7 536.6,255 537,255.3 537.4,255.5 537.8,255.8 538.3,256 538.7,256.2 539.1,256.4 539.6,256.7 540.1,256.9 540.5,257.1 541,257.3 541.5,257.5 542,257.6 542.5,257.8 543,258 543.5,258.1 544,258.3 544.5,258.4 545,258.6 545.6,258.7 546.1,258.8 546.7,258.9 547.2,259 547.8,259.1 548.3,259.1 548.9,259.2 549.5,259.3 550.1,259.3 550.7,259.3 551.3,259.4 551.8,259.4 552.4,259.4 553.1,259.4 553.7,259.4 554.3,259.3 554.9,259.3 555.5,259.3 556.1,259.2 556.8,259.1 557.4,259.1 558,259 558.7,258.9 559.3,258.8 560,258.7 560.6,258.6 561.3,258.4 561.9,258.3 562.6,258.1 563.2,258 563.9,257.8 564.5,257.6 565.2,257.5 565.8,257.3 566.5,257.1 567.2,256.9 567.8,256.7 568.5,256.4 569.2,256.2 569.8,256 570.5,255.8" stroke="#d9384f" stroke-width="1.9" fill="none" clip-path="url(#cc3)"/>
<path d="M519.5,323.9 H621.5" stroke="#484848" stroke-width="1" stroke-dasharray="1.4 1.3" fill="none"/>
<path d="M528.1,305.9 528.1,305.9 528.1,305.9 528.1,305.9 528.2,306 528.2,306 528.3,306.1 528.4,306.1 528.4,306.2 528.5,306.3 528.6,306.3 528.7,306.4 528.9,306.5 529,306.6 529.1,306.8 529.3,306.9 529.4,307 529.6,307.2 529.8,307.3 530,307.5 530.2,307.6 530.4,307.8 530.6,308 530.8,308.1 531.1,308.3 531.3,308.5 531.6,308.7 531.9,308.9 532.1,309.2 532.4,309.4 532.7,309.6 533,309.8 533.3,310.1 533.7,310.3 534,310.6 534.3,310.8 534.7,311.1 535.1,311.3 535.4,311.6 535.8,311.9 536.2,312.1 536.6,312.4 537,312.7 537.4,312.9 537.8,313.2 538.3,313.5 538.7,313.8 539.1,314.1 539.6,314.3 540.1,314.6 540.5,314.9 541,315.2 541.5,315.5 542,315.7 542.5,316 543,316.3 543.5,316.6 544,316.9 544.5,317.1 545,317.4 545.6,317.7 546.1,317.9 546.7,318.2 547.2,318.5 547.8,318.7 548.3,319 548.9,319.2 549.5,319.5 550.1,319.7 550.7,320 551.3,320.2 551.8,320.4 552.4,320.6 553.1,320.9 553.7,321.1 554.3,321.3 554.9,321.5 555.5,321.7 556.1,321.8 556.8,322 557.4,322.2 558,322.3 558.7,322.5 559.3,322.6 560,322.8 560.6,322.9 561.3,323 561.9,323.2 562.6,323.3 563.2,323.4 563.9,323.5 564.5,323.5 565.2,323.6 565.8,323.7 566.5,323.7 567.2,323.8 567.8,323.8 568.5,323.9 569.2,323.9 569.8,323.9 570.5,323.9 571.2,323.9 571.8,323.9 572.5,323.9 573.2,323.8 573.8,323.8 574.5,323.7 575.2,323.7 575.8,323.6 576.5,323.5 577.1,323.5 577.8,323.4 578.4,323.3 579.1,323.2 579.7,323 580.4,322.9 581,322.8 581.7,322.6 582.3,322.5 583,322.3 583.6,322.2 584.2,322 584.9,321.8 585.5,321.7 586.1,321.5 586.7,321.3 587.3,321.1 587.9,320.9 588.6,320.6 589.2,320.4 589.7,320.2 590.3,320 590.9,319.7 591.5,319.5 592.1,319.2 592.7,319 593.2,318.7 593.8,318.5 594.3,318.2 594.9,317.9 595.4,317.7 596,317.4 596.5,317.1 597,316.9 597.5,316.6 598,316.3 598.5,316 599,315.7 599.5,315.5 600,315.2 600.5,314.9 600.9,314.6 601.4,314.3 601.9,314.1 602.3,313.8 602.7,313.5 603.2,313.2 603.6,312.9 604,312.7 604.4,312.4 604.8,312.1 605.2,311.9 605.6,311.6 605.9,311.3 606.3,311.1 606.7,310.8 607,310.6 607.3,310.3 607.7,310.1 608,309.8 608.3,309.6 608.6,309.4 608.9,309.2 609.1,308.9 609.4,308.7 609.7,308.5 609.9,308.3 610.2,308.1 610.4,308 610.6,307.8 610.8,307.6 611,307.5 611.2,307.3 611.4,307.2 611.6,307 611.7,306.9 611.9,306.8 612,306.6 612.1,306.5 612.3,306.4 612.4,306.3 612.5,306.3 612.6,306.2 612.6,306.1 612.7,306.1 612.8,306 612.8,306 612.9,305.9 612.9,305.9 612.9,305.9 612.9,305.9" stroke="#e8262a" stroke-width="1.9" fill="none" clip-path="url(#cc4)"/>
<path d="M519.5,392.05 H621.5" stroke="#484848" stroke-width="1" stroke-dasharray="1.4 1.3" fill="none"/>
<path d="M570.5,392.1 571.2,392.3 571.8,392.6 572.5,392.8 573.2,393 573.8,393.3 574.5,393.5 575.2,393.7 575.8,393.9 576.5,394 577.1,394.2 577.8,394.4 578.4,394.5 579.1,394.6 579.7,394.8 580.4,394.9 581,395 581.7,395.1 582.3,395.2 583,395.2 583.6,395.3 584.2,395.3 584.9,395.3 585.5,395.4 586.1,395.4 586.7,395.4 587.3,395.3 587.9,395.3 588.6,395.3 589.2,395.2 589.7,395.2 590.3,395.1 590.9,395 591.5,394.9 592.1,394.8 592.7,394.6 593.2,394.5 593.8,394.4 594.3,394.2 594.9,394 595.4,393.9 596,393.7 596.5,393.5 597,393.3 597.5,393 598,392.8 598.5,392.6 599,392.3 599.5,392.1 600,391.8 600.5,391.5 600.9,391.2 601.4,390.9 601.9,390.6 602.3,390.3 602.7,390 603.2,389.7 603.6,389.4 604,389 604.4,388.7 604.8,388.3 605.2,388 605.6,387.6 605.9,387.3 606.3,386.9 606.7,386.5 607,386.2 607.3,385.8 607.7,385.4 608,385 608.3,384.7 608.6,384.3 608.9,383.9 609.1,383.5 609.4,383.1 609.7,382.7 609.9,382.4 610.2,382 610.4,381.6 610.6,381.2 610.8,380.8 611,380.4 611.2,380.1 611.4,379.7 611.6,379.3 611.7,379 611.9,378.6 612,378.3 612.1,377.9 612.3,377.6 612.4,377.2 612.5,376.9 612.6,376.6 612.6,376.2 612.7,375.9 612.8,375.6 612.8,375.3 612.9,375 612.9,374.7 612.9,374.5 612.9,374.2 612.9,373.9 612.9,373.7 612.9,373.4 612.8,373.2 612.8,373 612.7,372.8 612.6,372.6 612.6,372.4 612.5,372.2 612.4,372 612.3,371.9 612.1,371.7 612,371.6 611.9,371.5 611.7,371.4 611.6,371.3 611.4,371.2 611.2,371.1 611,371 610.8,371 610.6,370.9 610.4,370.9 610.2,370.9 609.9,370.9 609.7,370.9 609.4,370.9 609.1,370.9 608.9,371 608.6,371 608.3,371.1 608,371.2 607.7,371.3 607.3,371.4 607,371.5 606.7,371.6 606.3,371.7 605.9,371.9 605.6,372 605.2,372.2 604.8,372.4 604.4,372.6 604,372.8 603.6,373 603.2,373.2 602.7,373.4 602.3,373.7 601.9,373.9 601.4,374.2 600.9,374.5 600.5,374.7 600,375 599.5,375.3 599,375.6 598.5,375.9 598,376.2 597.5,376.6 597,376.9 596.5,377.2 596,377.6 595.4,377.9 594.9,378.3 594.3,378.6 593.8,379 593.2,379.3 592.7,379.7 592.1,380.1 591.5,380.4 590.9,380.8 590.3,381.2 589.7,381.6 589.2,382 588.6,382.4 587.9,382.7 587.3,383.1 586.7,383.5 586.1,383.9 585.5,384.3 584.9,384.7 584.2,385 583.6,385.4 583,385.8 582.3,386.2 581.7,386.5 581,386.9 580.4,387.3 579.7,387.6 579.1,388 578.4,388.3 577.8,388.7 577.1,389 576.5,389.4 575.8,389.7 575.2,390 574.5,390.3 573.8,390.6 573.2,390.9 572.5,391.2 571.8,391.5 571.2,391.8 570.5,392.1 569.8,392.3 569.2,392.6 568.5,392.8 567.8,393 567.2,393.3 566.5,393.5 565.8,393.7 565.2,393.9 564.5,394 563.9,394.2 563.2,394.4 562.6,394.5 561.9,394.6 561.3,394.8 560.6,394.9 560,395 559.3,395.1 558.7,395.2 558,395.2 557.4,395.3 556.8,395.3 556.1,395.3 555.5,395.4 554.9,395.4 554.3,395.4 553.7,395.3 553.1,395.3 552.4,395.3 551.8,395.2 551.3,395.2 550.7,395.1 550.1,395 549.5,394.9 548.9,394.8 548.3,394.6 547.8,394.5 547.2,394.4 546.7,394.2 546.1,394 545.6,393.9 545,393.7 544.5,393.5 544,393.3 543.5,393 543,392.8 542.5,392.6 542,392.3 541.5,392.1 541,391.8 540.5,391.5 540.1,391.2 539.6,390.9 539.1,390.6 538.7,390.3 538.3,390 537.8,389.7 537.4,389.4 537,389 536.6,388.7 536.2,388.3 535.8,388 535.4,387.6 535.1,387.3 534.7,386.9 534.3,386.5 534,386.2 533.7,385.8 533.3,385.4 533,385 532.7,384.7 532.4,384.3 532.1,383.9 531.9,383.5 531.6,383.1 531.3,382.7 531.1,382.4 530.8,382 530.6,381.6 530.4,381.2 530.2,380.8 530,380.4 529.8,380.1 529.6,379.7 529.4,379.3 529.3,379 529.1,378.6 529,378.3 528.9,377.9 528.7,377.6 528.6,377.2 528.5,376.9 528.4,376.6 528.4,376.2 528.3,375.9 528.2,375.6 528.2,375.3 528.1,375 528.1,374.7 528.1,374.5 528.1,374.2 528.1,373.9 528.1,373.7 528.1,373.4 528.2,373.2 528.2,373 528.3,372.8 528.4,372.6 528.4,372.4 528.5,372.2 528.6,372 528.7,371.9 528.9,371.7 529,371.6 529.1,371.5 529.3,371.4 529.4,371.3 529.6,371.2 529.8,371.1 530,371 530.2,371 530.4,370.9 530.6,370.9 530.8,370.9 531.1,370.9 531.3,370.9 531.6,370.9 531.9,370.9 532.1,371 532.4,371 532.7,371.1 533,371.2 533.3,371.3 533.7,371.4 534,371.5 534.3,371.6 534.7,371.7 535.1,371.9 535.4,372 535.8,372.2 536.2,372.4 536.6,372.6 537,372.8 537.4,373 537.8,373.2 538.3,373.4 538.7,373.7 539.1,373.9 539.6,374.2 540.1,374.5 540.5,374.7 541,375 541.5,375.3 542,375.6 542.5,375.9 543,376.2 543.5,376.6 544,376.9 544.5,377.2 545,377.6 545.6,377.9 546.1,378.3 546.7,378.6 547.2,379 547.8,379.3 548.3,379.7 548.9,380.1 549.5,380.4 550.1,380.8 550.7,381.2 551.3,381.6 551.8,382 552.4,382.4 553.1,382.7 553.7,383.1 554.3,383.5 554.9,383.9 555.5,384.3 556.1,384.7 556.8,385 557.4,385.4 558,385.8 558.7,386.2 559.3,386.5 560,386.9 560.6,387.3 561.3,387.6 561.9,388 562.6,388.3 563.2,388.7 563.9,389 564.5,389.4 565.2,389.7 565.8,390 566.5,390.3 567.2,390.6 567.8,390.9 568.5,391.2 569.2,391.5 569.8,391.8 570.5,392.1" stroke="#ef7232" stroke-width="1.9" fill="none" clip-path="url(#cc5)"/>
<path d="M570.5,17.3 V426.2" stroke="#484848" stroke-width="1" stroke-dasharray="1.4 1.3" fill="none"/>
<path d="M519.5,17.3 V85.45" stroke="#7d45b0" stroke-width="1.05"/>
<path d="M519.5,26.1 h3" stroke="#7d45b0" stroke-width="1"/>
<path d="M519.5,51.3 h3" stroke="#7d45b0" stroke-width="1"/>
<path d="M519.5,76.5 h3" stroke="#7d45b0" stroke-width="1"/>
<text transform="translate(517,29.3) scale(1,1.07)" font-size="9.7" fill="#7a45ad" text-anchor="end" >30</text>
<text transform="translate(517,54.7) scale(1,1.07)" font-size="9.7" fill="#7a45ad" text-anchor="end" >0</text>
<text transform="translate(517,79.7) scale(1,1.07)" font-size="9.7" fill="#7a45ad" text-anchor="end" >-30</text>
<path d="M528.1,85.45 v-2.6" stroke="#333" stroke-width="0.9"/>
<path d="M570.5,85.45 v-2.6" stroke="#333" stroke-width="0.9"/>
<path d="M612.9,85.45 v-2.6" stroke="#333" stroke-width="0.9"/>
<text transform="translate(573,26.7) scale(1,1.07)" font-size="9.6" fill="#7a45ad" text-anchor="start" >c=0.05</text>
<path d="M519.5,85.45 V153.6" stroke="#a54e9e" stroke-width="1.05"/>
<path d="M519.5,94.25 h3" stroke="#a54e9e" stroke-width="1"/>
<path d="M519.5,119.45 h3" stroke="#a54e9e" stroke-width="1"/>
<path d="M519.5,144.65 h3" stroke="#a54e9e" stroke-width="1"/>
<text transform="translate(517,97.45) scale(1,1.07)" font-size="9.7" fill="#a24a98" text-anchor="end" >30</text>
<text transform="translate(517,122.85) scale(1,1.07)" font-size="9.7" fill="#a24a98" text-anchor="end" >0</text>
<text transform="translate(517,147.85) scale(1,1.07)" font-size="9.7" fill="#a24a98" text-anchor="end" >-30</text>
<path d="M528.1,153.6 v-2.6" stroke="#333" stroke-width="0.9"/>
<path d="M570.5,153.6 v-2.6" stroke="#333" stroke-width="0.9"/>
<path d="M612.9,153.6 v-2.6" stroke="#333" stroke-width="0.9"/>
<text transform="translate(573,93.9) scale(1,1.07)" font-size="9.6" fill="#a24a98" text-anchor="start" >c=3</text>
<path d="M519.5,153.6 V221.75" stroke="#c8507e" stroke-width="1.05"/>
<path d="M519.5,170.6 h3" stroke="#c8507e" stroke-width="1"/>
<path d="M519.5,187.6 h3" stroke="#c8507e" stroke-width="1"/>
<path d="M519.5,204.6 h3" stroke="#c8507e" stroke-width="1"/>
<text transform="translate(517,166.3) scale(1,1.07)" font-size="9.7" fill="#c24a78" text-anchor="end" >30</text>
<text transform="translate(517,191) scale(1,1.07)" font-size="9.7" fill="#c24a78" text-anchor="end" >0</text>
<text transform="translate(517,217.3) scale(1,1.07)" font-size="9.7" fill="#c24a78" text-anchor="end" >-30</text>
<path d="M528.1,221.75 v-2.6" stroke="#333" stroke-width="0.9"/>
<path d="M570.5,221.75 v-2.6" stroke="#333" stroke-width="0.9"/>
<path d="M612.9,221.75 v-2.6" stroke="#333" stroke-width="0.9"/>
<text transform="translate(573,162.2) scale(1,1.07)" font-size="9.6" fill="#c24a78" text-anchor="start" >c=6.7</text>
<path d="M519.5,221.75 V289.9" stroke="#dd5064" stroke-width="1.05"/>
<path d="M519.5,238.75 h3" stroke="#dd5064" stroke-width="1"/>
<path d="M519.5,255.75 h3" stroke="#dd5064" stroke-width="1"/>
<path d="M519.5,272.75 h3" stroke="#dd5064" stroke-width="1"/>
<text transform="translate(517,234.45) scale(1,1.07)" font-size="9.7" fill="#d9475e" text-anchor="end" >30</text>
<text transform="translate(517,259.15) scale(1,1.07)" font-size="9.7" fill="#d9475e" text-anchor="end" >0</text>
<text transform="translate(517,285.45) scale(1,1.07)" font-size="9.7" fill="#d9475e" text-anchor="end" >-30</text>
<path d="M528.1,289.9 v-2.6" stroke="#333" stroke-width="0.9"/>
<path d="M570.5,289.9 v-2.6" stroke="#333" stroke-width="0.9"/>
<path d="M612.9,289.9 v-2.6" stroke="#333" stroke-width="0.9"/>
<text transform="translate(573,230.35) scale(1,1.07)" font-size="9.6" fill="#d9475e" text-anchor="start" >c=12</text>
<path d="M519.5,289.9 V358.05" stroke="#ec4040" stroke-width="1.05"/>
<path d="M519.5,299.4 h3" stroke="#ec4040" stroke-width="1"/>
<path d="M519.5,323.9 h3" stroke="#ec4040" stroke-width="1"/>
<path d="M519.5,348.4 h3" stroke="#ec4040" stroke-width="1"/>
<text transform="translate(517,310.5) scale(1,1.07)" font-size="9.7" fill="#e83a3a" text-anchor="end" >10</text>
<text transform="translate(517,327.3) scale(1,1.07)" font-size="9.7" fill="#e83a3a" text-anchor="end" >0</text>
<text transform="translate(517,344.5) scale(1,1.07)" font-size="9.7" fill="#e83a3a" text-anchor="end" >-10</text>
<path d="M528.1,358.05 v-2.6" stroke="#333" stroke-width="0.9"/>
<path d="M570.5,358.05 v-2.6" stroke="#333" stroke-width="0.9"/>
<path d="M612.9,358.05 v-2.6" stroke="#333" stroke-width="0.9"/>
<text transform="translate(573,297.9) scale(1,1.07)" font-size="9.6" fill="#e83a3a" text-anchor="start" >c=22</text>
<path d="M519.5,358.05 V426.2" stroke="#f28a55" stroke-width="1.05"/>
<path d="M519.5,367.55 h3" stroke="#f28a55" stroke-width="1"/>
<path d="M519.5,392.05 h3" stroke="#f28a55" stroke-width="1"/>
<path d="M519.5,416.55 h3" stroke="#f28a55" stroke-width="1"/>
<text transform="translate(517,370.45) scale(1,1.07)" font-size="9.7" fill="#ee8048" text-anchor="end" >3</text>
<text transform="translate(517,395.45) scale(1,1.07)" font-size="9.7" fill="#ee8048" text-anchor="end" >0</text>
<text transform="translate(517,420.85) scale(1,1.07)" font-size="9.7" fill="#ee8048" text-anchor="end" >-3</text>
<path d="M528.1,426.2 v-2.6" stroke="#333" stroke-width="0.9"/>
<path d="M570.5,426.2 v-2.6" stroke="#333" stroke-width="0.9"/>
<path d="M612.9,426.2 v-2.6" stroke="#333" stroke-width="0.9"/>
<text transform="translate(573,366.75) scale(1,1.07)" font-size="9.6" fill="#ee8048" text-anchor="start" >c=48</text>
<path d="M519.5,85.45 H621.5" stroke="#333" stroke-width="1.1"/>
<path d="M519.5,153.6 H621.5" stroke="#333" stroke-width="1.1"/>
<path d="M519.5,221.75 H621.5" stroke="#333" stroke-width="1.1"/>
<path d="M519.5,289.9 H621.5" stroke="#333" stroke-width="1.1"/>
<path d="M519.5,358.05 H621.5" stroke="#999" stroke-width="1.6"/>
<path d="M519.5,17.3 H621.5" stroke="#333" stroke-width="1.1"/>
<path d="M519.5,426.2 H621.5" stroke="#333" stroke-width="1.1"/>
<path d="M621.5,17.3 V426.2" stroke="#333" stroke-width="1.1"/>
<text transform="translate(526.4,439.7) scale(1,1.07)" font-size="10" fill="#222" text-anchor="middle" >-5</text>
<text transform="translate(569.6,439.7) scale(1,1.07)" font-size="10" fill="#222" text-anchor="middle" >0</text>
<text transform="translate(612.7,439.7) scale(1,1.07)" font-size="10" fill="#222" text-anchor="middle" >5</text>
<text transform="translate(573.2,453.3) scale(1,1.07)" font-size="10" fill="#222" text-anchor="middle" >E (kV/mm)</text>
<text transform="translate(497.2,217.7) rotate(-90) scale(1,1.07)" font-size="10" fill="#222" text-anchor="middle">Deformation δ (10<tspan dy="-3" font-size="6.5">-15</tspan><tspan dy="3">m)</tspan></text>
<path d="M541.9,167.6 C540,160 530,160 527.6,167.4" stroke="#1a1a1a" stroke-width="1.3" fill="none" marker-end="url(#ah)"/>
<path d="M594.5,167.6 C596.5,160 606.5,160 609.3,167.2" stroke="#1a1a1a" stroke-width="1.3" fill="none" marker-end="url(#ah)"/>
<path d="M539.3,238.3 C537.5,231 528,231 525.4,238.2" stroke="#1a1a1a" stroke-width="1.3" fill="none" marker-end="url(#ah)"/>
<path d="M603,238.3 C605,231 614,231 616,238.2" stroke="#1a1a1a" stroke-width="1.3" fill="none" marker-end="url(#ah)"/>
<path d="M526.1,367.2 C529,361 538,361 540.8,369.9" stroke="#1a1a1a" stroke-width="1.3" fill="none" marker-end="url(#ah)"/>
<path d="M611.7,368.8 C609,362 600,362 596.4,370.4" stroke="#1a1a1a" stroke-width="1.3" fill="none" marker-end="url(#ah)"/>
<text transform="translate(641.2,45.8) scale(1,1.07)" font-size="9.8" fill="#7a45ad" text-anchor="start" >downward</text>
<text transform="translate(641.2,59.7) scale(1,1.07)" font-size="9.8" fill="#7a45ad" text-anchor="start" >M&lt;0</text>
<text transform="translate(641.2,115.8) scale(1,1.07)" font-size="9.8" fill="#a24a98" text-anchor="start" >downward</text>
<text transform="translate(641.2,129.7) scale(1,1.07)" font-size="9.8" fill="#a24a98" text-anchor="start" >M&lt;0</text>
<text transform="translate(641.2,184.3) scale(1,1.07)" font-size="9.8" fill="#c24a78" text-anchor="start" >x=0</text>
<text transform="translate(641.2,196.9) scale(1,1.07)" font-size="9.8" fill="#c24a78" text-anchor="start" >M&lt;0</text>
<text transform="translate(641.2,249.9) scale(1,1.07)" font-size="9.8" fill="#d9475e" text-anchor="start" >upward</text>
<text transform="translate(641.2,263.9) scale(1,1.07)" font-size="9.8" fill="#d9475e" text-anchor="start" >M&lt;0</text>
<text transform="translate(641.2,320) scale(1,1.07)" font-size="9.8" fill="#e83a3a" text-anchor="start" >upward</text>
<text transform="translate(641.2,333.2) scale(1,1.07)" font-size="9.8" fill="#e83a3a" text-anchor="start" >M&gt;0</text>
<text transform="translate(641.2,388.1) scale(1,1.07)" font-size="9.8" fill="#ee8048" text-anchor="start" >upward</text>
<text transform="translate(641.2,400) scale(1,1.07)" font-size="9.8" fill="#ee8048" text-anchor="start" >M&gt;0</text></svg>
</body></html>
